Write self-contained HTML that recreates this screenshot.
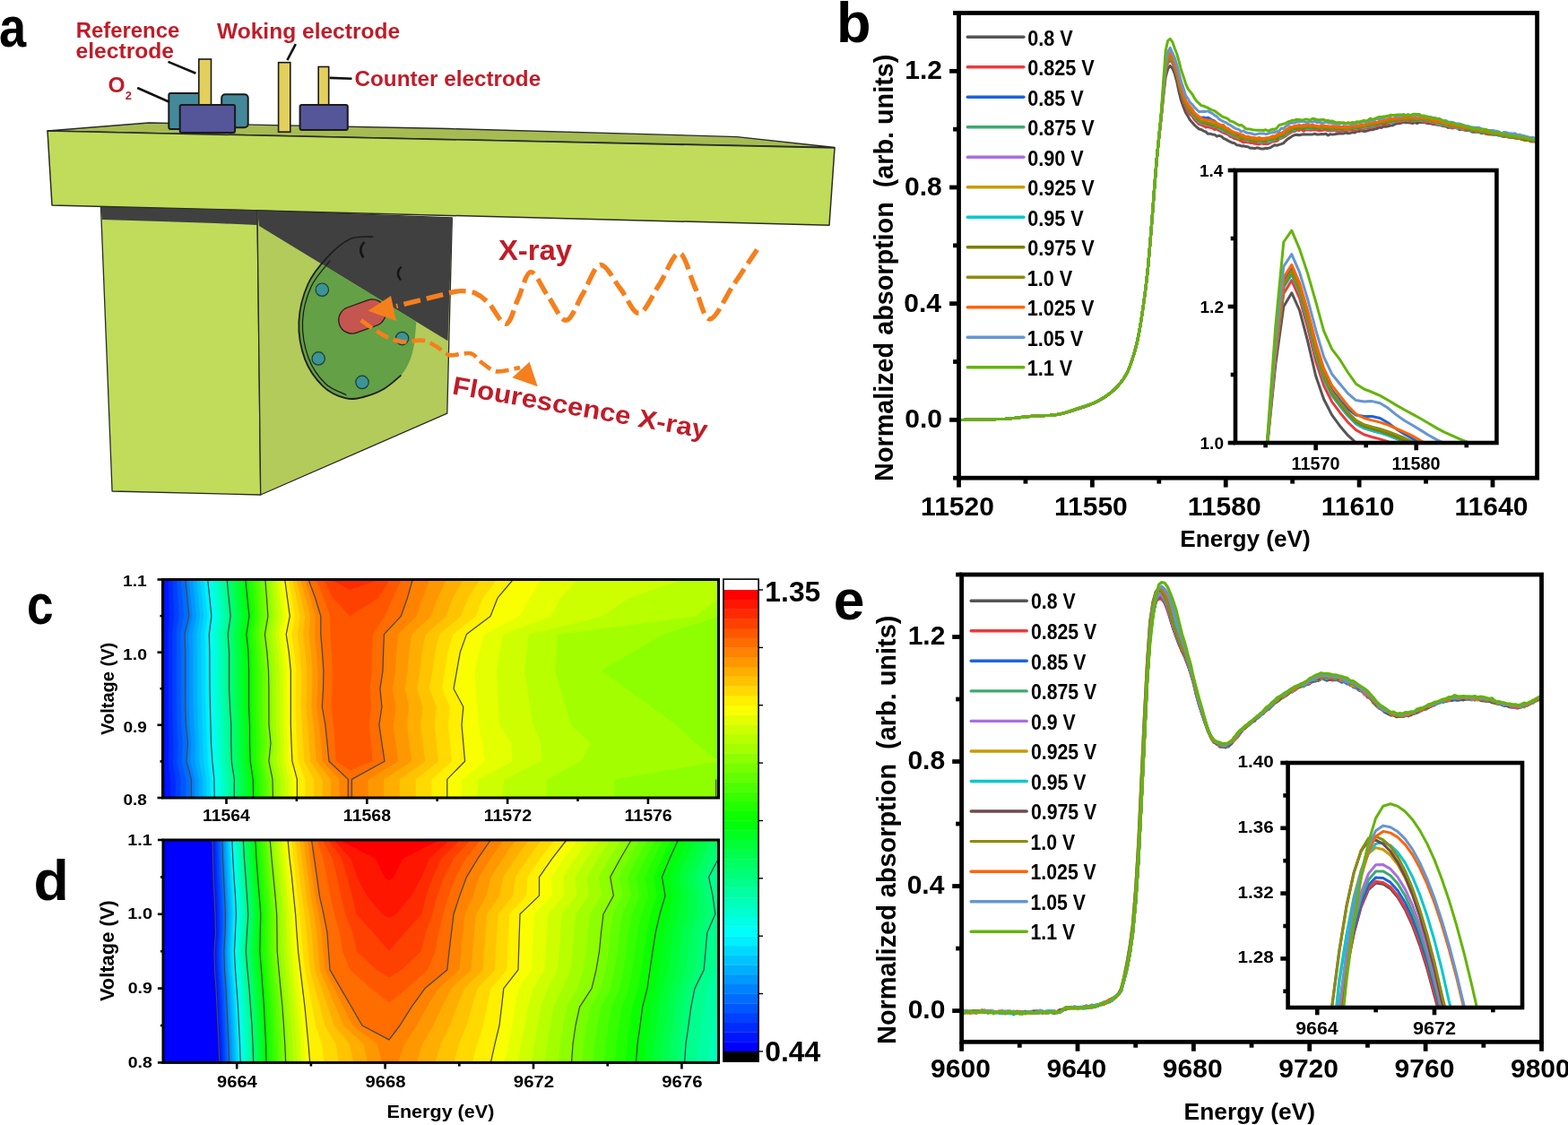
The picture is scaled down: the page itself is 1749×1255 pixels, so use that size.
<!DOCTYPE html>
<html><head><meta charset="utf-8"><title>Figure</title>
<style>html,body{margin:0;padding:0;background:#fff;}body{width:1749px;height:1255px;overflow:hidden;}svg{display:block;font-family:"Liberation Sans",Arial,sans-serif;}</style>
</head><body>
<svg width="1749" height="1255" viewBox="0 0 1749 1255"><polygon points="53,146 166,137 500,143.5 822,152.6 931,164.5" fill="#a6bc52" stroke="#2a2a2a" stroke-width="1.3" stroke-linejoin="round"/>
<rect x="188.3" y="104" width="34.3" height="40" rx="2" fill="#44899a" stroke="#1a1a1a" stroke-width="2"/>
<rect x="247.2" y="105.2" width="29.5" height="37" rx="4" fill="#44899a" stroke="#1a1a1a" stroke-width="2"/>
<rect x="221.8" y="66" width="13.7" height="54" fill="#e3cf5c" stroke="#1a1a1a" stroke-width="1.6"/>
<rect x="200.7" y="116.9" width="61.4" height="31" rx="2" fill="#55559a" stroke="#1a1a1a" stroke-width="2"/>
<rect x="310.6" y="69.7" width="13.2" height="77.5" fill="#e3cf5c" stroke="#1a1a1a" stroke-width="1.6"/>
<rect x="355.2" y="74.5" width="11.5" height="46" fill="#e3cf5c" stroke="#1a1a1a" stroke-width="1.6"/>
<rect x="334.6" y="117" width="53.2" height="28" rx="2" fill="#55559a" stroke="#1a1a1a" stroke-width="2"/>
<line x1="153.2" y1="98" x2="188.3" y2="113.5" stroke="#111" stroke-width="2.6"/>
<line x1="187.5" y1="68.9" x2="218.4" y2="81.7" stroke="#111" stroke-width="2.6"/>
<line x1="329.8" y1="49.2" x2="320.4" y2="67.2" stroke="#111" stroke-width="2.6"/>
<line x1="367.6" y1="86.9" x2="392.5" y2="87.8" stroke="#111" stroke-width="2.6"/>
<polygon points="53,146 931,165 925,251.3 58,229" fill="#c0dc5a" stroke="#2a2a2a" stroke-width="1.5" stroke-linejoin="round"/>
<polygon points="112.5,231 287,235 290.7,552 125.1,548" fill="#c0dc5a" stroke="#2a2a2a" stroke-width="1.3" stroke-linejoin="round"/>
<polygon points="112.5,231 287,235 287,251 240,249 180,247 114,245" fill="#404040"/>
<polygon points="287,235 504.3,243 498.8,461.2 290.7,552" fill="#b3cb5a" stroke="#2a2a2a" stroke-width="1.3" stroke-linejoin="round"/>
<clipPath id="litface"><polygon points="289,252 499.5,380.3 498.8,461.2 290.7,552"/></clipPath>
<clipPath id="darkface"><polygon points="287,235 504.3,243 499.5,380.3 289,252"/></clipPath>
<polygon points="287,235 504.3,243 499.5,380.3 289,252" fill="#404040"/>
<g clip-path="url(#litface)"><path d="M415.4,264.2 C411.2,264.6 398.7,262.9 390.3,266.7 C381.9,270.5 373.0,278.4 365.2,286.8 C357.4,295.2 348.8,305.0 343.5,317.0 C338.2,329.0 334.0,344.9 333.4,358.8 C332.8,372.7 335.6,388.6 340.1,400.6 C344.6,412.6 352.7,423.5 360.2,430.8 C367.7,438.1 377.8,442.2 385.3,444.2 C392.8,446.2 397.9,444.7 405.0,443.0 C412.1,441.3 421.0,438.0 428.0,434.0 C435.0,430.0 442.0,424.7 447.0,419.0 C452.0,413.3 455.3,407.3 458.0,400.0 C460.7,392.7 462.0,385.0 463.0,375.0 C464.0,365.0 465.3,352.5 464.0,340.0 C462.7,327.5 459.3,311.3 455.0,300.0 C450.7,288.7 444.6,278.0 438.0,272.0 C431.4,266.0 419.2,265.5 415.4,264.2Z" fill="#63a046"/></g>
<path d="M415.4,264.2 C411.2,264.6 398.7,262.9 390.3,266.7 C381.9,270.5 373.0,278.4 365.2,286.8 C357.4,295.2 348.8,305.0 343.5,317.0 C338.2,329.0 334.0,344.9 333.4,358.8 C332.8,372.7 335.6,388.6 340.1,400.6 C344.6,412.6 352.7,423.5 360.2,430.8 C367.7,438.1 377.8,442.2 385.3,444.2 C392.8,446.2 397.9,444.7 405.0,443.0 C412.1,441.3 421.0,438.0 428.0,434.0 C435.0,430.0 443.8,421.5 447.0,419.0" fill="none" stroke="#1e1e1e" stroke-width="1.8" stroke-linecap="round"/>
<path d="M368.0,291.0 C364.5,295.8 352.1,308.7 347.0,320.0 C341.9,331.3 338.0,345.6 337.5,358.8 C337.0,372.0 339.8,387.5 344.0,399.0 C348.2,410.5 356.0,421.1 363.0,428.0 C370.0,434.9 382.2,438.4 386.0,440.5" fill="none" stroke="#1e1e1e" stroke-width="1.3" stroke-linecap="round"/>
<path d="M406.5,270 q-8,8 -1,17.5" fill="none" stroke="#151515" stroke-width="2.4"/>
<path d="M447.5,297.5 q-7,7 -0.5,15" fill="none" stroke="#151515" stroke-width="2.4"/>
<g transform="translate(404,353) rotate(-20)"><rect x="-27" y="-15" width="54" height="30" rx="15" fill="#c4554f" stroke="#2a1a1a" stroke-width="1.3"/></g>
<circle cx="359.3" cy="323.2" r="7.2" fill="#3c9494" stroke="#1d3a3a" stroke-width="1.2"/>
<circle cx="355.2" cy="399.9" r="7.2" fill="#3c9494" stroke="#1d3a3a" stroke-width="1.2"/>
<circle cx="404" cy="426.4" r="7.2" fill="#3c9494" stroke="#1d3a3a" stroke-width="1.2"/>
<circle cx="448.6" cy="377.6" r="7.2" fill="#3c9494" stroke="#1d3a3a" stroke-width="1.2"/>
<path d="M844.5,278.4 C840.1,285.0 826.8,305.1 818.0,318.0 C809.2,330.9 799.1,355.7 791.9,356.0 C784.7,356.3 780.7,332.3 775.0,320.0 C769.3,307.7 764.4,282.7 757.7,282.4 C751.0,282.1 742.5,306.8 735.0,318.0 C727.5,329.2 720.2,348.7 713.0,349.4 C705.8,350.1 699.2,331.0 692.0,322.0 C684.8,313.0 676.6,294.5 669.6,295.5 C662.6,296.5 656.4,317.7 650.0,328.0 C643.6,338.3 638.0,357.0 631.5,357.3 C625.0,357.6 617.6,339.0 611.0,330.0 C604.4,321.0 597.5,302.9 592.0,303.4 C586.5,303.9 582.6,323.4 578.0,333.0 C573.4,342.6 569.9,360.5 564.4,361.3 C558.9,362.1 550.7,343.7 545.0,338.0 C539.3,332.3 535.0,329.2 530.0,327.0 C525.0,324.8 519.1,324.8 515.0,324.6 C510.9,324.4 506.8,325.6 505.2,325.8 L442,341.5" fill="none" stroke="#f57f1c" stroke-width="5.4" stroke-dasharray="19,7" stroke-linecap="butt"/>
<polygon points="410.5,346.8 436,330 442,358" fill="#f57f1c"/>
<path d="M402.6,357.3 C406.6,359.9 418.9,369.2 426.3,373.1 C433.8,377.1 439.9,379.9 447.3,381.0 C454.8,382.1 464.6,378.9 471.0,379.7 C477.4,380.5 481.0,383.3 486.0,386.0 C491.0,388.7 496.0,394.6 501.0,396.0 C506.0,397.4 511.7,394.7 516.0,394.5 C520.3,394.3 523.3,393.2 527.0,395.0 C530.7,396.8 533.8,401.8 538.0,405.0 C542.2,408.2 547.4,412.7 552.2,414.0 C557.0,415.3 562.2,413.6 566.8,412.9 C571.4,412.2 577.8,410.5 580.0,410.0" fill="none" stroke="#f57f1c" stroke-width="4.6" stroke-dasharray="15,6"/>
<polygon points="571.4,421.2 590.6,403.8 599.8,431.2" fill="#f57f1c"/>
<text x="84.65" y="42.10" font-size="23.50" fill="#c01c28" font-weight="bold" textLength="115.62" lengthAdjust="spacingAndGlyphs" >Reference</text>
<text x="84.52" y="64.80" font-size="23.50" fill="#c01c28" font-weight="bold" textLength="109.48" lengthAdjust="spacingAndGlyphs" >electrode</text>
<text x="120.42" y="103.10" font-size="23.50" fill="#c01c28" font-weight="bold" textLength="19.03" lengthAdjust="spacingAndGlyphs" >O</text>
<text x="139.85" y="110.70" font-size="13.00" fill="#c01c28" font-weight="bold" textLength="7.18" lengthAdjust="spacingAndGlyphs" >2</text>
<text x="241.90" y="42.90" font-size="24.00" fill="#c01c28" font-weight="bold" textLength="204.30" lengthAdjust="spacingAndGlyphs" >Woking electrode</text>
<text x="395.53" y="96.40" font-size="24.00" fill="#c01c28" font-weight="bold" textLength="207.68" lengthAdjust="spacingAndGlyphs" >Counter electrode</text>
<text x="555.97" y="289.50" font-size="31.00" fill="#c01c28" font-weight="bold" textLength="82.14" lengthAdjust="spacingAndGlyphs" >X-ray</text>
<g transform="rotate(10 505.6 439.5)"><text x="503.57" y="439.50" font-size="28.50" fill="#c01c28" font-weight="bold" textLength="288.24" lengthAdjust="spacingAndGlyphs" >Flourescence X-ray</text></g>
<text x="-1.03" y="51.60" font-size="63.00" fill="#000" font-weight="bold" textLength="30.15" lengthAdjust="spacingAndGlyphs" >a</text>
<clipPath id="cb"><rect x="1069.5" y="14.5" width="645.1" height="518.7"/></clipPath>
<polyline points="1069.5,468.4 1072.0,468.4 1074.5,468.4 1076.9,468.3 1079.4,468.3 1081.9,468.3 1084.4,468.3 1086.9,468.2 1089.3,468.2 1091.8,468.1 1094.3,468.1 1096.8,468.0 1099.3,468.0 1101.8,467.9 1104.2,467.9 1106.7,467.8 1109.2,467.7 1111.7,467.6 1114.2,467.6 1116.6,467.5 1119.1,467.4 1121.6,467.3 1124.1,467.1 1126.6,466.9 1129.0,466.6 1131.5,466.4 1134.0,466.1 1136.5,465.8 1139.0,465.5 1141.5,465.2 1143.9,464.9 1146.4,464.7 1148.9,464.5 1151.4,464.3 1153.9,464.2 1156.3,464.0 1158.8,463.9 1161.3,463.8 1163.8,463.7 1166.3,463.6 1168.7,463.4 1171.2,463.3 1173.7,463.1 1176.2,462.9 1178.7,462.6 1181.2,462.2 1183.6,461.7 1186.1,461.1 1188.6,460.4 1191.1,459.7 1193.6,459.0 1196.0,458.2 1198.5,457.4 1201.0,456.6 1203.5,455.9 1206.0,455.1 1208.4,454.3 1210.9,453.4 1213.4,452.6 1215.9,451.6 1218.4,450.5 1220.9,449.4 1223.3,448.2 1225.8,446.9 1228.3,445.5 1230.8,444.0 1233.3,442.3 1235.7,440.5 1238.2,438.6 1240.7,436.6 1243.2,434.3 1245.7,431.9 1248.1,429.1 1250.6,426.0 1253.1,422.6 1255.6,418.8 1258.1,414.0 1260.5,408.0 1263.0,400.9 1265.5,392.7 1268.0,383.4 1270.5,371.4 1273.0,356.7 1275.4,340.4 1277.9,321.6 1280.4,299.5 1282.9,271.3 1285.4,239.8 1287.8,207.5 1290.3,177.5 1292.8,153.3 1295.3,131.2 1297.8,106.8 1300.2,85.5 1302.7,76.8 1305.2,73.4 1307.7,76.1 1310.2,82.0 1312.7,91.1 1315.1,102.7 1317.6,112.6 1320.1,119.4 1322.6,125.8 1325.1,129.8 1327.5,133.9 1330.0,136.7 1332.5,139.7 1335.0,141.8 1337.5,144.0 1339.9,144.5 1342.4,146.1 1344.9,146.9 1347.4,149.3 1349.9,149.2 1352.4,150.1 1354.8,150.2 1357.3,152.2 1359.8,151.3 1362.3,152.2 1364.8,154.3 1367.2,155.4 1369.7,156.9 1372.2,158.1 1374.7,159.3 1377.2,159.8 1379.6,161.8 1382.1,162.0 1384.6,162.9 1387.1,162.7 1389.6,163.6 1392.0,163.7 1394.5,165.2 1397.0,165.1 1399.5,165.7 1402.0,164.8 1404.5,165.4 1406.9,166.0 1409.4,166.1 1411.9,165.3 1414.4,165.4 1416.9,164.8 1419.3,163.3 1421.8,161.7 1424.3,162.2 1426.8,161.4 1429.3,160.6 1431.7,159.6 1434.2,157.0 1436.7,154.9 1439.2,153.4 1441.7,151.6 1444.2,150.6 1446.6,150.2 1449.1,150.8 1451.6,150.2 1454.1,149.8 1456.6,150.1 1459.0,149.9 1461.5,150.1 1464.0,149.9 1466.5,149.3 1469.0,150.0 1471.4,149.9 1473.9,149.5 1476.4,149.7 1478.9,149.2 1481.4,151.0 1483.9,149.6 1486.3,150.1 1488.8,149.7 1491.3,149.2 1493.8,148.9 1496.3,148.7 1498.7,148.9 1501.2,148.0 1503.7,148.7 1506.2,148.4 1508.7,147.6 1511.1,148.0 1513.6,146.4 1516.1,146.6 1518.6,145.7 1521.1,146.4 1523.6,146.2 1526.0,145.5 1528.5,144.7 1531.0,144.8 1533.5,143.8 1536.0,143.4 1538.4,142.0 1540.9,142.5 1543.4,141.0 1545.9,141.2 1548.4,140.8 1550.8,140.1 1553.3,139.9 1555.8,138.7 1558.3,137.8 1560.8,137.7 1563.2,137.1 1565.7,136.3 1568.2,136.8 1570.7,136.8 1573.2,137.0 1575.7,137.6 1578.1,136.4 1580.6,137.6 1583.1,136.3 1585.6,136.6 1588.1,136.2 1590.5,137.0 1593.0,137.8 1595.5,137.6 1598.0,138.5 1600.5,138.7 1602.9,139.0 1605.4,139.5 1607.9,140.0 1610.4,140.8 1612.9,141.0 1615.4,142.4 1617.8,141.9 1620.3,142.9 1622.8,142.3 1625.3,142.7 1627.8,144.7 1630.2,144.1 1632.7,144.7 1635.2,145.6 1637.7,145.3 1640.2,146.2 1642.6,147.3 1645.1,147.0 1647.6,147.3 1650.1,147.6 1652.6,148.7 1655.1,148.1 1657.5,148.5 1660.0,149.8 1662.5,149.9 1665.0,150.0 1667.5,150.6 1669.9,149.8 1672.4,150.9 1674.9,151.9 1677.4,152.2 1679.9,152.2 1682.3,151.5 1684.8,153.1 1687.3,153.4 1689.8,153.6 1692.3,154.3 1694.8,153.6 1697.2,155.4 1699.7,155.2 1702.2,155.9 1704.7,156.1 1707.2,157.4 1709.6,156.4 1712.1,157.8 1714.6,158.1" fill="none" stroke="#555555" stroke-width="3" stroke-linejoin="round" stroke-linecap="round" clip-path="url(#cb)"/>
<polyline points="1069.5,468.4 1072.0,468.4 1074.5,468.4 1076.9,468.3 1079.4,468.3 1081.9,468.3 1084.4,468.3 1086.9,468.2 1089.3,468.2 1091.8,468.1 1094.3,468.1 1096.8,468.0 1099.3,468.0 1101.8,467.9 1104.2,467.9 1106.7,467.8 1109.2,467.7 1111.7,467.6 1114.2,467.6 1116.6,467.5 1119.1,467.4 1121.6,467.3 1124.1,467.1 1126.6,466.9 1129.0,466.6 1131.5,466.4 1134.0,466.1 1136.5,465.8 1139.0,465.5 1141.5,465.2 1143.9,464.9 1146.4,464.7 1148.9,464.5 1151.4,464.3 1153.9,464.2 1156.3,464.0 1158.8,463.9 1161.3,463.8 1163.8,463.7 1166.3,463.6 1168.7,463.4 1171.2,463.3 1173.7,463.1 1176.2,462.9 1178.7,462.6 1181.2,462.1 1183.6,461.6 1186.1,461.0 1188.6,460.4 1191.1,459.6 1193.6,458.9 1196.0,458.1 1198.5,457.3 1201.0,456.5 1203.5,455.7 1206.0,454.9 1208.4,454.1 1210.9,453.3 1213.4,452.4 1215.9,451.4 1218.4,450.4 1220.9,449.3 1223.3,448.1 1225.8,446.8 1228.3,445.4 1230.8,443.9 1233.3,442.3 1235.7,440.5 1238.2,438.6 1240.7,436.6 1243.2,434.3 1245.7,431.9 1248.1,429.1 1250.6,426.1 1253.1,422.6 1255.6,418.8 1258.1,414.0 1260.5,408.0 1263.0,400.9 1265.5,392.7 1268.0,383.4 1270.5,371.4 1273.0,356.7 1275.4,340.4 1277.9,321.6 1280.4,299.5 1282.9,271.3 1285.4,239.8 1287.8,207.6 1290.3,177.5 1292.8,152.8 1295.3,129.8 1297.8,103.2 1300.2,78.8 1302.7,70.3 1305.2,67.1 1307.7,69.9 1310.2,76.9 1312.7,85.1 1315.1,95.9 1317.6,104.8 1320.1,113.1 1322.6,119.4 1325.1,125.2 1327.5,127.7 1330.0,129.6 1332.5,133.6 1335.0,136.2 1337.5,138.6 1339.9,139.3 1342.4,140.5 1344.9,141.9 1347.4,141.6 1349.9,142.4 1352.4,143.0 1354.8,144.5 1357.3,144.1 1359.8,145.7 1362.3,146.8 1364.8,148.1 1367.2,149.2 1369.7,150.2 1372.2,152.3 1374.7,153.1 1377.2,154.6 1379.6,155.2 1382.1,156.2 1384.6,157.4 1387.1,158.9 1389.6,158.4 1392.0,158.7 1394.5,159.4 1397.0,159.6 1399.5,160.3 1402.0,160.5 1404.5,160.9 1406.9,159.9 1409.4,160.5 1411.9,160.5 1414.4,160.5 1416.9,159.3 1419.3,157.9 1421.8,157.7 1424.3,157.3 1426.8,155.2 1429.3,154.1 1431.7,153.1 1434.2,151.7 1436.7,149.7 1439.2,148.3 1441.7,146.7 1444.2,146.4 1446.6,145.0 1449.1,145.4 1451.6,144.4 1454.1,146.3 1456.6,144.9 1459.0,144.7 1461.5,145.3 1464.0,145.0 1466.5,144.9 1469.0,145.0 1471.4,145.7 1473.9,145.6 1476.4,145.1 1478.9,145.1 1481.4,145.7 1483.9,145.7 1486.3,145.7 1488.8,145.3 1491.3,146.3 1493.8,146.4 1496.3,145.6 1498.7,146.1 1501.2,145.7 1503.7,145.3 1506.2,144.9 1508.7,145.5 1511.1,144.3 1513.6,145.3 1516.1,143.8 1518.6,144.5 1521.1,144.0 1523.6,142.6 1526.0,142.7 1528.5,142.4 1531.0,141.8 1533.5,140.9 1536.0,140.6 1538.4,140.0 1540.9,138.9 1543.4,139.1 1545.9,138.5 1548.4,138.0 1550.8,136.7 1553.3,136.4 1555.8,135.9 1558.3,136.1 1560.8,135.8 1563.2,135.0 1565.7,135.4 1568.2,134.7 1570.7,134.7 1573.2,135.5 1575.7,135.2 1578.1,135.2 1580.6,134.3 1583.1,134.0 1585.6,135.3 1588.1,135.4 1590.5,136.9 1593.0,136.1 1595.5,136.7 1598.0,137.7 1600.5,137.3 1602.9,139.0 1605.4,138.9 1607.9,139.3 1610.4,140.5 1612.9,140.1 1615.4,140.5 1617.8,142.2 1620.3,142.7 1622.8,142.3 1625.3,143.0 1627.8,144.1 1630.2,144.1 1632.7,144.5 1635.2,145.0 1637.7,145.0 1640.2,145.7 1642.6,145.4 1645.1,146.1 1647.6,146.8 1650.1,147.1 1652.6,147.4 1655.1,148.1 1657.5,149.5 1660.0,148.8 1662.5,149.6 1665.0,149.3 1667.5,150.4 1669.9,150.6 1672.4,151.1 1674.9,150.8 1677.4,152.0 1679.9,152.6 1682.3,152.7 1684.8,153.5 1687.3,153.6 1689.8,154.1 1692.3,154.4 1694.8,154.1 1697.2,155.6 1699.7,155.8 1702.2,156.4 1704.7,156.4 1707.2,157.7 1709.6,157.9 1712.1,158.0 1714.6,158.1" fill="none" stroke="#eb3a3c" stroke-width="3" stroke-linejoin="round" stroke-linecap="round" clip-path="url(#cb)"/>
<polyline points="1069.5,468.4 1072.0,468.4 1074.5,468.4 1076.9,468.3 1079.4,468.3 1081.9,468.3 1084.4,468.3 1086.9,468.2 1089.3,468.2 1091.8,468.1 1094.3,468.1 1096.8,468.0 1099.3,468.0 1101.8,467.9 1104.2,467.9 1106.7,467.8 1109.2,467.7 1111.7,467.6 1114.2,467.6 1116.6,467.5 1119.1,467.4 1121.6,467.3 1124.1,467.1 1126.6,466.9 1129.0,466.6 1131.5,466.4 1134.0,466.1 1136.5,465.8 1139.0,465.5 1141.5,465.2 1143.9,464.9 1146.4,464.7 1148.9,464.5 1151.4,464.3 1153.9,464.2 1156.3,464.0 1158.8,463.9 1161.3,463.8 1163.8,463.7 1166.3,463.6 1168.7,463.4 1171.2,463.3 1173.7,463.1 1176.2,462.9 1178.7,462.5 1181.2,462.1 1183.6,461.6 1186.1,461.0 1188.6,460.3 1191.1,459.6 1193.6,458.8 1196.0,458.0 1198.5,457.1 1201.0,456.3 1203.5,455.5 1206.0,454.7 1208.4,453.9 1210.9,453.1 1213.4,452.2 1215.9,451.3 1218.4,450.3 1220.9,449.2 1223.3,448.0 1225.8,446.7 1228.3,445.4 1230.8,443.9 1233.3,442.3 1235.7,440.5 1238.2,438.6 1240.7,436.6 1243.2,434.4 1245.7,431.9 1248.1,429.1 1250.6,426.1 1253.1,422.6 1255.6,418.8 1258.1,414.0 1260.5,408.0 1263.0,400.9 1265.5,392.7 1268.0,383.4 1270.5,371.4 1273.0,356.7 1275.4,340.4 1277.9,321.6 1280.4,299.5 1282.9,271.3 1285.4,239.8 1287.8,207.6 1290.3,177.4 1292.8,152.4 1295.3,128.6 1297.8,99.9 1300.2,74.4 1302.7,64.5 1305.2,60.1 1307.7,64.4 1310.2,71.9 1312.7,79.7 1315.1,89.9 1317.6,99.0 1320.1,107.9 1322.6,113.2 1325.1,118.6 1327.5,121.5 1330.0,124.4 1332.5,126.6 1335.0,129.5 1337.5,131.3 1339.9,131.3 1342.4,130.9 1344.9,131.7 1347.4,131.2 1349.9,132.5 1352.4,134.3 1354.8,135.0 1357.3,137.9 1359.8,138.6 1362.3,140.8 1364.8,141.6 1367.2,143.9 1369.7,145.2 1372.2,145.8 1374.7,147.7 1377.2,149.1 1379.6,150.3 1382.1,150.8 1384.6,152.5 1387.1,153.1 1389.6,153.3 1392.0,154.2 1394.5,154.7 1397.0,154.7 1399.5,155.0 1402.0,155.2 1404.5,154.4 1406.9,154.8 1409.4,154.6 1411.9,155.0 1414.4,154.9 1416.9,154.9 1419.3,153.8 1421.8,154.0 1424.3,152.1 1426.8,150.3 1429.3,148.7 1431.7,147.9 1434.2,147.3 1436.7,145.0 1439.2,144.1 1441.7,142.0 1444.2,141.5 1446.6,140.7 1449.1,139.7 1451.6,140.4 1454.1,139.6 1456.6,140.6 1459.0,140.7 1461.5,139.9 1464.0,139.8 1466.5,141.0 1469.0,140.8 1471.4,141.6 1473.9,141.2 1476.4,140.8 1478.9,141.4 1481.4,141.7 1483.9,142.2 1486.3,141.4 1488.8,141.3 1491.3,141.5 1493.8,141.7 1496.3,142.5 1498.7,141.0 1501.2,141.8 1503.7,141.8 1506.2,141.2 1508.7,142.4 1511.1,141.1 1513.6,140.9 1516.1,140.3 1518.6,139.4 1521.1,139.4 1523.6,140.1 1526.0,138.9 1528.5,138.1 1531.0,137.7 1533.5,137.9 1536.0,137.5 1538.4,135.9 1540.9,135.4 1543.4,135.0 1545.9,135.3 1548.4,133.1 1550.8,135.0 1553.3,133.4 1555.8,131.9 1558.3,132.6 1560.8,132.1 1563.2,132.5 1565.7,131.1 1568.2,132.3 1570.7,131.6 1573.2,131.7 1575.7,132.3 1578.1,131.4 1580.6,132.5 1583.1,132.2 1585.6,132.0 1588.1,132.4 1590.5,132.3 1593.0,132.5 1595.5,133.7 1598.0,134.3 1600.5,134.9 1602.9,135.4 1605.4,135.4 1607.9,136.5 1610.4,136.9 1612.9,137.7 1615.4,138.6 1617.8,138.3 1620.3,139.8 1622.8,139.8 1625.3,139.6 1627.8,141.3 1630.2,141.3 1632.7,142.5 1635.2,142.5 1637.7,143.4 1640.2,143.4 1642.6,143.9 1645.1,144.1 1647.6,143.8 1650.1,144.9 1652.6,145.2 1655.1,145.9 1657.5,146.5 1660.0,147.2 1662.5,148.1 1665.0,147.6 1667.5,147.3 1669.9,148.2 1672.4,149.2 1674.9,148.5 1677.4,149.9 1679.9,150.5 1682.3,151.2 1684.8,151.5 1687.3,151.6 1689.8,150.9 1692.3,152.4 1694.8,153.2 1697.2,153.4 1699.7,153.7 1702.2,154.8 1704.7,154.4 1707.2,154.5 1709.6,155.1 1712.1,155.4 1714.6,156.7" fill="none" stroke="#1c64dc" stroke-width="3" stroke-linejoin="round" stroke-linecap="round" clip-path="url(#cb)"/>
<polyline points="1069.5,468.4 1072.0,468.4 1074.5,468.4 1076.9,468.3 1079.4,468.3 1081.9,468.3 1084.4,468.3 1086.9,468.2 1089.3,468.2 1091.8,468.1 1094.3,468.1 1096.8,468.0 1099.3,468.0 1101.8,467.9 1104.2,467.9 1106.7,467.8 1109.2,467.7 1111.7,467.6 1114.2,467.6 1116.6,467.5 1119.1,467.4 1121.6,467.3 1124.1,467.1 1126.6,466.9 1129.0,466.6 1131.5,466.4 1134.0,466.1 1136.5,465.8 1139.0,465.5 1141.5,465.2 1143.9,464.9 1146.4,464.7 1148.9,464.5 1151.4,464.3 1153.9,464.2 1156.3,464.0 1158.8,463.9 1161.3,463.8 1163.8,463.7 1166.3,463.6 1168.7,463.4 1171.2,463.3 1173.7,463.1 1176.2,462.9 1178.7,462.5 1181.2,462.1 1183.6,461.6 1186.1,461.0 1188.6,460.3 1191.1,459.6 1193.6,458.8 1196.0,458.0 1198.5,457.2 1201.0,456.4 1203.5,455.6 1206.0,454.8 1208.4,454.0 1210.9,453.2 1213.4,452.3 1215.9,451.4 1218.4,450.3 1220.9,449.2 1223.3,448.0 1225.8,446.8 1228.3,445.4 1230.8,443.9 1233.3,442.3 1235.7,440.5 1238.2,438.6 1240.7,436.6 1243.2,434.4 1245.7,431.9 1248.1,429.1 1250.6,426.1 1253.1,422.6 1255.6,418.8 1258.1,414.0 1260.5,408.0 1263.0,400.9 1265.5,392.7 1268.0,383.4 1270.5,371.4 1273.0,356.7 1275.4,340.4 1277.9,321.6 1280.4,299.5 1282.9,271.3 1285.4,239.8 1287.8,207.6 1290.3,177.4 1292.8,152.6 1295.3,129.2 1297.8,101.4 1300.2,76.6 1302.7,67.8 1305.2,63.6 1307.7,67.6 1310.2,73.4 1312.7,82.5 1315.1,92.9 1317.6,102.1 1320.1,108.8 1322.6,116.2 1325.1,121.2 1327.5,124.6 1330.0,127.7 1332.5,129.4 1335.0,133.8 1337.5,135.5 1339.9,136.2 1342.4,136.9 1344.9,138.3 1347.4,138.4 1349.9,139.1 1352.4,139.8 1354.8,141.1 1357.3,141.3 1359.8,142.9 1362.3,143.2 1364.8,145.6 1367.2,145.9 1369.7,148.4 1372.2,150.0 1374.7,150.6 1377.2,152.5 1379.6,152.9 1382.1,154.4 1384.6,153.9 1387.1,155.4 1389.6,156.6 1392.0,156.5 1394.5,156.6 1397.0,157.8 1399.5,157.4 1402.0,156.8 1404.5,157.5 1406.9,158.0 1409.4,158.3 1411.9,157.5 1414.4,158.1 1416.9,158.3 1419.3,156.6 1421.8,156.1 1424.3,153.6 1426.8,153.3 1429.3,152.8 1431.7,151.6 1434.2,149.3 1436.7,148.3 1439.2,146.5 1441.7,144.9 1444.2,143.9 1446.6,143.5 1449.1,143.4 1451.6,142.6 1454.1,142.3 1456.6,143.9 1459.0,141.8 1461.5,142.9 1464.0,142.4 1466.5,143.5 1469.0,143.1 1471.4,143.2 1473.9,143.4 1476.4,143.2 1478.9,143.4 1481.4,144.2 1483.9,143.9 1486.3,143.5 1488.8,143.6 1491.3,144.1 1493.8,144.1 1496.3,144.0 1498.7,144.4 1501.2,144.4 1503.7,142.9 1506.2,143.8 1508.7,143.3 1511.1,143.5 1513.6,142.2 1516.1,141.6 1518.6,142.2 1521.1,141.4 1523.6,141.6 1526.0,139.9 1528.5,139.9 1531.0,140.3 1533.5,138.8 1536.0,138.6 1538.4,138.0 1540.9,137.5 1543.4,137.4 1545.9,136.8 1548.4,135.7 1550.8,135.6 1553.3,135.7 1555.8,133.9 1558.3,134.6 1560.8,134.4 1563.2,134.2 1565.7,133.3 1568.2,133.1 1570.7,133.5 1573.2,133.2 1575.7,134.4 1578.1,133.9 1580.6,134.0 1583.1,133.8 1585.6,133.6 1588.1,135.0 1590.5,132.9 1593.0,135.2 1595.5,135.2 1598.0,135.5 1600.5,136.0 1602.9,136.8 1605.4,138.9 1607.9,138.7 1610.4,138.4 1612.9,139.8 1615.4,140.4 1617.8,141.5 1620.3,140.3 1622.8,141.2 1625.3,142.3 1627.8,142.5 1630.2,142.9 1632.7,143.9 1635.2,144.0 1637.7,144.2 1640.2,144.5 1642.6,144.6 1645.1,145.7 1647.6,146.4 1650.1,146.4 1652.6,147.3 1655.1,148.1 1657.5,147.3 1660.0,148.5 1662.5,148.7 1665.0,148.8 1667.5,150.1 1669.9,149.6 1672.4,150.1 1674.9,150.8 1677.4,151.0 1679.9,152.0 1682.3,153.1 1684.8,152.6 1687.3,153.3 1689.8,152.9 1692.3,153.6 1694.8,154.4 1697.2,154.6 1699.7,154.4 1702.2,154.9 1704.7,155.7 1707.2,156.1 1709.6,156.8 1712.1,157.2 1714.6,157.2" fill="none" stroke="#3caa6e" stroke-width="3" stroke-linejoin="round" stroke-linecap="round" clip-path="url(#cb)"/>
<polyline points="1069.5,468.4 1072.0,468.4 1074.5,468.4 1076.9,468.3 1079.4,468.3 1081.9,468.3 1084.4,468.3 1086.9,468.2 1089.3,468.2 1091.8,468.1 1094.3,468.1 1096.8,468.0 1099.3,468.0 1101.8,467.9 1104.2,467.9 1106.7,467.8 1109.2,467.7 1111.7,467.6 1114.2,467.6 1116.6,467.5 1119.1,467.4 1121.6,467.3 1124.1,467.1 1126.6,466.9 1129.0,466.6 1131.5,466.4 1134.0,466.1 1136.5,465.8 1139.0,465.5 1141.5,465.2 1143.9,464.9 1146.4,464.7 1148.9,464.5 1151.4,464.3 1153.9,464.2 1156.3,464.0 1158.8,463.9 1161.3,463.8 1163.8,463.7 1166.3,463.6 1168.7,463.4 1171.2,463.3 1173.7,463.1 1176.2,462.9 1178.7,462.5 1181.2,462.1 1183.6,461.6 1186.1,461.0 1188.6,460.3 1191.1,459.6 1193.6,458.8 1196.0,458.0 1198.5,457.2 1201.0,456.4 1203.5,455.6 1206.0,454.8 1208.4,454.0 1210.9,453.2 1213.4,452.3 1215.9,451.4 1218.4,450.3 1220.9,449.2 1223.3,448.0 1225.8,446.8 1228.3,445.4 1230.8,443.9 1233.3,442.3 1235.7,440.5 1238.2,438.6 1240.7,436.6 1243.2,434.4 1245.7,431.9 1248.1,429.1 1250.6,426.1 1253.1,422.6 1255.6,418.8 1258.1,414.0 1260.5,408.0 1263.0,400.9 1265.5,392.7 1268.0,383.4 1270.5,371.4 1273.0,356.7 1275.4,340.4 1277.9,321.6 1280.4,299.5 1282.9,271.3 1285.4,239.8 1287.8,207.6 1290.3,177.4 1292.8,152.6 1295.3,129.2 1297.8,101.4 1300.2,76.8 1302.7,67.0 1305.2,63.0 1307.7,67.8 1310.2,74.9 1312.7,81.7 1315.1,91.9 1317.6,101.1 1320.1,109.3 1322.6,115.9 1325.1,120.7 1327.5,124.7 1330.0,127.4 1332.5,129.9 1335.0,133.1 1337.5,134.1 1339.9,137.3 1342.4,137.7 1344.9,137.7 1347.4,139.1 1349.9,140.0 1352.4,140.9 1354.8,141.5 1357.3,141.3 1359.8,142.8 1362.3,143.7 1364.8,145.3 1367.2,145.9 1369.7,147.7 1372.2,149.8 1374.7,151.0 1377.2,152.0 1379.6,152.5 1382.1,153.9 1384.6,154.4 1387.1,154.4 1389.6,156.4 1392.0,157.2 1394.5,156.6 1397.0,157.2 1399.5,157.7 1402.0,157.7 1404.5,158.1 1406.9,157.8 1409.4,158.2 1411.9,157.4 1414.4,157.9 1416.9,157.2 1419.3,156.2 1421.8,155.8 1424.3,154.2 1426.8,153.4 1429.3,152.5 1431.7,151.0 1434.2,149.8 1436.7,148.7 1439.2,146.8 1441.7,145.2 1444.2,144.2 1446.6,143.5 1449.1,143.0 1451.6,143.0 1454.1,142.3 1456.6,142.5 1459.0,143.1 1461.5,142.2 1464.0,142.5 1466.5,143.3 1469.0,143.1 1471.4,142.8 1473.9,143.3 1476.4,143.1 1478.9,143.5 1481.4,143.4 1483.9,144.0 1486.3,143.7 1488.8,144.1 1491.3,143.6 1493.8,144.8 1496.3,143.8 1498.7,143.3 1501.2,143.5 1503.7,143.7 1506.2,143.3 1508.7,143.8 1511.1,143.5 1513.6,143.0 1516.1,142.5 1518.6,141.6 1521.1,142.1 1523.6,140.8 1526.0,141.6 1528.5,140.7 1531.0,139.9 1533.5,138.8 1536.0,139.1 1538.4,139.3 1540.9,137.5 1543.4,137.1 1545.9,137.1 1548.4,136.6 1550.8,136.0 1553.3,135.2 1555.8,134.6 1558.3,135.2 1560.8,133.1 1563.2,133.9 1565.7,133.9 1568.2,133.3 1570.7,133.6 1573.2,132.5 1575.7,133.1 1578.1,133.9 1580.6,133.9 1583.1,134.0 1585.6,134.0 1588.1,133.7 1590.5,134.7 1593.0,134.0 1595.5,135.4 1598.0,135.9 1600.5,135.9 1602.9,137.9 1605.4,138.0 1607.9,137.9 1610.4,138.7 1612.9,139.3 1615.4,139.7 1617.8,140.7 1620.3,141.0 1622.8,142.1 1625.3,142.8 1627.8,141.8 1630.2,143.3 1632.7,143.7 1635.2,143.2 1637.7,143.8 1640.2,145.0 1642.6,145.5 1645.1,145.7 1647.6,146.6 1650.1,146.3 1652.6,147.0 1655.1,147.4 1657.5,147.5 1660.0,148.0 1662.5,147.8 1665.0,148.4 1667.5,150.4 1669.9,149.5 1672.4,150.9 1674.9,151.5 1677.4,150.8 1679.9,151.9 1682.3,152.2 1684.8,151.9 1687.3,153.2 1689.8,153.7 1692.3,153.6 1694.8,153.6 1697.2,154.3 1699.7,155.8 1702.2,155.7 1704.7,155.9 1707.2,155.3 1709.6,156.3 1712.1,156.7 1714.6,156.9" fill="none" stroke="#aa6ee0" stroke-width="3" stroke-linejoin="round" stroke-linecap="round" clip-path="url(#cb)"/>
<polyline points="1069.5,468.4 1072.0,468.4 1074.5,468.4 1076.9,468.3 1079.4,468.3 1081.9,468.3 1084.4,468.3 1086.9,468.2 1089.3,468.2 1091.8,468.1 1094.3,468.1 1096.8,468.0 1099.3,468.0 1101.8,467.9 1104.2,467.9 1106.7,467.8 1109.2,467.7 1111.7,467.6 1114.2,467.6 1116.6,467.5 1119.1,467.4 1121.6,467.3 1124.1,467.1 1126.6,466.9 1129.0,466.6 1131.5,466.4 1134.0,466.1 1136.5,465.8 1139.0,465.5 1141.5,465.2 1143.9,464.9 1146.4,464.7 1148.9,464.5 1151.4,464.3 1153.9,464.2 1156.3,464.0 1158.8,463.9 1161.3,463.8 1163.8,463.7 1166.3,463.6 1168.7,463.4 1171.2,463.3 1173.7,463.1 1176.2,462.9 1178.7,462.5 1181.2,462.1 1183.6,461.6 1186.1,461.0 1188.6,460.3 1191.1,459.6 1193.6,458.8 1196.0,458.0 1198.5,457.2 1201.0,456.3 1203.5,455.5 1206.0,454.8 1208.4,454.0 1210.9,453.2 1213.4,452.3 1215.9,451.3 1218.4,450.3 1220.9,449.2 1223.3,448.0 1225.8,446.8 1228.3,445.4 1230.8,443.9 1233.3,442.3 1235.7,440.5 1238.2,438.6 1240.7,436.6 1243.2,434.4 1245.7,431.9 1248.1,429.1 1250.6,426.1 1253.1,422.6 1255.6,418.8 1258.1,414.0 1260.5,408.0 1263.0,400.9 1265.5,392.7 1268.0,383.4 1270.5,371.4 1273.0,356.7 1275.4,340.4 1277.9,321.6 1280.4,299.5 1282.9,271.3 1285.4,239.8 1287.8,207.6 1290.3,177.4 1292.8,152.5 1295.3,129.0 1297.8,100.8 1300.2,75.4 1302.7,66.7 1305.2,63.3 1307.7,66.2 1310.2,72.9 1312.7,81.9 1315.1,91.5 1317.6,101.3 1320.1,108.8 1322.6,115.9 1325.1,120.3 1327.5,123.0 1330.0,126.1 1332.5,129.0 1335.0,131.4 1337.5,134.0 1339.9,135.7 1342.4,136.5 1344.9,136.2 1347.4,137.5 1349.9,138.0 1352.4,139.0 1354.8,139.7 1357.3,140.5 1359.8,141.7 1362.3,142.8 1364.8,144.1 1367.2,145.5 1369.7,146.3 1372.2,147.7 1374.7,149.1 1377.2,150.8 1379.6,152.2 1382.1,152.4 1384.6,153.1 1387.1,154.9 1389.6,154.4 1392.0,155.1 1394.5,155.1 1397.0,156.8 1399.5,157.1 1402.0,156.3 1404.5,157.7 1406.9,157.2 1409.4,157.4 1411.9,157.1 1414.4,157.1 1416.9,155.8 1419.3,154.7 1421.8,154.3 1424.3,153.1 1426.8,152.4 1429.3,150.4 1431.7,149.7 1434.2,147.9 1436.7,147.5 1439.2,145.0 1441.7,144.3 1444.2,142.7 1446.6,142.4 1449.1,142.9 1451.6,142.1 1454.1,141.5 1456.6,141.8 1459.0,141.7 1461.5,142.4 1464.0,142.3 1466.5,142.6 1469.0,142.1 1471.4,141.7 1473.9,142.2 1476.4,142.5 1478.9,143.2 1481.4,142.5 1483.9,142.9 1486.3,143.8 1488.8,143.8 1491.3,143.1 1493.8,143.4 1496.3,142.2 1498.7,143.0 1501.2,143.4 1503.7,143.1 1506.2,141.9 1508.7,142.9 1511.1,141.8 1513.6,141.7 1516.1,140.8 1518.6,140.9 1521.1,141.0 1523.6,140.1 1526.0,139.8 1528.5,138.9 1531.0,139.0 1533.5,137.5 1536.0,137.9 1538.4,137.1 1540.9,137.0 1543.4,136.1 1545.9,135.6 1548.4,135.0 1550.8,134.3 1553.3,134.6 1555.8,134.4 1558.3,133.1 1560.8,133.4 1563.2,133.3 1565.7,132.3 1568.2,132.4 1570.7,134.0 1573.2,132.9 1575.7,132.4 1578.1,132.4 1580.6,133.1 1583.1,132.2 1585.6,133.4 1588.1,133.3 1590.5,133.5 1593.0,134.0 1595.5,134.1 1598.0,134.5 1600.5,135.6 1602.9,135.5 1605.4,137.1 1607.9,137.4 1610.4,137.1 1612.9,138.5 1615.4,138.6 1617.8,139.8 1620.3,140.3 1622.8,140.7 1625.3,141.1 1627.8,141.8 1630.2,142.1 1632.7,142.3 1635.2,142.5 1637.7,143.5 1640.2,143.7 1642.6,144.0 1645.1,145.5 1647.6,146.2 1650.1,145.1 1652.6,145.6 1655.1,146.7 1657.5,147.0 1660.0,148.0 1662.5,148.7 1665.0,148.3 1667.5,149.5 1669.9,148.8 1672.4,150.0 1674.9,149.9 1677.4,149.5 1679.9,150.0 1682.3,151.4 1684.8,151.2 1687.3,152.7 1689.8,152.9 1692.3,152.8 1694.8,152.8 1697.2,154.2 1699.7,154.0 1702.2,154.7 1704.7,155.8 1707.2,155.6 1709.6,155.3 1712.1,156.4 1714.6,156.6" fill="none" stroke="#cc9900" stroke-width="3" stroke-linejoin="round" stroke-linecap="round" clip-path="url(#cb)"/>
<polyline points="1069.5,468.4 1072.0,468.4 1074.5,468.4 1076.9,468.3 1079.4,468.3 1081.9,468.3 1084.4,468.3 1086.9,468.2 1089.3,468.2 1091.8,468.1 1094.3,468.1 1096.8,468.0 1099.3,468.0 1101.8,467.9 1104.2,467.9 1106.7,467.8 1109.2,467.7 1111.7,467.6 1114.2,467.6 1116.6,467.5 1119.1,467.4 1121.6,467.3 1124.1,467.1 1126.6,466.9 1129.0,466.6 1131.5,466.4 1134.0,466.1 1136.5,465.8 1139.0,465.5 1141.5,465.2 1143.9,464.9 1146.4,464.7 1148.9,464.5 1151.4,464.3 1153.9,464.2 1156.3,464.0 1158.8,463.9 1161.3,463.8 1163.8,463.7 1166.3,463.6 1168.7,463.4 1171.2,463.3 1173.7,463.1 1176.2,462.9 1178.7,462.5 1181.2,462.1 1183.6,461.6 1186.1,461.0 1188.6,460.3 1191.1,459.6 1193.6,458.8 1196.0,458.0 1198.5,457.2 1201.0,456.4 1203.5,455.6 1206.0,454.8 1208.4,454.0 1210.9,453.2 1213.4,452.3 1215.9,451.4 1218.4,450.3 1220.9,449.2 1223.3,448.0 1225.8,446.8 1228.3,445.4 1230.8,443.9 1233.3,442.3 1235.7,440.5 1238.2,438.6 1240.7,436.6 1243.2,434.4 1245.7,431.9 1248.1,429.1 1250.6,426.1 1253.1,422.6 1255.6,418.8 1258.1,414.0 1260.5,408.0 1263.0,400.9 1265.5,392.7 1268.0,383.4 1270.5,371.4 1273.0,356.7 1275.4,340.4 1277.9,321.6 1280.4,299.5 1282.9,271.3 1285.4,239.8 1287.8,207.6 1290.3,177.4 1292.8,152.6 1295.3,129.2 1297.8,101.4 1300.2,77.3 1302.7,66.9 1305.2,64.1 1307.7,67.6 1310.2,72.9 1312.7,81.8 1315.1,92.1 1317.6,101.4 1320.1,109.1 1322.6,116.1 1325.1,119.7 1327.5,124.1 1330.0,126.8 1332.5,130.2 1335.0,133.0 1337.5,136.2 1339.9,137.5 1342.4,136.8 1344.9,137.5 1347.4,139.0 1349.9,139.5 1352.4,140.0 1354.8,141.6 1357.3,141.2 1359.8,143.5 1362.3,144.3 1364.8,146.4 1367.2,145.6 1369.7,147.8 1372.2,148.5 1374.7,151.3 1377.2,151.9 1379.6,153.1 1382.1,153.8 1384.6,153.7 1387.1,154.3 1389.6,155.4 1392.0,156.8 1394.5,156.6 1397.0,156.8 1399.5,157.4 1402.0,157.6 1404.5,157.7 1406.9,158.5 1409.4,157.9 1411.9,157.0 1414.4,157.9 1416.9,156.8 1419.3,155.9 1421.8,156.3 1424.3,154.6 1426.8,154.2 1429.3,152.6 1431.7,151.8 1434.2,150.0 1436.7,148.2 1439.2,146.4 1441.7,145.0 1444.2,145.1 1446.6,142.8 1449.1,143.6 1451.6,143.8 1454.1,143.5 1456.6,142.9 1459.0,143.5 1461.5,143.2 1464.0,143.3 1466.5,142.9 1469.0,143.6 1471.4,143.1 1473.9,143.3 1476.4,143.7 1478.9,143.1 1481.4,143.8 1483.9,144.4 1486.3,143.8 1488.8,143.9 1491.3,144.0 1493.8,143.9 1496.3,142.8 1498.7,143.8 1501.2,143.6 1503.7,143.9 1506.2,143.0 1508.7,143.4 1511.1,143.5 1513.6,143.4 1516.1,142.2 1518.6,141.8 1521.1,142.5 1523.6,141.6 1526.0,140.5 1528.5,139.9 1531.0,140.5 1533.5,139.6 1536.0,138.4 1538.4,138.5 1540.9,137.9 1543.4,137.4 1545.9,137.2 1548.4,136.1 1550.8,135.5 1553.3,136.0 1555.8,134.9 1558.3,134.0 1560.8,134.1 1563.2,133.4 1565.7,134.0 1568.2,133.0 1570.7,134.0 1573.2,132.7 1575.7,133.9 1578.1,134.1 1580.6,134.2 1583.1,134.0 1585.6,134.1 1588.1,134.4 1590.5,134.6 1593.0,134.5 1595.5,134.9 1598.0,136.1 1600.5,135.8 1602.9,137.5 1605.4,138.1 1607.9,138.7 1610.4,138.5 1612.9,140.1 1615.4,140.6 1617.8,139.8 1620.3,140.1 1622.8,140.8 1625.3,142.7 1627.8,142.4 1630.2,142.5 1632.7,143.3 1635.2,144.7 1637.7,144.5 1640.2,145.6 1642.6,145.9 1645.1,144.7 1647.6,145.8 1650.1,147.3 1652.6,147.8 1655.1,147.3 1657.5,148.2 1660.0,148.0 1662.5,149.1 1665.0,149.2 1667.5,149.4 1669.9,150.5 1672.4,151.3 1674.9,151.4 1677.4,151.5 1679.9,151.7 1682.3,152.1 1684.8,152.5 1687.3,152.6 1689.8,153.7 1692.3,153.1 1694.8,153.2 1697.2,154.4 1699.7,154.9 1702.2,154.8 1704.7,155.6 1707.2,156.2 1709.6,156.8 1712.1,157.5 1714.6,158.1" fill="none" stroke="#00c8d0" stroke-width="3" stroke-linejoin="round" stroke-linecap="round" clip-path="url(#cb)"/>
<polyline points="1069.5,468.4 1072.0,468.4 1074.5,468.4 1076.9,468.3 1079.4,468.3 1081.9,468.3 1084.4,468.3 1086.9,468.2 1089.3,468.2 1091.8,468.1 1094.3,468.1 1096.8,468.0 1099.3,468.0 1101.8,467.9 1104.2,467.9 1106.7,467.8 1109.2,467.7 1111.7,467.6 1114.2,467.6 1116.6,467.5 1119.1,467.4 1121.6,467.3 1124.1,467.1 1126.6,466.9 1129.0,466.6 1131.5,466.4 1134.0,466.1 1136.5,465.8 1139.0,465.5 1141.5,465.2 1143.9,464.9 1146.4,464.7 1148.9,464.5 1151.4,464.3 1153.9,464.2 1156.3,464.0 1158.8,463.9 1161.3,463.8 1163.8,463.7 1166.3,463.6 1168.7,463.4 1171.2,463.3 1173.7,463.1 1176.2,462.9 1178.7,462.5 1181.2,462.1 1183.6,461.6 1186.1,461.0 1188.6,460.3 1191.1,459.6 1193.6,458.8 1196.0,458.0 1198.5,457.2 1201.0,456.3 1203.5,455.5 1206.0,454.8 1208.4,454.0 1210.9,453.2 1213.4,452.3 1215.9,451.3 1218.4,450.3 1220.9,449.2 1223.3,448.0 1225.8,446.8 1228.3,445.4 1230.8,443.9 1233.3,442.3 1235.7,440.5 1238.2,438.6 1240.7,436.6 1243.2,434.4 1245.7,431.9 1248.1,429.1 1250.6,426.1 1253.1,422.6 1255.6,418.8 1258.1,414.0 1260.5,408.0 1263.0,400.9 1265.5,392.7 1268.0,383.4 1270.5,371.4 1273.0,356.7 1275.4,340.4 1277.9,321.6 1280.4,299.5 1282.9,271.3 1285.4,239.8 1287.8,207.6 1290.3,177.4 1292.8,152.5 1295.3,129.0 1297.8,100.8 1300.2,75.7 1302.7,66.9 1305.2,62.0 1307.7,66.8 1310.2,72.9 1312.7,81.0 1315.1,91.5 1317.6,100.4 1320.1,108.9 1322.6,116.3 1325.1,120.0 1327.5,124.0 1330.0,126.5 1332.5,128.8 1335.0,132.1 1337.5,134.6 1339.9,136.3 1342.4,136.9 1344.9,137.5 1347.4,138.8 1349.9,138.6 1352.4,140.1 1354.8,140.4 1357.3,141.6 1359.8,141.9 1362.3,143.0 1364.8,144.4 1367.2,145.8 1369.7,147.0 1372.2,148.0 1374.7,149.7 1377.2,151.4 1379.6,152.3 1382.1,152.6 1384.6,154.9 1387.1,154.6 1389.6,155.9 1392.0,155.4 1394.5,156.8 1397.0,157.0 1399.5,157.7 1402.0,157.3 1404.5,157.1 1406.9,156.7 1409.4,158.1 1411.9,157.5 1414.4,154.9 1416.9,155.9 1419.3,155.8 1421.8,154.9 1424.3,155.3 1426.8,152.1 1429.3,151.7 1431.7,151.3 1434.2,148.5 1436.7,147.7 1439.2,146.3 1441.7,144.2 1444.2,143.3 1446.6,143.4 1449.1,143.0 1451.6,143.5 1454.1,143.5 1456.6,142.2 1459.0,142.0 1461.5,142.4 1464.0,142.5 1466.5,142.9 1469.0,142.9 1471.4,143.4 1473.9,142.2 1476.4,143.5 1478.9,143.1 1481.4,143.4 1483.9,144.1 1486.3,142.6 1488.8,143.8 1491.3,144.0 1493.8,143.6 1496.3,144.1 1498.7,143.6 1501.2,144.0 1503.7,143.2 1506.2,143.3 1508.7,143.8 1511.1,142.4 1513.6,142.5 1516.1,142.7 1518.6,141.6 1521.1,141.2 1523.6,140.1 1526.0,140.9 1528.5,139.6 1531.0,139.6 1533.5,138.8 1536.0,138.7 1538.4,138.0 1540.9,137.1 1543.4,137.4 1545.9,137.3 1548.4,135.8 1550.8,135.6 1553.3,134.9 1555.8,134.3 1558.3,134.4 1560.8,133.3 1563.2,133.7 1565.7,133.4 1568.2,133.0 1570.7,133.1 1573.2,133.5 1575.7,133.4 1578.1,133.8 1580.6,133.8 1583.1,133.5 1585.6,133.2 1588.1,134.0 1590.5,133.8 1593.0,133.7 1595.5,134.1 1598.0,135.7 1600.5,135.7 1602.9,136.5 1605.4,137.0 1607.9,137.6 1610.4,138.3 1612.9,138.8 1615.4,139.6 1617.8,140.4 1620.3,140.6 1622.8,141.0 1625.3,141.2 1627.8,142.1 1630.2,142.4 1632.7,142.5 1635.2,144.2 1637.7,144.3 1640.2,144.4 1642.6,145.1 1645.1,146.1 1647.6,145.6 1650.1,146.5 1652.6,147.4 1655.1,146.4 1657.5,148.4 1660.0,148.2 1662.5,149.0 1665.0,149.0 1667.5,149.2 1669.9,150.3 1672.4,150.3 1674.9,150.8 1677.4,151.6 1679.9,151.0 1682.3,151.9 1684.8,152.5 1687.3,153.1 1689.8,153.4 1692.3,153.6 1694.8,154.3 1697.2,153.9 1699.7,156.2 1702.2,156.4 1704.7,155.9 1707.2,157.1 1709.6,156.7 1712.1,157.4 1714.6,157.2" fill="none" stroke="#7d7d00" stroke-width="3" stroke-linejoin="round" stroke-linecap="round" clip-path="url(#cb)"/>
<polyline points="1069.5,468.4 1072.0,468.4 1074.5,468.4 1076.9,468.3 1079.4,468.3 1081.9,468.3 1084.4,468.3 1086.9,468.2 1089.3,468.2 1091.8,468.1 1094.3,468.1 1096.8,468.0 1099.3,468.0 1101.8,467.9 1104.2,467.9 1106.7,467.8 1109.2,467.7 1111.7,467.6 1114.2,467.6 1116.6,467.5 1119.1,467.4 1121.6,467.3 1124.1,467.1 1126.6,466.9 1129.0,466.6 1131.5,466.4 1134.0,466.1 1136.5,465.8 1139.0,465.5 1141.5,465.2 1143.9,464.9 1146.4,464.7 1148.9,464.5 1151.4,464.3 1153.9,464.2 1156.3,464.0 1158.8,463.9 1161.3,463.8 1163.8,463.7 1166.3,463.6 1168.7,463.4 1171.2,463.3 1173.7,463.1 1176.2,462.9 1178.7,462.5 1181.2,462.1 1183.6,461.6 1186.1,461.0 1188.6,460.3 1191.1,459.6 1193.6,458.8 1196.0,458.0 1198.5,457.2 1201.0,456.3 1203.5,455.5 1206.0,454.7 1208.4,454.0 1210.9,453.1 1213.4,452.3 1215.9,451.3 1218.4,450.3 1220.9,449.2 1223.3,448.0 1225.8,446.7 1228.3,445.4 1230.8,443.9 1233.3,442.3 1235.7,440.5 1238.2,438.6 1240.7,436.6 1243.2,434.4 1245.7,431.9 1248.1,429.1 1250.6,426.1 1253.1,422.6 1255.6,418.8 1258.1,414.0 1260.5,408.0 1263.0,400.9 1265.5,392.7 1268.0,383.4 1270.5,371.4 1273.0,356.7 1275.4,340.4 1277.9,321.6 1280.4,299.5 1282.9,271.3 1285.4,239.8 1287.8,207.6 1290.3,177.4 1292.8,152.5 1295.3,128.8 1297.8,100.5 1300.2,75.9 1302.7,66.1 1305.2,62.3 1307.7,66.3 1310.2,72.1 1312.7,81.2 1315.1,90.9 1317.6,100.2 1320.1,108.2 1322.6,114.0 1325.1,119.2 1327.5,122.3 1330.0,125.7 1332.5,128.1 1335.0,130.9 1337.5,133.5 1339.9,135.7 1342.4,135.4 1344.9,136.1 1347.4,136.9 1349.9,137.5 1352.4,138.3 1354.8,139.2 1357.3,140.7 1359.8,141.2 1362.3,142.1 1364.8,143.6 1367.2,145.1 1369.7,145.1 1372.2,147.3 1374.7,149.2 1377.2,150.6 1379.6,152.7 1382.1,152.9 1384.6,153.1 1387.1,153.1 1389.6,155.4 1392.0,155.3 1394.5,154.5 1397.0,155.5 1399.5,155.9 1402.0,155.7 1404.5,156.4 1406.9,156.5 1409.4,156.1 1411.9,155.8 1414.4,156.3 1416.9,154.6 1419.3,155.6 1421.8,154.5 1424.3,151.5 1426.8,152.1 1429.3,150.4 1431.7,150.0 1434.2,148.2 1436.7,146.7 1439.2,145.0 1441.7,143.1 1444.2,141.7 1446.6,141.8 1449.1,141.3 1451.6,142.1 1454.1,141.1 1456.6,141.4 1459.0,141.0 1461.5,141.8 1464.0,141.8 1466.5,141.1 1469.0,141.6 1471.4,141.9 1473.9,142.4 1476.4,142.3 1478.9,142.1 1481.4,142.1 1483.9,142.8 1486.3,142.8 1488.8,142.5 1491.3,143.3 1493.8,142.3 1496.3,142.8 1498.7,142.8 1501.2,143.9 1503.7,143.4 1506.2,143.0 1508.7,142.6 1511.1,142.6 1513.6,141.5 1516.1,141.3 1518.6,141.1 1521.1,141.6 1523.6,139.5 1526.0,139.8 1528.5,138.9 1531.0,139.1 1533.5,138.2 1536.0,137.3 1538.4,137.0 1540.9,136.1 1543.4,136.0 1545.9,134.5 1548.4,135.8 1550.8,134.8 1553.3,133.7 1555.8,133.9 1558.3,133.7 1560.8,134.0 1563.2,132.3 1565.7,133.6 1568.2,132.3 1570.7,132.5 1573.2,132.2 1575.7,131.9 1578.1,133.0 1580.6,133.1 1583.1,132.9 1585.6,133.7 1588.1,132.7 1590.5,133.6 1593.0,133.8 1595.5,134.9 1598.0,134.9 1600.5,135.8 1602.9,136.1 1605.4,137.2 1607.9,136.8 1610.4,138.2 1612.9,139.7 1615.4,138.7 1617.8,139.7 1620.3,140.5 1622.8,139.4 1625.3,141.1 1627.8,142.2 1630.2,142.4 1632.7,142.4 1635.2,143.1 1637.7,142.9 1640.2,143.5 1642.6,144.8 1645.1,144.9 1647.6,145.0 1650.1,146.0 1652.6,146.5 1655.1,146.3 1657.5,146.9 1660.0,148.2 1662.5,148.2 1665.0,148.6 1667.5,148.9 1669.9,149.6 1672.4,149.0 1674.9,150.5 1677.4,151.0 1679.9,150.8 1682.3,152.4 1684.8,152.2 1687.3,151.9 1689.8,153.2 1692.3,153.4 1694.8,152.9 1697.2,153.6 1699.7,154.3 1702.2,154.6 1704.7,155.5 1707.2,155.4 1709.6,156.1 1712.1,155.2 1714.6,156.5" fill="none" stroke="#8c8c10" stroke-width="3" stroke-linejoin="round" stroke-linecap="round" clip-path="url(#cb)"/>
<polyline points="1069.5,468.4 1072.0,468.4 1074.5,468.4 1076.9,468.3 1079.4,468.3 1081.9,468.3 1084.4,468.3 1086.9,468.2 1089.3,468.2 1091.8,468.1 1094.3,468.1 1096.8,468.0 1099.3,468.0 1101.8,467.9 1104.2,467.9 1106.7,467.8 1109.2,467.7 1111.7,467.6 1114.2,467.6 1116.6,467.5 1119.1,467.4 1121.6,467.3 1124.1,467.1 1126.6,466.9 1129.0,466.6 1131.5,466.4 1134.0,466.1 1136.5,465.8 1139.0,465.5 1141.5,465.2 1143.9,464.9 1146.4,464.7 1148.9,464.5 1151.4,464.3 1153.9,464.2 1156.3,464.0 1158.8,463.9 1161.3,463.8 1163.8,463.7 1166.3,463.6 1168.7,463.4 1171.2,463.3 1173.7,463.1 1176.2,462.9 1178.7,462.5 1181.2,462.1 1183.6,461.6 1186.1,461.0 1188.6,460.3 1191.1,459.5 1193.6,458.7 1196.0,457.9 1198.5,457.1 1201.0,456.2 1203.5,455.4 1206.0,454.6 1208.4,453.9 1210.9,453.0 1213.4,452.2 1215.9,451.3 1218.4,450.2 1220.9,449.1 1223.3,448.0 1225.8,446.7 1228.3,445.3 1230.8,443.9 1233.3,442.3 1235.7,440.5 1238.2,438.6 1240.7,436.6 1243.2,434.4 1245.7,431.9 1248.1,429.1 1250.6,426.1 1253.1,422.6 1255.6,418.8 1258.1,414.0 1260.5,408.0 1263.0,400.9 1265.5,392.7 1268.0,383.4 1270.5,371.4 1273.0,356.7 1275.4,340.4 1277.9,321.6 1280.4,299.5 1282.9,271.3 1285.4,239.8 1287.8,207.7 1290.3,177.4 1292.8,152.2 1295.3,128.1 1297.8,98.7 1300.2,72.7 1302.7,62.9 1305.2,58.6 1307.7,63.4 1310.2,68.9 1312.7,77.3 1315.1,86.9 1317.6,96.9 1320.1,104.0 1322.6,112.3 1325.1,116.2 1327.5,118.9 1330.0,122.1 1332.5,126.3 1335.0,128.0 1337.5,130.3 1339.9,132.0 1342.4,133.2 1344.9,133.6 1347.4,134.3 1349.9,134.2 1352.4,135.2 1354.8,135.9 1357.3,137.1 1359.8,139.1 1362.3,139.5 1364.8,139.6 1367.2,142.5 1369.7,143.2 1372.2,145.2 1374.7,146.8 1377.2,147.6 1379.6,148.3 1382.1,149.2 1384.6,150.2 1387.1,150.8 1389.6,152.8 1392.0,152.2 1394.5,152.9 1397.0,153.6 1399.5,153.8 1402.0,154.3 1404.5,153.4 1406.9,154.4 1409.4,154.7 1411.9,153.8 1414.4,153.7 1416.9,153.1 1419.3,151.8 1421.8,152.0 1424.3,150.6 1426.8,148.3 1429.3,149.0 1431.7,146.9 1434.2,145.1 1436.7,143.4 1439.2,141.5 1441.7,141.7 1444.2,140.2 1446.6,140.2 1449.1,140.2 1451.6,140.2 1454.1,140.5 1456.6,139.5 1459.0,139.3 1461.5,140.1 1464.0,139.3 1466.5,140.0 1469.0,140.4 1471.4,141.3 1473.9,139.6 1476.4,140.0 1478.9,140.6 1481.4,140.8 1483.9,141.3 1486.3,140.6 1488.8,141.0 1491.3,140.8 1493.8,141.0 1496.3,141.9 1498.7,142.0 1501.2,141.0 1503.7,142.0 1506.2,140.9 1508.7,140.4 1511.1,141.2 1513.6,139.9 1516.1,139.8 1518.6,139.2 1521.1,139.3 1523.6,138.5 1526.0,137.8 1528.5,136.7 1531.0,136.7 1533.5,136.3 1536.0,136.7 1538.4,135.3 1540.9,135.2 1543.4,134.3 1545.9,133.6 1548.4,132.8 1550.8,132.6 1553.3,132.5 1555.8,132.3 1558.3,131.3 1560.8,132.1 1563.2,131.4 1565.7,130.5 1568.2,131.2 1570.7,130.8 1573.2,130.7 1575.7,130.3 1578.1,130.7 1580.6,132.1 1583.1,131.4 1585.6,131.3 1588.1,131.3 1590.5,131.9 1593.0,131.6 1595.5,132.5 1598.0,134.2 1600.5,134.5 1602.9,135.8 1605.4,134.6 1607.9,136.1 1610.4,136.8 1612.9,138.1 1615.4,138.1 1617.8,138.3 1620.3,139.2 1622.8,139.7 1625.3,140.3 1627.8,139.6 1630.2,141.3 1632.7,142.2 1635.2,142.3 1637.7,142.7 1640.2,143.0 1642.6,143.6 1645.1,144.5 1647.6,144.5 1650.1,144.7 1652.6,146.0 1655.1,144.8 1657.5,145.4 1660.0,147.6 1662.5,147.3 1665.0,147.1 1667.5,147.3 1669.9,147.5 1672.4,149.7 1674.9,149.8 1677.4,149.9 1679.9,149.8 1682.3,151.1 1684.8,150.8 1687.3,151.2 1689.8,151.5 1692.3,152.9 1694.8,152.6 1697.2,153.1 1699.7,153.7 1702.2,153.3 1704.7,154.5 1707.2,154.1 1709.6,155.5 1712.1,154.8 1714.6,155.2" fill="none" stroke="#ff6400" stroke-width="3" stroke-linejoin="round" stroke-linecap="round" clip-path="url(#cb)"/>
<polyline points="1069.5,468.4 1072.0,468.4 1074.5,468.4 1076.9,468.3 1079.4,468.3 1081.9,468.3 1084.4,468.3 1086.9,468.2 1089.3,468.2 1091.8,468.1 1094.3,468.1 1096.8,468.0 1099.3,468.0 1101.8,467.9 1104.2,467.9 1106.7,467.8 1109.2,467.7 1111.7,467.6 1114.2,467.6 1116.6,467.5 1119.1,467.4 1121.6,467.3 1124.1,467.1 1126.6,466.9 1129.0,466.6 1131.5,466.4 1134.0,466.1 1136.5,465.8 1139.0,465.5 1141.5,465.2 1143.9,464.9 1146.4,464.7 1148.9,464.5 1151.4,464.3 1153.9,464.2 1156.3,464.0 1158.8,463.9 1161.3,463.8 1163.8,463.7 1166.3,463.6 1168.7,463.4 1171.2,463.3 1173.7,463.1 1176.2,462.9 1178.7,462.5 1181.2,462.1 1183.6,461.6 1186.1,460.9 1188.6,460.2 1191.1,459.4 1193.6,458.6 1196.0,457.8 1198.5,456.9 1201.0,456.1 1203.5,455.3 1206.0,454.5 1208.4,453.7 1210.9,452.9 1213.4,452.0 1215.9,451.1 1218.4,450.1 1220.9,449.0 1223.3,447.9 1225.8,446.6 1228.3,445.3 1230.8,443.8 1233.3,442.2 1235.7,440.5 1238.2,438.6 1240.7,436.6 1243.2,434.4 1245.7,431.9 1248.1,429.2 1250.6,426.1 1253.1,422.6 1255.6,418.8 1258.1,414.0 1260.5,408.0 1263.0,400.9 1265.5,392.7 1268.0,383.4 1270.5,371.4 1273.0,356.7 1275.4,340.4 1277.9,321.6 1280.4,299.5 1282.9,271.3 1285.4,239.8 1287.8,207.8 1290.3,177.4 1292.8,151.8 1295.3,127.0 1297.8,95.6 1300.2,68.4 1302.7,57.8 1305.2,53.4 1307.7,58.9 1310.2,64.3 1312.7,72.1 1315.1,81.3 1317.6,91.3 1320.1,98.5 1322.6,106.7 1325.1,110.1 1327.5,114.5 1330.0,116.6 1332.5,120.0 1335.0,122.2 1337.5,124.7 1339.9,124.4 1342.4,124.2 1344.9,124.4 1347.4,123.9 1349.9,125.4 1352.4,126.6 1354.8,128.7 1357.3,129.9 1359.8,132.9 1362.3,134.3 1364.8,135.6 1367.2,136.6 1369.7,138.3 1372.2,139.5 1374.7,141.2 1377.2,142.9 1379.6,143.9 1382.1,144.6 1384.6,146.8 1387.1,145.9 1389.6,147.7 1392.0,148.3 1394.5,148.6 1397.0,149.3 1399.5,150.1 1402.0,149.6 1404.5,148.9 1406.9,149.0 1409.4,148.9 1411.9,149.6 1414.4,149.2 1416.9,148.2 1419.3,147.6 1421.8,147.7 1424.3,146.8 1426.8,146.0 1429.3,143.1 1431.7,143.4 1434.2,141.1 1436.7,139.4 1439.2,136.9 1441.7,137.3 1444.2,136.7 1446.6,136.1 1449.1,135.9 1451.6,135.4 1454.1,135.6 1456.6,136.2 1459.0,136.8 1461.5,135.6 1464.0,136.2 1466.5,135.2 1469.0,136.7 1471.4,136.2 1473.9,136.8 1476.4,137.1 1478.9,136.0 1481.4,136.9 1483.9,137.2 1486.3,137.0 1488.8,137.9 1491.3,137.9 1493.8,138.3 1496.3,137.1 1498.7,138.0 1501.2,137.9 1503.7,137.7 1506.2,138.2 1508.7,138.0 1511.1,138.5 1513.6,137.1 1516.1,136.8 1518.6,136.6 1521.1,135.3 1523.6,136.4 1526.0,134.7 1528.5,135.2 1531.0,134.6 1533.5,133.6 1536.0,132.3 1538.4,133.0 1540.9,132.3 1543.4,131.8 1545.9,129.7 1548.4,130.0 1550.8,129.7 1553.3,128.6 1555.8,129.2 1558.3,130.1 1560.8,129.1 1563.2,129.2 1565.7,127.5 1568.2,129.2 1570.7,128.3 1573.2,128.8 1575.7,128.8 1578.1,128.6 1580.6,128.8 1583.1,129.1 1585.6,129.5 1588.1,129.5 1590.5,130.1 1593.0,130.5 1595.5,130.5 1598.0,131.3 1600.5,131.6 1602.9,132.6 1605.4,132.2 1607.9,134.2 1610.4,135.0 1612.9,134.6 1615.4,136.1 1617.8,136.2 1620.3,136.4 1622.8,137.4 1625.3,138.1 1627.8,137.9 1630.2,138.8 1632.7,139.7 1635.2,140.6 1637.7,140.7 1640.2,141.8 1642.6,141.9 1645.1,142.5 1647.6,142.3 1650.1,142.5 1652.6,143.7 1655.1,144.1 1657.5,144.9 1660.0,145.5 1662.5,145.5 1665.0,145.4 1667.5,145.9 1669.9,146.3 1672.4,147.2 1674.9,148.9 1677.4,147.5 1679.9,147.7 1682.3,148.4 1684.8,148.8 1687.3,149.2 1689.8,148.8 1692.3,150.4 1694.8,150.2 1697.2,151.0 1699.7,151.5 1702.2,152.3 1704.7,152.8 1707.2,153.7 1709.6,153.2 1712.1,154.1 1714.6,154.9" fill="none" stroke="#6496d2" stroke-width="3" stroke-linejoin="round" stroke-linecap="round" clip-path="url(#cb)"/>
<polyline points="1069.5,468.4 1072.0,468.4 1074.5,468.4 1076.9,468.3 1079.4,468.3 1081.9,468.3 1084.4,468.3 1086.9,468.2 1089.3,468.2 1091.8,468.1 1094.3,468.1 1096.8,468.0 1099.3,468.0 1101.8,467.9 1104.2,467.9 1106.7,467.8 1109.2,467.7 1111.7,467.6 1114.2,467.6 1116.6,467.5 1119.1,467.4 1121.6,467.3 1124.1,467.1 1126.6,466.9 1129.0,466.6 1131.5,466.4 1134.0,466.1 1136.5,465.8 1139.0,465.5 1141.5,465.2 1143.9,464.9 1146.4,464.7 1148.9,464.5 1151.4,464.3 1153.9,464.2 1156.3,464.0 1158.8,463.9 1161.3,463.8 1163.8,463.7 1166.3,463.6 1168.7,463.4 1171.2,463.3 1173.7,463.1 1176.2,462.9 1178.7,462.5 1181.2,462.1 1183.6,461.5 1186.1,460.8 1188.6,460.1 1191.1,459.3 1193.6,458.4 1196.0,457.5 1198.5,456.6 1201.0,455.7 1203.5,454.9 1206.0,454.1 1208.4,453.3 1210.9,452.6 1213.4,451.7 1215.9,450.9 1218.4,449.9 1220.9,448.8 1223.3,447.7 1225.8,446.5 1228.3,445.2 1230.8,443.8 1233.3,442.2 1235.7,440.5 1238.2,438.7 1240.7,436.6 1243.2,434.4 1245.7,431.9 1248.1,429.2 1250.6,426.1 1253.1,422.6 1255.6,418.8 1258.1,414.0 1260.5,408.0 1263.0,400.9 1265.5,392.7 1268.0,383.4 1270.5,371.4 1273.0,356.7 1275.4,340.4 1277.9,321.6 1280.4,299.5 1282.9,271.3 1285.4,239.8 1287.8,208.0 1290.3,177.3 1292.8,150.9 1295.3,124.4 1297.8,88.7 1300.2,56.1 1302.7,45.4 1305.2,43.3 1307.7,46.6 1310.2,53.7 1312.7,60.0 1315.1,68.3 1317.6,78.3 1320.1,85.5 1322.6,93.3 1325.1,99.1 1327.5,102.2 1330.0,105.3 1332.5,109.7 1335.0,113.1 1337.5,115.3 1339.9,117.6 1342.4,118.2 1344.9,119.4 1347.4,120.2 1349.9,121.9 1352.4,122.9 1354.8,123.7 1357.3,125.5 1359.8,127.4 1362.3,129.3 1364.8,130.7 1367.2,131.4 1369.7,132.6 1372.2,135.1 1374.7,135.6 1377.2,136.9 1379.6,138.3 1382.1,139.8 1384.6,139.4 1387.1,141.3 1389.6,143.5 1392.0,144.1 1394.5,144.1 1397.0,144.7 1399.5,145.1 1402.0,145.2 1404.5,145.2 1406.9,145.3 1409.4,145.5 1411.9,144.7 1414.4,146.3 1416.9,145.1 1419.3,144.0 1421.8,144.4 1424.3,142.9 1426.8,139.7 1429.3,138.9 1431.7,138.3 1434.2,137.3 1436.7,136.0 1439.2,135.1 1441.7,134.3 1444.2,134.0 1446.6,133.2 1449.1,133.5 1451.6,134.0 1454.1,133.7 1456.6,132.9 1459.0,133.4 1461.5,134.1 1464.0,132.2 1466.5,132.8 1469.0,133.5 1471.4,133.8 1473.9,133.5 1476.4,133.4 1478.9,134.6 1481.4,134.4 1483.9,135.2 1486.3,135.1 1488.8,136.2 1491.3,137.0 1493.8,136.4 1496.3,136.9 1498.7,136.7 1501.2,137.6 1503.7,136.7 1506.2,137.3 1508.7,136.4 1511.1,137.0 1513.6,135.7 1516.1,136.0 1518.6,135.3 1521.1,134.3 1523.6,135.1 1526.0,134.2 1528.5,132.2 1531.0,133.4 1533.5,132.4 1536.0,131.3 1538.4,130.3 1540.9,130.7 1543.4,129.9 1545.9,130.0 1548.4,129.3 1550.8,128.3 1553.3,128.4 1555.8,128.4 1558.3,128.1 1560.8,128.1 1563.2,128.0 1565.7,128.2 1568.2,128.5 1570.7,127.7 1573.2,128.7 1575.7,127.6 1578.1,127.2 1580.6,127.6 1583.1,127.4 1585.6,129.2 1588.1,128.9 1590.5,129.8 1593.0,130.3 1595.5,131.4 1598.0,131.9 1600.5,131.6 1602.9,132.4 1605.4,133.0 1607.9,133.8 1610.4,134.7 1612.9,136.2 1615.4,136.5 1617.8,136.7 1620.3,137.0 1622.8,138.4 1625.3,139.0 1627.8,139.6 1630.2,139.1 1632.7,140.2 1635.2,141.1 1637.7,141.9 1640.2,141.8 1642.6,143.4 1645.1,143.2 1647.6,143.9 1650.1,144.5 1652.6,144.6 1655.1,145.0 1657.5,144.2 1660.0,146.2 1662.5,146.4 1665.0,147.7 1667.5,148.6 1669.9,147.7 1672.4,147.8 1674.9,149.8 1677.4,149.8 1679.9,149.7 1682.3,150.6 1684.8,152.3 1687.3,151.1 1689.8,152.1 1692.3,152.1 1694.8,153.4 1697.2,152.8 1699.7,153.2 1702.2,154.5 1704.7,154.3 1707.2,155.3 1709.6,155.6 1712.1,156.2 1714.6,156.4" fill="none" stroke="#64b40a" stroke-width="3" stroke-linejoin="round" stroke-linecap="round" clip-path="url(#cb)"/>
<rect x="1069.5" y="14.5" width="645.10" height="518.70" fill="none" stroke="#000" stroke-width="4.8"/>
<line x1="1069.50" y1="533.20" x2="1069.50" y2="543.60" stroke="#000" stroke-width="4.8"/>
<line x1="1218.37" y1="533.20" x2="1218.37" y2="543.60" stroke="#000" stroke-width="4.8"/>
<line x1="1367.24" y1="533.20" x2="1367.24" y2="543.60" stroke="#000" stroke-width="4.8"/>
<line x1="1516.11" y1="533.20" x2="1516.11" y2="543.60" stroke="#000" stroke-width="4.8"/>
<line x1="1664.98" y1="533.20" x2="1664.98" y2="543.60" stroke="#000" stroke-width="4.8"/>
<line x1="1143.93" y1="533.20" x2="1143.93" y2="539.60" stroke="#000" stroke-width="4.8"/>
<line x1="1292.80" y1="533.20" x2="1292.80" y2="539.60" stroke="#000" stroke-width="4.8"/>
<line x1="1441.67" y1="533.20" x2="1441.67" y2="539.60" stroke="#000" stroke-width="4.8"/>
<line x1="1590.54" y1="533.20" x2="1590.54" y2="539.60" stroke="#000" stroke-width="4.8"/>
<line x1="1069.50" y1="468.36" x2="1059.10" y2="468.36" stroke="#000" stroke-width="4.8"/>
<line x1="1069.50" y1="338.69" x2="1059.10" y2="338.69" stroke="#000" stroke-width="4.8"/>
<line x1="1069.50" y1="209.01" x2="1059.10" y2="209.01" stroke="#000" stroke-width="4.8"/>
<line x1="1069.50" y1="79.34" x2="1059.10" y2="79.34" stroke="#000" stroke-width="4.8"/>
<line x1="1069.50" y1="533.20" x2="1063.10" y2="533.20" stroke="#000" stroke-width="4.8"/>
<line x1="1069.50" y1="403.52" x2="1063.10" y2="403.52" stroke="#000" stroke-width="4.8"/>
<line x1="1069.50" y1="273.85" x2="1063.10" y2="273.85" stroke="#000" stroke-width="4.8"/>
<line x1="1069.50" y1="144.18" x2="1063.10" y2="144.18" stroke="#000" stroke-width="4.8"/>
<line x1="1069.50" y1="14.50" x2="1063.10" y2="14.50" stroke="#000" stroke-width="4.8"/>
<text x="1027.12" y="574.50" font-size="30.00" fill="#000" font-weight="bold" >11520</text>
<text x="1175.99" y="574.50" font-size="30.00" fill="#000" font-weight="bold" >11550</text>
<text x="1324.86" y="574.50" font-size="30.00" fill="#000" font-weight="bold" >11580</text>
<text x="1473.73" y="574.50" font-size="30.00" fill="#000" font-weight="bold" >11610</text>
<text x="1622.60" y="574.50" font-size="30.00" fill="#000" font-weight="bold" >11640</text>
<text x="1009.30" y="477.36" font-size="30.00" fill="#000" font-weight="bold" >0.0</text>
<text x="1008.25" y="347.69" font-size="30.00" fill="#000" font-weight="bold" >0.4</text>
<text x="1009.00" y="218.01" font-size="30.00" fill="#000" font-weight="bold" >0.8</text>
<text x="1009.30" y="88.34" font-size="30.00" fill="#000" font-weight="bold" >1.2</text>
<text x="1316.29" y="610.10" font-size="26.20" fill="#000" font-weight="bold" >Energy (eV)</text>
<g transform="rotate(-90 996.3 535)"><text x="994.43" y="535.00" font-size="29.30" fill="#000" font-weight="bold" textLength="476.22" lengthAdjust="spacingAndGlyphs" >Normalized absorption  (arb. units)</text></g>
<line x1="1079.3" y1="41.2" x2="1141.9" y2="41.2" stroke="#555555" stroke-width="3.4" stroke-linecap="round"/>
<text x="1146.13" y="50.90" font-size="24.20" fill="#000" font-weight="bold" textLength="50.57" lengthAdjust="spacingAndGlyphs" >0.8 V</text>
<line x1="1079.3" y1="74.7" x2="1141.9" y2="74.7" stroke="#eb3a3c" stroke-width="3.4" stroke-linecap="round"/>
<text x="1146.13" y="84.40" font-size="24.20" fill="#000" font-weight="bold" textLength="74.67" lengthAdjust="spacingAndGlyphs" >0.825 V</text>
<line x1="1079.3" y1="108.2" x2="1141.9" y2="108.2" stroke="#1c64dc" stroke-width="3.4" stroke-linecap="round"/>
<text x="1146.13" y="117.90" font-size="24.20" fill="#000" font-weight="bold" textLength="62.62" lengthAdjust="spacingAndGlyphs" >0.85 V</text>
<line x1="1079.3" y1="141.7" x2="1141.9" y2="141.7" stroke="#3caa6e" stroke-width="3.4" stroke-linecap="round"/>
<text x="1146.13" y="151.40" font-size="24.20" fill="#000" font-weight="bold" textLength="74.67" lengthAdjust="spacingAndGlyphs" >0.875 V</text>
<line x1="1079.3" y1="175.2" x2="1141.9" y2="175.2" stroke="#aa6ee0" stroke-width="3.4" stroke-linecap="round"/>
<text x="1146.13" y="184.90" font-size="24.20" fill="#000" font-weight="bold" textLength="62.62" lengthAdjust="spacingAndGlyphs" >0.90 V</text>
<line x1="1079.3" y1="208.7" x2="1141.9" y2="208.7" stroke="#cc9900" stroke-width="3.4" stroke-linecap="round"/>
<text x="1146.13" y="218.40" font-size="24.20" fill="#000" font-weight="bold" textLength="74.67" lengthAdjust="spacingAndGlyphs" >0.925 V</text>
<line x1="1079.3" y1="242.2" x2="1141.9" y2="242.2" stroke="#00c8d0" stroke-width="3.4" stroke-linecap="round"/>
<text x="1146.13" y="251.90" font-size="24.20" fill="#000" font-weight="bold" textLength="62.62" lengthAdjust="spacingAndGlyphs" >0.95 V</text>
<line x1="1079.3" y1="275.7" x2="1141.9" y2="275.7" stroke="#7d7d00" stroke-width="3.4" stroke-linecap="round"/>
<text x="1146.13" y="285.40" font-size="24.20" fill="#000" font-weight="bold" textLength="74.67" lengthAdjust="spacingAndGlyphs" >0.975 V</text>
<line x1="1079.3" y1="309.2" x2="1141.9" y2="309.2" stroke="#8c8c10" stroke-width="3.4" stroke-linecap="round"/>
<text x="1145.70" y="318.90" font-size="24.20" fill="#000" font-weight="bold" textLength="50.57" lengthAdjust="spacingAndGlyphs" >1.0 V</text>
<line x1="1079.3" y1="342.7" x2="1141.9" y2="342.7" stroke="#ff6400" stroke-width="3.4" stroke-linecap="round"/>
<text x="1145.70" y="352.40" font-size="24.20" fill="#000" font-weight="bold" textLength="74.67" lengthAdjust="spacingAndGlyphs" >1.025 V</text>
<line x1="1079.3" y1="376.2" x2="1141.9" y2="376.2" stroke="#6496d2" stroke-width="3.4" stroke-linecap="round"/>
<text x="1145.70" y="385.90" font-size="24.20" fill="#000" font-weight="bold" textLength="62.62" lengthAdjust="spacingAndGlyphs" >1.05 V</text>
<line x1="1079.3" y1="409.7" x2="1141.9" y2="409.7" stroke="#64b40a" stroke-width="3.4" stroke-linecap="round"/>
<text x="1145.70" y="419.40" font-size="24.20" fill="#000" font-weight="bold" textLength="50.57" lengthAdjust="spacingAndGlyphs" >1.1 V</text>
<rect x="1378" y="190" width="291.4" height="304" fill="#fff"/>
<clipPath id="cbi"><rect x="1378" y="190" width="291.4" height="304"/></clipPath>
<polyline points="1378.0,909.9 1387.0,820.3 1395.9,703.6 1404.9,584.8 1413.9,494.5 1422.8,406.5 1431.8,341.9 1440.8,326.7 1449.7,346.5 1458.7,380.9 1467.7,419.5 1476.6,445.3 1485.6,462.9 1494.6,475.2 1503.5,485.7 1512.5,493.8 1521.5,499.3 1530.4,502.5 1539.4,505.0 1548.4,507.8 1557.3,510.3 1566.3,513.2 1575.3,516.8 1584.2,522.1 1593.2,528.0 1602.2,533.0 1611.1,536.0 1620.1,538.4 1629.1,540.3 1638.0,541.7 1647.0,542.9 1656.0,543.9 1664.9,544.7" fill="none" stroke="#555555" stroke-width="3" stroke-linejoin="round" stroke-linecap="round" clip-path="url(#cbi)"/>
<polyline points="1378.0,909.9 1387.0,820.3 1395.9,703.6 1404.9,584.9 1413.9,492.8 1422.8,398.0 1431.8,327.5 1440.8,312.8 1449.7,332.9 1458.7,365.8 1467.7,403.0 1476.6,430.1 1485.6,448.2 1494.6,460.2 1503.5,471.0 1512.5,479.6 1521.5,484.7 1530.4,487.5 1539.4,489.9 1548.4,492.8 1557.3,495.9 1566.3,499.2 1575.3,503.1 1584.2,508.3 1593.2,514.1 1602.2,519.1 1611.1,522.5 1620.1,525.2 1629.1,527.5 1638.0,529.4 1647.0,530.8 1656.0,531.7 1664.9,532.2" fill="none" stroke="#eb3a3c" stroke-width="3" stroke-linejoin="round" stroke-linecap="round" clip-path="url(#cbi)"/>
<polyline points="1378.0,909.9 1387.0,820.3 1395.9,703.6 1404.9,584.9 1413.9,491.2 1422.8,390.3 1431.8,314.6 1440.8,300.3 1449.7,320.6 1458.7,352.2 1467.7,388.0 1476.6,416.4 1485.6,434.9 1494.6,446.2 1503.5,456.2 1512.5,463.0 1521.5,464.5 1530.4,464.5 1539.4,466.5 1548.4,471.8 1557.3,478.4 1566.3,484.2 1575.3,489.2 1584.2,494.7 1593.2,500.4 1602.2,505.5 1611.1,509.2 1620.1,512.2 1629.1,514.9 1638.0,517.1 1647.0,518.7 1656.0,519.5 1664.9,519.9" fill="none" stroke="#1c64dc" stroke-width="3" stroke-linejoin="round" stroke-linecap="round" clip-path="url(#cbi)"/>
<polyline points="1378.0,909.9 1387.0,820.3 1395.9,703.6 1404.9,584.9 1413.9,491.9 1422.8,393.7 1431.8,320.3 1440.8,305.9 1449.7,326.0 1458.7,358.3 1467.7,394.7 1476.6,422.5 1485.6,440.9 1494.6,452.7 1503.5,463.8 1512.5,472.7 1521.5,477.6 1530.4,480.3 1539.4,482.7 1548.4,485.7 1557.3,489.1 1566.3,492.6 1575.3,496.6 1584.2,501.8 1593.2,507.5 1602.2,512.6 1611.1,516.1 1620.1,519.0 1629.1,521.5 1638.0,523.6 1647.0,525.1 1656.0,525.9 1664.9,526.4" fill="none" stroke="#3caa6e" stroke-width="3" stroke-linejoin="round" stroke-linecap="round" clip-path="url(#cbi)"/>
<polyline points="1378.0,909.9 1387.0,820.3 1395.9,703.6 1404.9,584.9 1413.9,491.9 1422.8,393.7 1431.8,320.3 1440.8,305.9 1449.7,326.0 1458.7,358.3 1467.7,394.7 1476.6,422.5 1485.6,440.9 1494.6,452.7 1503.5,463.8 1512.5,472.7 1521.5,477.6 1530.4,480.3 1539.4,482.7 1548.4,485.7 1557.3,489.1 1566.3,492.6 1575.3,496.6 1584.2,501.8 1593.2,507.5 1602.2,512.6 1611.1,516.1 1620.1,519.0 1629.1,521.5 1638.0,523.6 1647.0,525.1 1656.0,525.9 1664.9,526.4" fill="none" stroke="#aa6ee0" stroke-width="3" stroke-linejoin="round" stroke-linecap="round" clip-path="url(#cbi)"/>
<polyline points="1378.0,909.9 1387.0,820.3 1395.9,703.6 1404.9,584.9 1413.9,491.6 1422.8,392.4 1431.8,318.2 1440.8,303.8 1449.7,324.0 1458.7,356.0 1467.7,392.2 1476.6,420.2 1485.6,438.6 1494.6,450.4 1503.5,461.3 1512.5,470.2 1521.5,474.9 1530.4,477.4 1539.4,479.5 1548.4,482.5 1557.3,485.9 1566.3,489.6 1575.3,493.6 1584.2,498.8 1593.2,504.5 1602.2,509.6 1611.1,513.1 1620.1,516.1 1629.1,518.7 1638.0,520.8 1647.0,522.3 1656.0,523.1 1664.9,523.6" fill="none" stroke="#cc9900" stroke-width="3" stroke-linejoin="round" stroke-linecap="round" clip-path="url(#cbi)"/>
<polyline points="1378.0,909.9 1387.0,820.3 1395.9,703.6 1404.9,584.9 1413.9,491.9 1422.8,393.7 1431.8,320.3 1440.8,305.9 1449.7,326.0 1458.7,358.3 1467.7,394.7 1476.6,422.5 1485.6,440.9 1494.6,452.7 1503.5,463.8 1512.5,472.7 1521.5,477.6 1530.4,480.3 1539.4,482.7 1548.4,485.7 1557.3,489.1 1566.3,492.6 1575.3,496.6 1584.2,501.8 1593.2,507.5 1602.2,512.6 1611.1,516.1 1620.1,519.0 1629.1,521.5 1638.0,523.6 1647.0,525.1 1656.0,525.9 1664.9,526.4" fill="none" stroke="#00c8d0" stroke-width="3" stroke-linejoin="round" stroke-linecap="round" clip-path="url(#cbi)"/>
<polyline points="1378.0,909.9 1387.0,820.3 1395.9,703.6 1404.9,584.9 1413.9,491.6 1422.8,392.4 1431.8,318.2 1440.8,303.8 1449.7,324.0 1458.7,356.0 1467.7,392.2 1476.6,420.2 1485.6,438.6 1494.6,450.5 1503.5,461.7 1512.5,470.8 1521.5,475.7 1530.4,478.5 1539.4,480.9 1548.4,484.0 1557.3,487.5 1566.3,491.1 1575.3,495.1 1584.2,500.3 1593.2,506.0 1602.2,511.1 1611.1,514.6 1620.1,517.6 1629.1,520.2 1638.0,522.3 1647.0,523.8 1656.0,524.6 1664.9,525.1" fill="none" stroke="#7d7d00" stroke-width="3" stroke-linejoin="round" stroke-linecap="round" clip-path="url(#cbi)"/>
<polyline points="1378.0,909.9 1387.0,820.3 1395.9,703.6 1404.9,584.9 1413.9,491.4 1422.8,391.6 1431.8,316.7 1440.8,302.4 1449.7,322.6 1458.7,354.5 1467.7,390.5 1476.6,418.7 1485.6,437.2 1494.6,448.9 1503.5,459.9 1512.5,468.9 1521.5,473.6 1530.4,476.2 1539.4,478.4 1548.4,481.4 1557.3,484.9 1566.3,488.5 1575.3,492.6 1584.2,497.8 1593.2,503.4 1602.2,508.6 1611.1,512.2 1620.1,515.1 1629.1,517.8 1638.0,519.9 1647.0,521.5 1656.0,522.3 1664.9,522.7" fill="none" stroke="#8c8c10" stroke-width="3" stroke-linejoin="round" stroke-linecap="round" clip-path="url(#cbi)"/>
<polyline points="1378.0,909.9 1387.0,820.3 1395.9,703.6 1404.9,585.0 1413.9,490.6 1422.8,387.3 1431.8,309.5 1440.8,295.4 1449.7,315.8 1458.7,346.9 1467.7,382.2 1476.6,411.0 1485.6,429.8 1494.6,441.4 1503.5,452.7 1512.5,461.9 1521.5,466.5 1530.4,468.9 1539.4,471.1 1548.4,474.2 1557.3,478.0 1566.3,481.9 1575.3,486.1 1584.2,491.2 1593.2,496.9 1602.2,502.0 1611.1,505.8 1620.1,508.9 1629.1,511.8 1638.0,514.1 1647.0,515.8 1656.0,516.5 1664.9,516.9" fill="none" stroke="#ff6400" stroke-width="3" stroke-linejoin="round" stroke-linecap="round" clip-path="url(#cbi)"/>
<polyline points="1378.0,909.9 1387.0,820.3 1395.9,703.6 1404.9,585.0 1413.9,489.1 1422.8,380.1 1431.8,297.3 1440.8,283.6 1449.7,304.2 1458.7,334.1 1467.7,368.2 1476.6,398.1 1485.6,417.2 1494.6,428.3 1503.5,438.9 1512.5,446.6 1521.5,447.9 1530.4,447.6 1539.4,449.7 1548.4,455.3 1557.3,462.6 1566.3,469.0 1575.3,474.3 1584.2,479.6 1593.2,485.2 1602.2,490.4 1611.1,494.5 1620.1,497.9 1629.1,501.1 1638.0,503.8 1647.0,505.6 1656.0,506.3 1664.9,506.5" fill="none" stroke="#6496d2" stroke-width="3" stroke-linejoin="round" stroke-linecap="round" clip-path="url(#cbi)"/>
<polyline points="1378.0,909.9 1387.0,820.3 1395.9,703.7 1404.9,585.2 1413.9,485.8 1422.8,363.9 1431.8,270.0 1440.8,257.2 1449.7,278.2 1458.7,305.4 1467.7,336.7 1476.6,369.1 1485.6,389.3 1494.6,401.2 1503.5,415.5 1512.5,428.2 1521.5,434.0 1530.4,437.5 1539.4,441.4 1548.4,446.5 1557.3,451.9 1566.3,457.0 1575.3,461.9 1584.2,466.8 1593.2,472.0 1602.2,477.4 1611.1,482.1 1620.1,486.1 1629.1,490.2 1638.0,493.7 1647.0,495.9 1656.0,496.3 1664.9,496.2" fill="none" stroke="#64b40a" stroke-width="3" stroke-linejoin="round" stroke-linecap="round" clip-path="url(#cbi)"/>
<rect x="1378" y="190" width="291.40" height="304.00" fill="none" stroke="#000" stroke-width="4.6"/>
<line x1="1467.66" y1="494.00" x2="1467.66" y2="502.30" stroke="#000" stroke-width="4.6"/>
<line x1="1579.74" y1="494.00" x2="1579.74" y2="502.30" stroke="#000" stroke-width="4.6"/>
<line x1="1411.62" y1="494.00" x2="1411.62" y2="499.30" stroke="#000" stroke-width="4.6"/>
<line x1="1523.70" y1="494.00" x2="1523.70" y2="499.30" stroke="#000" stroke-width="4.6"/>
<line x1="1635.78" y1="494.00" x2="1635.78" y2="499.30" stroke="#000" stroke-width="4.6"/>
<line x1="1378.00" y1="494.00" x2="1369.70" y2="494.00" stroke="#000" stroke-width="4.6"/>
<line x1="1378.00" y1="342.00" x2="1369.70" y2="342.00" stroke="#000" stroke-width="4.6"/>
<line x1="1378.00" y1="190.00" x2="1369.70" y2="190.00" stroke="#000" stroke-width="4.6"/>
<line x1="1378.00" y1="418.00" x2="1372.70" y2="418.00" stroke="#000" stroke-width="4.6"/>
<line x1="1378.00" y1="266.00" x2="1372.70" y2="266.00" stroke="#000" stroke-width="4.6"/>
<text x="1440.49" y="523.80" font-size="19.80" fill="#000" font-weight="bold" >11570</text>
<text x="1552.56" y="523.80" font-size="19.80" fill="#000" font-weight="bold" >11580</text>
<text x="1338.55" y="500.80" font-size="19.00" fill="#000" font-weight="bold" >1.0</text>
<text x="1338.55" y="348.80" font-size="19.00" fill="#000" font-weight="bold" >1.2</text>
<text x="1337.88" y="196.80" font-size="19.00" fill="#000" font-weight="bold" >1.4</text>
<text x="932.90" y="47.00" font-size="63.00" fill="#000" font-weight="bold" >b</text>
<clipPath id="ce"><rect x="1072.6" y="641" width="646.9" height="521.3"/></clipPath>
<polyline points="1072.6,1129.4 1075.8,1128.0 1079.1,1128.9 1082.3,1129.5 1085.5,1127.7 1088.8,1128.2 1092.0,1127.9 1095.2,1128.6 1098.5,1128.1 1101.7,1128.6 1104.9,1129.3 1108.2,1128.5 1111.4,1128.6 1114.6,1128.7 1117.9,1128.3 1121.1,1130.3 1124.4,1129.0 1127.6,1130.0 1130.8,1129.7 1134.1,1129.3 1137.3,1129.6 1140.5,1130.1 1143.8,1129.0 1147.0,1129.5 1150.2,1128.7 1153.5,1128.4 1156.7,1129.4 1159.9,1129.8 1163.2,1128.9 1166.4,1128.3 1169.6,1128.7 1172.9,1129.7 1176.1,1130.1 1179.3,1129.6 1182.6,1128.6 1185.8,1125.5 1189.0,1124.7 1192.3,1123.9 1195.5,1124.4 1198.7,1123.0 1202.0,1124.0 1205.2,1123.5 1208.4,1124.0 1211.7,1123.2 1214.9,1122.6 1218.2,1122.5 1221.4,1121.6 1224.6,1122.1 1227.9,1120.2 1231.1,1118.1 1234.3,1117.7 1237.6,1116.3 1240.8,1114.6 1244.0,1112.8 1247.3,1109.4 1250.5,1103.3 1253.7,1093.5 1257.0,1080.7 1260.2,1064.3 1263.4,1042.0 1266.7,1005.0 1269.9,958.9 1273.1,895.1 1276.4,825.7 1279.6,759.0 1282.8,712.8 1286.1,685.1 1289.3,670.6 1292.5,667.1 1295.8,667.4 1299.0,672.3 1302.2,679.3 1305.5,691.1 1308.7,700.9 1312.0,710.8 1315.2,719.2 1318.4,726.3 1321.7,733.6 1324.9,742.0 1328.1,751.0 1331.4,761.7 1334.6,776.1 1337.8,786.8 1341.1,796.7 1344.3,806.9 1347.5,816.0 1350.8,822.4 1354.0,827.3 1357.2,830.0 1360.5,831.4 1363.7,832.4 1366.9,833.8 1370.2,832.0 1373.4,829.3 1376.6,824.7 1379.9,822.7 1383.1,818.2 1386.3,813.9 1389.6,811.5 1392.8,808.6 1396.0,805.7 1399.3,803.3 1402.5,800.5 1405.8,797.5 1409.0,796.2 1412.2,791.9 1415.5,791.2 1418.7,785.8 1421.9,783.8 1425.2,782.5 1428.4,779.1 1431.6,777.7 1434.9,775.1 1438.1,772.7 1441.3,770.9 1444.6,769.2 1447.8,767.0 1451.0,765.9 1454.3,764.6 1457.5,763.7 1460.7,763.0 1464.0,759.3 1467.2,758.7 1470.4,759.3 1473.7,757.4 1476.9,757.3 1480.1,759.0 1483.4,758.3 1486.6,758.2 1489.9,757.4 1493.1,758.4 1496.3,759.0 1499.6,760.7 1502.8,761.5 1506.0,764.4 1509.3,764.7 1512.5,766.5 1515.7,770.0 1519.0,771.3 1522.2,772.9 1525.4,775.2 1528.7,778.6 1531.9,783.6 1535.1,786.8 1538.4,790.2 1541.6,791.3 1544.8,794.4 1548.1,796.1 1551.3,797.9 1554.5,797.7 1557.8,798.4 1561.0,799.5 1564.2,799.5 1567.5,798.6 1570.7,796.8 1573.9,797.6 1577.2,795.5 1580.4,794.2 1583.7,792.9 1586.9,791.1 1590.1,789.9 1593.4,788.7 1596.6,786.2 1599.8,784.9 1603.1,784.2 1606.3,783.3 1609.5,783.5 1612.8,781.8 1616.0,781.7 1619.2,781.4 1622.5,780.4 1625.7,781.2 1628.9,780.6 1632.2,780.4 1635.4,779.8 1638.6,780.4 1641.9,779.9 1645.1,779.2 1648.3,779.9 1651.6,781.4 1654.8,781.9 1658.0,781.6 1661.3,782.2 1664.5,783.7 1667.7,784.4 1671.0,785.4 1674.2,785.7 1677.5,785.3 1680.7,786.0 1683.9,788.6 1687.2,788.8 1690.4,789.7 1693.6,789.8 1696.9,788.3 1700.1,787.5 1703.3,787.0 1706.6,784.8 1709.8,784.0 1713.0,781.4 1716.3,780.6 1719.5,777.7" fill="none" stroke="#555555" stroke-width="3.2" stroke-linejoin="round" stroke-linecap="round" clip-path="url(#ce)"/>
<polyline points="1072.6,1129.1 1075.8,1128.8 1079.1,1128.4 1082.3,1129.7 1085.5,1129.2 1088.8,1128.7 1092.0,1128.9 1095.2,1128.5 1098.5,1129.2 1101.7,1129.6 1104.9,1128.7 1108.2,1128.5 1111.4,1129.3 1114.6,1128.0 1117.9,1128.5 1121.1,1128.6 1124.4,1128.8 1127.6,1130.1 1130.8,1128.1 1134.1,1130.1 1137.3,1129.4 1140.5,1129.1 1143.8,1129.4 1147.0,1129.4 1150.2,1130.0 1153.5,1129.6 1156.7,1129.2 1159.9,1128.2 1163.2,1129.5 1166.4,1128.5 1169.6,1128.6 1172.9,1128.9 1176.1,1129.3 1179.3,1129.0 1182.6,1129.1 1185.8,1125.9 1189.0,1124.5 1192.3,1124.8 1195.5,1123.9 1198.7,1124.0 1202.0,1124.5 1205.2,1123.3 1208.4,1124.1 1211.7,1121.9 1214.9,1124.0 1218.2,1123.6 1221.4,1123.0 1224.6,1121.4 1227.9,1119.7 1231.1,1119.3 1234.3,1118.2 1237.6,1114.9 1240.8,1113.7 1244.0,1112.6 1247.3,1109.6 1250.5,1105.3 1253.7,1093.7 1257.0,1079.4 1260.2,1064.6 1263.4,1042.1 1266.7,1006.6 1269.9,960.3 1273.1,894.2 1276.4,826.4 1279.6,759.6 1282.8,712.7 1286.1,684.3 1289.3,671.1 1292.5,667.5 1295.8,668.6 1299.0,671.7 1302.2,680.8 1305.5,690.2 1308.7,701.3 1312.0,709.0 1315.2,716.6 1318.4,726.7 1321.7,732.2 1324.9,740.3 1328.1,750.8 1331.4,762.5 1334.6,775.8 1337.8,787.1 1341.1,796.4 1344.3,805.3 1347.5,814.2 1350.8,822.9 1354.0,828.1 1357.2,829.0 1360.5,833.1 1363.7,833.2 1366.9,832.2 1370.2,830.3 1373.4,830.0 1376.6,825.8 1379.9,822.5 1383.1,817.6 1386.3,813.9 1389.6,811.5 1392.8,808.0 1396.0,805.8 1399.3,802.7 1402.5,800.6 1405.8,798.5 1409.0,794.9 1412.2,791.6 1415.5,790.1 1418.7,785.9 1421.9,784.0 1425.2,782.1 1428.4,779.6 1431.6,777.7 1434.9,775.8 1438.1,772.4 1441.3,770.4 1444.6,769.4 1447.8,767.4 1451.0,765.8 1454.3,763.7 1457.5,761.8 1460.7,762.0 1464.0,760.0 1467.2,759.0 1470.4,757.7 1473.7,756.4 1476.9,757.7 1480.1,758.6 1483.4,757.6 1486.6,759.0 1489.9,757.2 1493.1,759.4 1496.3,759.8 1499.6,760.5 1502.8,761.8 1506.0,763.7 1509.3,764.9 1512.5,766.1 1515.7,769.1 1519.0,769.9 1522.2,773.4 1525.4,777.9 1528.7,778.7 1531.9,784.1 1535.1,786.3 1538.4,788.1 1541.6,791.2 1544.8,794.4 1548.1,795.8 1551.3,796.6 1554.5,796.7 1557.8,799.1 1561.0,798.2 1564.2,798.6 1567.5,798.4 1570.7,797.7 1573.9,795.4 1577.2,796.4 1580.4,795.0 1583.7,792.4 1586.9,791.1 1590.1,791.3 1593.4,789.4 1596.6,788.0 1599.8,785.3 1603.1,784.8 1606.3,782.4 1609.5,782.0 1612.8,781.6 1616.0,780.9 1619.2,780.1 1622.5,779.5 1625.7,779.8 1628.9,779.7 1632.2,779.3 1635.4,780.0 1638.6,779.3 1641.9,780.2 1645.1,780.7 1648.3,780.2 1651.6,779.3 1654.8,779.5 1658.0,782.0 1661.3,781.2 1664.5,782.6 1667.7,783.4 1671.0,784.4 1674.2,785.3 1677.5,786.5 1680.7,787.2 1683.9,787.6 1687.2,789.2 1690.4,789.4 1693.6,789.3 1696.9,788.9 1700.1,787.0 1703.3,787.1 1706.6,785.2 1709.8,783.6 1713.0,781.5 1716.3,780.1 1719.5,777.4" fill="none" stroke="#eb3a3c" stroke-width="3.2" stroke-linejoin="round" stroke-linecap="round" clip-path="url(#ce)"/>
<polyline points="1072.6,1129.0 1075.8,1128.7 1079.1,1128.2 1082.3,1129.7 1085.5,1128.4 1088.8,1127.6 1092.0,1128.5 1095.2,1128.8 1098.5,1127.3 1101.7,1128.5 1104.9,1127.7 1108.2,1130.3 1111.4,1128.6 1114.6,1129.2 1117.9,1128.7 1121.1,1128.3 1124.4,1129.4 1127.6,1129.6 1130.8,1131.5 1134.1,1129.1 1137.3,1128.7 1140.5,1129.5 1143.8,1129.9 1147.0,1129.2 1150.2,1128.7 1153.5,1128.8 1156.7,1127.7 1159.9,1129.5 1163.2,1130.0 1166.4,1128.6 1169.6,1128.1 1172.9,1129.3 1176.1,1128.9 1179.3,1129.4 1182.6,1128.8 1185.8,1126.5 1189.0,1126.2 1192.3,1124.3 1195.5,1124.0 1198.7,1123.6 1202.0,1124.6 1205.2,1124.3 1208.4,1124.9 1211.7,1124.6 1214.9,1122.8 1218.2,1121.1 1221.4,1123.3 1224.6,1122.0 1227.9,1120.0 1231.1,1119.9 1234.3,1117.5 1237.6,1116.5 1240.8,1114.7 1244.0,1111.8 1247.3,1109.8 1250.5,1105.2 1253.7,1093.3 1257.0,1080.7 1260.2,1064.2 1263.4,1041.8 1266.7,1006.3 1269.9,959.2 1273.1,895.1 1276.4,824.7 1279.6,759.2 1282.8,710.5 1286.1,685.3 1289.3,670.3 1292.5,665.0 1295.8,665.2 1299.0,670.7 1302.2,677.5 1305.5,688.8 1308.7,700.5 1312.0,709.4 1315.2,717.3 1318.4,723.7 1321.7,732.5 1324.9,740.2 1328.1,749.2 1331.4,760.8 1334.6,773.9 1337.8,785.5 1341.1,797.2 1344.3,806.4 1347.5,814.9 1350.8,821.8 1354.0,827.1 1357.2,830.1 1360.5,831.1 1363.7,833.2 1366.9,831.9 1370.2,832.9 1373.4,829.1 1376.6,824.9 1379.9,820.9 1383.1,818.5 1386.3,813.6 1389.6,811.1 1392.8,808.4 1396.0,804.4 1399.3,802.8 1402.5,801.3 1405.8,798.3 1409.0,794.3 1412.2,791.9 1415.5,790.1 1418.7,787.8 1421.9,784.5 1425.2,782.0 1428.4,778.8 1431.6,777.6 1434.9,774.5 1438.1,772.0 1441.3,771.9 1444.6,769.3 1447.8,766.0 1451.0,765.8 1454.3,764.0 1457.5,762.0 1460.7,761.8 1464.0,760.2 1467.2,759.9 1470.4,757.4 1473.7,757.5 1476.9,757.1 1480.1,758.7 1483.4,756.5 1486.6,757.1 1489.9,758.7 1493.1,757.8 1496.3,761.1 1499.6,760.5 1502.8,762.9 1506.0,761.2 1509.3,766.5 1512.5,767.4 1515.7,769.2 1519.0,770.4 1522.2,772.9 1525.4,775.8 1528.7,779.3 1531.9,781.2 1535.1,786.9 1538.4,789.4 1541.6,790.7 1544.8,794.4 1548.1,795.7 1551.3,795.8 1554.5,797.4 1557.8,799.4 1561.0,798.9 1564.2,797.4 1567.5,798.5 1570.7,796.9 1573.9,796.4 1577.2,795.8 1580.4,793.0 1583.7,792.3 1586.9,790.9 1590.1,790.4 1593.4,788.7 1596.6,787.0 1599.8,785.4 1603.1,784.6 1606.3,783.7 1609.5,781.6 1612.8,782.5 1616.0,781.3 1619.2,780.7 1622.5,780.3 1625.7,780.6 1628.9,780.3 1632.2,779.2 1635.4,780.1 1638.6,780.4 1641.9,778.8 1645.1,781.0 1648.3,779.5 1651.6,780.1 1654.8,781.5 1658.0,781.1 1661.3,781.7 1664.5,781.3 1667.7,782.5 1671.0,784.3 1674.2,785.9 1677.5,787.3 1680.7,787.1 1683.9,788.7 1687.2,788.4 1690.4,788.7 1693.6,788.2 1696.9,787.4 1700.1,787.3 1703.3,786.0 1706.6,785.2 1709.8,782.9 1713.0,781.3 1716.3,779.0 1719.5,777.1" fill="none" stroke="#1c64dc" stroke-width="3.2" stroke-linejoin="round" stroke-linecap="round" clip-path="url(#ce)"/>
<polyline points="1072.6,1129.5 1075.8,1129.9 1079.1,1128.4 1082.3,1128.0 1085.5,1129.2 1088.8,1127.6 1092.0,1128.6 1095.2,1128.7 1098.5,1128.4 1101.7,1129.6 1104.9,1129.8 1108.2,1128.9 1111.4,1129.6 1114.6,1128.9 1117.9,1129.0 1121.1,1131.0 1124.4,1129.9 1127.6,1129.1 1130.8,1131.2 1134.1,1129.9 1137.3,1130.7 1140.5,1131.1 1143.8,1128.9 1147.0,1128.8 1150.2,1129.8 1153.5,1129.7 1156.7,1128.3 1159.9,1128.3 1163.2,1129.1 1166.4,1128.4 1169.6,1129.0 1172.9,1129.2 1176.1,1128.6 1179.3,1129.3 1182.6,1127.6 1185.8,1126.3 1189.0,1125.2 1192.3,1125.0 1195.5,1124.1 1198.7,1123.7 1202.0,1123.9 1205.2,1124.6 1208.4,1123.4 1211.7,1124.3 1214.9,1124.3 1218.2,1123.3 1221.4,1122.1 1224.6,1121.3 1227.9,1120.3 1231.1,1118.5 1234.3,1117.4 1237.6,1116.6 1240.8,1114.0 1244.0,1112.7 1247.3,1109.4 1250.5,1104.0 1253.7,1094.0 1257.0,1081.8 1260.2,1064.0 1263.4,1041.5 1266.7,1006.8 1269.9,959.0 1273.1,896.0 1276.4,826.6 1279.6,758.8 1282.8,709.5 1286.1,683.1 1289.3,669.8 1292.5,662.8 1295.8,664.6 1299.0,669.3 1302.2,676.4 1305.5,687.9 1308.7,699.0 1312.0,708.4 1315.2,716.2 1318.4,724.0 1321.7,731.9 1324.9,739.5 1328.1,748.6 1331.4,761.9 1334.6,774.6 1337.8,787.1 1341.1,795.6 1344.3,806.1 1347.5,814.4 1350.8,823.1 1354.0,826.9 1357.2,829.9 1360.5,831.2 1363.7,831.5 1366.9,832.6 1370.2,831.9 1373.4,828.5 1376.6,825.6 1379.9,820.6 1383.1,815.5 1386.3,814.0 1389.6,811.0 1392.8,809.2 1396.0,806.4 1399.3,802.5 1402.5,800.1 1405.8,797.3 1409.0,794.4 1412.2,792.6 1415.5,790.4 1418.7,785.8 1421.9,783.8 1425.2,780.7 1428.4,779.2 1431.6,776.5 1434.9,775.2 1438.1,772.7 1441.3,770.8 1444.6,768.5 1447.8,766.0 1451.0,764.9 1454.3,765.9 1457.5,762.6 1460.7,761.1 1464.0,759.2 1467.2,758.4 1470.4,758.0 1473.7,757.4 1476.9,756.8 1480.1,757.1 1483.4,755.9 1486.6,756.9 1489.9,757.8 1493.1,757.7 1496.3,757.7 1499.6,760.3 1502.8,761.5 1506.0,763.1 1509.3,765.3 1512.5,766.7 1515.7,769.0 1519.0,770.4 1522.2,772.9 1525.4,775.2 1528.7,779.4 1531.9,781.8 1535.1,786.8 1538.4,789.5 1541.6,790.8 1544.8,792.5 1548.1,794.2 1551.3,794.9 1554.5,796.8 1557.8,798.5 1561.0,798.8 1564.2,799.1 1567.5,798.0 1570.7,797.8 1573.9,796.7 1577.2,795.8 1580.4,795.1 1583.7,791.1 1586.9,791.0 1590.1,791.6 1593.4,788.3 1596.6,787.4 1599.8,787.0 1603.1,784.4 1606.3,783.1 1609.5,782.0 1612.8,780.8 1616.0,781.4 1619.2,780.2 1622.5,779.3 1625.7,779.1 1628.9,779.2 1632.2,779.5 1635.4,778.7 1638.6,780.5 1641.9,780.8 1645.1,778.7 1648.3,779.7 1651.6,779.4 1654.8,780.2 1658.0,780.9 1661.3,781.5 1664.5,781.9 1667.7,783.2 1671.0,784.0 1674.2,785.0 1677.5,785.4 1680.7,786.3 1683.9,786.5 1687.2,788.6 1690.4,788.4 1693.6,787.6 1696.9,787.6 1700.1,788.8 1703.3,785.9 1706.6,784.9 1709.8,783.7 1713.0,782.0 1716.3,780.3 1719.5,777.1" fill="none" stroke="#3caa6e" stroke-width="3.2" stroke-linejoin="round" stroke-linecap="round" clip-path="url(#ce)"/>
<polyline points="1072.6,1128.4 1075.8,1128.7 1079.1,1128.0 1082.3,1128.0 1085.5,1129.2 1088.8,1129.3 1092.0,1129.3 1095.2,1128.0 1098.5,1128.5 1101.7,1127.7 1104.9,1128.2 1108.2,1128.7 1111.4,1129.5 1114.6,1128.9 1117.9,1127.4 1121.1,1129.5 1124.4,1129.8 1127.6,1129.5 1130.8,1128.5 1134.1,1129.6 1137.3,1130.3 1140.5,1130.0 1143.8,1129.6 1147.0,1129.4 1150.2,1128.6 1153.5,1127.5 1156.7,1128.2 1159.9,1128.6 1163.2,1129.0 1166.4,1129.4 1169.6,1128.5 1172.9,1128.0 1176.1,1128.3 1179.3,1129.0 1182.6,1127.4 1185.8,1126.1 1189.0,1124.8 1192.3,1124.6 1195.5,1124.2 1198.7,1124.2 1202.0,1123.3 1205.2,1123.8 1208.4,1123.8 1211.7,1122.8 1214.9,1122.8 1218.2,1122.3 1221.4,1123.0 1224.6,1120.7 1227.9,1120.5 1231.1,1120.0 1234.3,1118.0 1237.6,1117.1 1240.8,1115.1 1244.0,1112.7 1247.3,1108.9 1250.5,1105.2 1253.7,1093.6 1257.0,1080.8 1260.2,1062.7 1263.4,1041.0 1266.7,1006.2 1269.9,957.7 1273.1,895.9 1276.4,825.6 1279.6,760.1 1282.8,710.7 1286.1,682.6 1289.3,668.7 1292.5,662.4 1295.8,663.9 1299.0,668.4 1302.2,675.6 1305.5,687.0 1308.7,699.2 1312.0,708.8 1315.2,715.9 1318.4,723.1 1321.7,731.8 1324.9,739.6 1328.1,750.4 1331.4,761.6 1334.6,773.8 1337.8,786.9 1341.1,795.7 1344.3,806.0 1347.5,814.6 1350.8,822.8 1354.0,828.3 1357.2,829.4 1360.5,830.3 1363.7,832.1 1366.9,831.9 1370.2,831.8 1373.4,829.1 1376.6,824.5 1379.9,821.3 1383.1,817.8 1386.3,813.2 1389.6,810.7 1392.8,808.4 1396.0,805.0 1399.3,804.8 1402.5,799.8 1405.8,796.2 1409.0,794.5 1412.2,793.1 1415.5,788.2 1418.7,784.7 1421.9,783.4 1425.2,782.0 1428.4,779.4 1431.6,776.9 1434.9,774.5 1438.1,771.7 1441.3,770.1 1444.6,770.1 1447.8,767.0 1451.0,765.2 1454.3,762.5 1457.5,762.7 1460.7,761.8 1464.0,759.7 1467.2,758.1 1470.4,758.5 1473.7,755.8 1476.9,756.4 1480.1,755.8 1483.4,756.2 1486.6,756.7 1489.9,756.6 1493.1,757.0 1496.3,759.2 1499.6,760.0 1502.8,760.5 1506.0,762.5 1509.3,764.6 1512.5,765.9 1515.7,768.7 1519.0,770.8 1522.2,775.2 1525.4,775.4 1528.7,777.3 1531.9,781.7 1535.1,785.4 1538.4,789.0 1541.6,792.0 1544.8,792.8 1548.1,794.7 1551.3,796.3 1554.5,797.2 1557.8,798.5 1561.0,798.5 1564.2,798.0 1567.5,797.3 1570.7,797.1 1573.9,795.6 1577.2,794.9 1580.4,795.3 1583.7,794.0 1586.9,791.6 1590.1,790.8 1593.4,788.1 1596.6,787.8 1599.8,785.7 1603.1,784.5 1606.3,783.6 1609.5,782.7 1612.8,781.5 1616.0,780.6 1619.2,780.4 1622.5,779.5 1625.7,779.0 1628.9,779.5 1632.2,779.8 1635.4,779.9 1638.6,779.8 1641.9,780.0 1645.1,779.7 1648.3,778.1 1651.6,779.3 1654.8,780.2 1658.0,780.1 1661.3,780.7 1664.5,781.0 1667.7,781.9 1671.0,784.5 1674.2,783.3 1677.5,786.4 1680.7,786.7 1683.9,788.0 1687.2,789.1 1690.4,789.5 1693.6,786.8 1696.9,786.8 1700.1,787.7 1703.3,786.8 1706.6,783.8 1709.8,783.9 1713.0,781.3 1716.3,778.4 1719.5,777.2" fill="none" stroke="#aa6ee0" stroke-width="3.2" stroke-linejoin="round" stroke-linecap="round" clip-path="url(#ce)"/>
<polyline points="1072.6,1127.9 1075.8,1128.7 1079.1,1129.9 1082.3,1129.2 1085.5,1129.9 1088.8,1128.4 1092.0,1129.5 1095.2,1128.5 1098.5,1128.9 1101.7,1129.0 1104.9,1128.2 1108.2,1128.9 1111.4,1129.2 1114.6,1128.1 1117.9,1129.0 1121.1,1130.1 1124.4,1128.4 1127.6,1130.4 1130.8,1129.4 1134.1,1129.2 1137.3,1129.8 1140.5,1130.2 1143.8,1129.8 1147.0,1129.7 1150.2,1130.1 1153.5,1128.7 1156.7,1129.6 1159.9,1129.6 1163.2,1128.1 1166.4,1129.5 1169.6,1130.0 1172.9,1129.0 1176.1,1128.9 1179.3,1128.9 1182.6,1126.5 1185.8,1126.4 1189.0,1123.8 1192.3,1123.9 1195.5,1123.4 1198.7,1124.3 1202.0,1124.3 1205.2,1124.0 1208.4,1123.5 1211.7,1122.9 1214.9,1122.2 1218.2,1124.3 1221.4,1121.8 1224.6,1121.4 1227.9,1120.5 1231.1,1120.1 1234.3,1117.7 1237.6,1117.5 1240.8,1113.6 1244.0,1113.1 1247.3,1109.7 1250.5,1104.4 1253.7,1093.4 1257.0,1081.6 1260.2,1063.2 1263.4,1040.9 1266.7,1005.6 1269.9,958.4 1273.1,895.2 1276.4,826.8 1279.6,759.4 1282.8,703.1 1286.1,678.1 1289.3,664.1 1292.5,659.1 1295.8,660.1 1299.0,666.7 1302.2,672.3 1305.5,684.4 1308.7,697.0 1312.0,707.2 1315.2,714.0 1318.4,723.0 1321.7,729.6 1324.9,738.2 1328.1,748.8 1331.4,760.0 1334.6,772.6 1337.8,785.6 1341.1,795.7 1344.3,805.3 1347.5,815.2 1350.8,823.0 1354.0,827.1 1357.2,829.7 1360.5,830.0 1363.7,830.8 1366.9,830.8 1370.2,830.2 1373.4,828.7 1376.6,824.7 1379.9,821.7 1383.1,816.6 1386.3,813.6 1389.6,809.5 1392.8,808.3 1396.0,805.2 1399.3,803.2 1402.5,799.6 1405.8,796.8 1409.0,795.1 1412.2,790.2 1415.5,788.4 1418.7,787.0 1421.9,783.9 1425.2,782.1 1428.4,779.9 1431.6,776.4 1434.9,775.6 1438.1,771.8 1441.3,771.2 1444.6,768.4 1447.8,765.2 1451.0,765.0 1454.3,763.3 1457.5,761.0 1460.7,760.6 1464.0,758.6 1467.2,758.3 1470.4,756.9 1473.7,755.8 1476.9,755.6 1480.1,756.3 1483.4,755.9 1486.6,756.0 1489.9,756.6 1493.1,757.6 1496.3,759.0 1499.6,758.9 1502.8,760.1 1506.0,762.7 1509.3,765.2 1512.5,765.6 1515.7,766.8 1519.0,769.3 1522.2,773.2 1525.4,774.1 1528.7,778.7 1531.9,781.1 1535.1,785.8 1538.4,788.1 1541.6,790.8 1544.8,793.0 1548.1,794.0 1551.3,796.3 1554.5,797.3 1557.8,798.1 1561.0,798.9 1564.2,797.6 1567.5,797.1 1570.7,796.9 1573.9,796.5 1577.2,794.4 1580.4,793.3 1583.7,792.0 1586.9,791.2 1590.1,790.0 1593.4,787.3 1596.6,787.2 1599.8,785.4 1603.1,785.2 1606.3,783.2 1609.5,782.4 1612.8,781.5 1616.0,780.0 1619.2,780.2 1622.5,779.0 1625.7,779.3 1628.9,779.3 1632.2,780.3 1635.4,778.8 1638.6,778.8 1641.9,780.0 1645.1,779.9 1648.3,780.9 1651.6,780.1 1654.8,780.8 1658.0,780.1 1661.3,781.1 1664.5,781.4 1667.7,783.3 1671.0,784.9 1674.2,784.8 1677.5,786.1 1680.7,785.4 1683.9,787.2 1687.2,786.9 1690.4,787.8 1693.6,788.3 1696.9,788.7 1700.1,787.1 1703.3,785.5 1706.6,784.6 1709.8,782.9 1713.0,781.3 1716.3,780.5 1719.5,777.4" fill="none" stroke="#cc9900" stroke-width="3.2" stroke-linejoin="round" stroke-linecap="round" clip-path="url(#ce)"/>
<polyline points="1072.6,1129.6 1075.8,1128.9 1079.1,1127.9 1082.3,1130.1 1085.5,1128.9 1088.8,1128.5 1092.0,1127.9 1095.2,1128.6 1098.5,1129.2 1101.7,1128.1 1104.9,1128.3 1108.2,1129.9 1111.4,1128.7 1114.6,1130.0 1117.9,1130.8 1121.1,1129.9 1124.4,1130.0 1127.6,1130.9 1130.8,1128.3 1134.1,1130.6 1137.3,1129.4 1140.5,1129.2 1143.8,1128.1 1147.0,1129.8 1150.2,1128.3 1153.5,1130.1 1156.7,1129.2 1159.9,1129.4 1163.2,1129.7 1166.4,1128.7 1169.6,1127.6 1172.9,1127.5 1176.1,1128.5 1179.3,1129.7 1182.6,1128.5 1185.8,1125.6 1189.0,1124.4 1192.3,1124.1 1195.5,1124.6 1198.7,1124.9 1202.0,1123.8 1205.2,1123.9 1208.4,1122.8 1211.7,1124.1 1214.9,1122.8 1218.2,1122.2 1221.4,1121.2 1224.6,1120.3 1227.9,1121.3 1231.1,1120.2 1234.3,1117.9 1237.6,1116.9 1240.8,1116.1 1244.0,1111.4 1247.3,1109.3 1250.5,1103.6 1253.7,1093.7 1257.0,1079.9 1260.2,1063.6 1263.4,1041.1 1266.7,1005.4 1269.9,959.4 1273.1,894.8 1276.4,826.7 1279.6,758.1 1282.8,702.4 1286.1,678.7 1289.3,665.5 1292.5,658.4 1295.8,657.2 1299.0,661.9 1302.2,670.1 1305.5,680.2 1308.7,689.9 1312.0,703.3 1315.2,713.1 1318.4,720.2 1321.7,728.0 1324.9,735.9 1328.1,747.2 1331.4,759.8 1334.6,772.1 1337.8,785.4 1341.1,794.7 1344.3,804.9 1347.5,813.7 1350.8,822.6 1354.0,827.5 1357.2,828.7 1360.5,829.8 1363.7,832.0 1366.9,831.9 1370.2,830.4 1373.4,828.4 1376.6,823.1 1379.9,820.2 1383.1,815.8 1386.3,813.2 1389.6,810.2 1392.8,807.6 1396.0,804.4 1399.3,802.8 1402.5,798.8 1405.8,797.6 1409.0,793.5 1412.2,791.1 1415.5,788.7 1418.7,784.6 1421.9,782.3 1425.2,780.6 1428.4,778.7 1431.6,775.4 1434.9,774.3 1438.1,771.3 1441.3,770.4 1444.6,767.8 1447.8,766.7 1451.0,764.6 1454.3,761.8 1457.5,760.3 1460.7,760.4 1464.0,758.7 1467.2,758.4 1470.4,755.9 1473.7,754.6 1476.9,755.7 1480.1,755.8 1483.4,755.2 1486.6,756.3 1489.9,756.3 1493.1,756.0 1496.3,757.5 1499.6,758.4 1502.8,758.8 1506.0,761.4 1509.3,762.6 1512.5,764.9 1515.7,767.6 1519.0,768.2 1522.2,772.8 1525.4,774.4 1528.7,778.4 1531.9,781.9 1535.1,786.0 1538.4,788.6 1541.6,790.5 1544.8,791.6 1548.1,795.4 1551.3,795.4 1554.5,797.0 1557.8,798.0 1561.0,798.1 1564.2,797.8 1567.5,797.5 1570.7,796.6 1573.9,794.0 1577.2,794.3 1580.4,793.0 1583.7,792.9 1586.9,790.2 1590.1,789.9 1593.4,788.1 1596.6,787.1 1599.8,785.2 1603.1,784.5 1606.3,783.7 1609.5,782.9 1612.8,781.2 1616.0,780.1 1619.2,778.9 1622.5,777.7 1625.7,777.3 1628.9,779.1 1632.2,779.2 1635.4,778.2 1638.6,779.5 1641.9,778.2 1645.1,778.4 1648.3,780.0 1651.6,779.0 1654.8,778.7 1658.0,779.8 1661.3,780.9 1664.5,781.6 1667.7,782.1 1671.0,783.9 1674.2,784.2 1677.5,785.6 1680.7,786.8 1683.9,787.7 1687.2,787.2 1690.4,788.4 1693.6,787.6 1696.9,788.6 1700.1,786.7 1703.3,785.5 1706.6,784.1 1709.8,782.2 1713.0,780.8 1716.3,778.9 1719.5,777.5" fill="none" stroke="#00c8d0" stroke-width="3.2" stroke-linejoin="round" stroke-linecap="round" clip-path="url(#ce)"/>
<polyline points="1072.6,1129.6 1075.8,1129.6 1079.1,1129.3 1082.3,1128.5 1085.5,1127.9 1088.8,1128.4 1092.0,1128.4 1095.2,1128.0 1098.5,1128.8 1101.7,1128.4 1104.9,1128.6 1108.2,1128.4 1111.4,1128.8 1114.6,1129.7 1117.9,1129.2 1121.1,1129.6 1124.4,1128.0 1127.6,1128.4 1130.8,1129.9 1134.1,1130.2 1137.3,1129.6 1140.5,1130.6 1143.8,1128.7 1147.0,1129.5 1150.2,1129.7 1153.5,1128.5 1156.7,1128.3 1159.9,1129.0 1163.2,1128.3 1166.4,1130.1 1169.6,1129.4 1172.9,1129.5 1176.1,1130.0 1179.3,1128.3 1182.6,1126.3 1185.8,1126.9 1189.0,1125.1 1192.3,1123.8 1195.5,1124.5 1198.7,1124.2 1202.0,1124.6 1205.2,1123.7 1208.4,1124.4 1211.7,1123.1 1214.9,1123.0 1218.2,1122.8 1221.4,1123.1 1224.6,1121.8 1227.9,1120.3 1231.1,1120.0 1234.3,1118.6 1237.6,1117.8 1240.8,1114.9 1244.0,1112.6 1247.3,1109.0 1250.5,1104.2 1253.7,1090.9 1257.0,1074.0 1260.2,1055.6 1263.4,1032.0 1266.7,991.3 1269.9,940.0 1273.1,870.3 1276.4,800.2 1279.6,738.8 1282.8,693.9 1286.1,671.3 1289.3,660.2 1292.5,657.3 1295.8,660.2 1299.0,664.8 1302.2,672.7 1305.5,684.7 1308.7,697.4 1312.0,707.0 1315.2,714.9 1318.4,723.1 1321.7,730.3 1324.9,738.4 1328.1,747.0 1331.4,759.8 1334.6,772.7 1337.8,785.7 1341.1,796.4 1344.3,805.5 1347.5,814.3 1350.8,822.4 1354.0,827.6 1357.2,829.3 1360.5,830.0 1363.7,831.0 1366.9,831.7 1370.2,831.5 1373.4,829.0 1376.6,822.5 1379.9,821.1 1383.1,816.5 1386.3,813.1 1389.6,811.4 1392.8,806.9 1396.0,805.2 1399.3,803.3 1402.5,799.5 1405.8,797.6 1409.0,794.2 1412.2,792.5 1415.5,788.9 1418.7,785.5 1421.9,783.7 1425.2,781.8 1428.4,779.1 1431.6,775.9 1434.9,775.3 1438.1,773.0 1441.3,769.6 1444.6,768.1 1447.8,766.5 1451.0,765.1 1454.3,763.1 1457.5,761.3 1460.7,760.1 1464.0,760.2 1467.2,757.3 1470.4,757.8 1473.7,754.8 1476.9,756.0 1480.1,755.3 1483.4,755.8 1486.6,756.9 1489.9,756.2 1493.1,757.4 1496.3,756.9 1499.6,758.9 1502.8,760.4 1506.0,760.3 1509.3,762.6 1512.5,765.4 1515.7,768.1 1519.0,768.5 1522.2,771.5 1525.4,774.1 1528.7,778.3 1531.9,782.1 1535.1,786.1 1538.4,788.0 1541.6,791.2 1544.8,792.3 1548.1,795.9 1551.3,795.1 1554.5,797.5 1557.8,799.7 1561.0,799.1 1564.2,797.9 1567.5,796.6 1570.7,798.8 1573.9,796.8 1577.2,794.6 1580.4,794.6 1583.7,792.7 1586.9,791.9 1590.1,789.7 1593.4,789.3 1596.6,787.0 1599.8,785.9 1603.1,783.9 1606.3,783.0 1609.5,781.4 1612.8,781.1 1616.0,779.2 1619.2,780.8 1622.5,779.4 1625.7,778.5 1628.9,778.9 1632.2,780.9 1635.4,778.9 1638.6,779.5 1641.9,777.6 1645.1,779.5 1648.3,779.1 1651.6,780.5 1654.8,779.5 1658.0,782.3 1661.3,781.6 1664.5,782.0 1667.7,783.7 1671.0,783.0 1674.2,784.7 1677.5,784.5 1680.7,787.5 1683.9,787.9 1687.2,787.4 1690.4,788.4 1693.6,787.4 1696.9,787.1 1700.1,787.4 1703.3,785.7 1706.6,784.2 1709.8,782.9 1713.0,781.5 1716.3,779.9 1719.5,777.7" fill="none" stroke="#6e4b4b" stroke-width="3.2" stroke-linejoin="round" stroke-linecap="round" clip-path="url(#ce)"/>
<polyline points="1072.6,1128.2 1075.8,1127.4 1079.1,1129.8 1082.3,1129.4 1085.5,1128.8 1088.8,1127.6 1092.0,1129.2 1095.2,1127.0 1098.5,1127.0 1101.7,1130.2 1104.9,1128.1 1108.2,1128.2 1111.4,1129.0 1114.6,1130.1 1117.9,1128.7 1121.1,1129.4 1124.4,1128.4 1127.6,1129.0 1130.8,1130.2 1134.1,1128.2 1137.3,1128.3 1140.5,1128.5 1143.8,1129.5 1147.0,1128.8 1150.2,1129.3 1153.5,1129.6 1156.7,1130.4 1159.9,1128.8 1163.2,1130.4 1166.4,1128.4 1169.6,1129.8 1172.9,1128.7 1176.1,1129.1 1179.3,1129.7 1182.6,1128.6 1185.8,1126.3 1189.0,1123.7 1192.3,1124.2 1195.5,1124.5 1198.7,1123.6 1202.0,1124.9 1205.2,1124.9 1208.4,1124.3 1211.7,1122.8 1214.9,1123.6 1218.2,1123.0 1221.4,1122.5 1224.6,1122.0 1227.9,1119.7 1231.1,1118.9 1234.3,1118.5 1237.6,1117.0 1240.8,1114.5 1244.0,1113.2 1247.3,1109.7 1250.5,1102.9 1253.7,1089.8 1257.0,1074.7 1260.2,1056.7 1263.4,1031.8 1266.7,991.7 1269.9,937.9 1273.1,870.8 1276.4,801.0 1279.6,739.2 1282.8,692.8 1286.1,672.0 1289.3,660.8 1292.5,655.2 1295.8,659.6 1299.0,663.6 1302.2,673.0 1305.5,683.0 1308.7,697.3 1312.0,705.3 1315.2,714.4 1318.4,723.4 1321.7,728.5 1324.9,739.1 1328.1,747.7 1331.4,758.8 1334.6,773.1 1337.8,784.2 1341.1,795.2 1344.3,805.6 1347.5,813.6 1350.8,822.1 1354.0,827.4 1357.2,828.3 1360.5,830.4 1363.7,832.1 1366.9,832.0 1370.2,829.0 1373.4,826.7 1376.6,826.0 1379.9,820.3 1383.1,815.9 1386.3,813.4 1389.6,809.9 1392.8,808.5 1396.0,805.5 1399.3,801.9 1402.5,800.0 1405.8,797.3 1409.0,794.5 1412.2,792.4 1415.5,789.4 1418.7,786.2 1421.9,783.3 1425.2,781.3 1428.4,777.0 1431.6,777.4 1434.9,774.8 1438.1,772.4 1441.3,769.6 1444.6,769.1 1447.8,766.1 1451.0,765.3 1454.3,763.8 1457.5,761.4 1460.7,759.7 1464.0,758.1 1467.2,758.3 1470.4,755.7 1473.7,754.9 1476.9,755.1 1480.1,755.1 1483.4,755.7 1486.6,756.3 1489.9,756.1 1493.1,756.2 1496.3,758.3 1499.6,758.9 1502.8,759.7 1506.0,762.8 1509.3,762.2 1512.5,764.9 1515.7,766.2 1519.0,769.8 1522.2,772.7 1525.4,774.8 1528.7,777.6 1531.9,782.2 1535.1,784.6 1538.4,788.4 1541.6,791.7 1544.8,792.3 1548.1,794.4 1551.3,795.7 1554.5,797.2 1557.8,798.2 1561.0,799.0 1564.2,797.9 1567.5,797.5 1570.7,796.4 1573.9,796.2 1577.2,794.2 1580.4,792.7 1583.7,793.1 1586.9,790.9 1590.1,788.0 1593.4,788.5 1596.6,786.8 1599.8,785.2 1603.1,784.3 1606.3,782.2 1609.5,782.0 1612.8,781.2 1616.0,780.8 1619.2,779.2 1622.5,779.1 1625.7,779.1 1628.9,779.0 1632.2,777.7 1635.4,778.9 1638.6,778.8 1641.9,778.2 1645.1,779.4 1648.3,778.8 1651.6,780.4 1654.8,779.4 1658.0,781.7 1661.3,780.7 1664.5,781.9 1667.7,783.0 1671.0,782.8 1674.2,784.0 1677.5,784.9 1680.7,785.4 1683.9,786.8 1687.2,787.3 1690.4,788.0 1693.6,786.5 1696.9,786.8 1700.1,787.3 1703.3,786.3 1706.6,785.0 1709.8,783.5 1713.0,780.4 1716.3,779.2 1719.5,776.7" fill="none" stroke="#8c8c10" stroke-width="3.2" stroke-linejoin="round" stroke-linecap="round" clip-path="url(#ce)"/>
<polyline points="1072.6,1129.5 1075.8,1129.4 1079.1,1127.9 1082.3,1130.1 1085.5,1129.5 1088.8,1130.1 1092.0,1129.1 1095.2,1126.8 1098.5,1129.1 1101.7,1127.9 1104.9,1127.4 1108.2,1129.1 1111.4,1129.2 1114.6,1128.6 1117.9,1128.5 1121.1,1130.2 1124.4,1129.8 1127.6,1128.3 1130.8,1130.1 1134.1,1129.3 1137.3,1128.9 1140.5,1129.9 1143.8,1129.7 1147.0,1129.9 1150.2,1129.9 1153.5,1129.7 1156.7,1130.3 1159.9,1129.5 1163.2,1129.2 1166.4,1128.5 1169.6,1129.2 1172.9,1129.4 1176.1,1127.6 1179.3,1129.0 1182.6,1128.1 1185.8,1126.4 1189.0,1124.8 1192.3,1125.1 1195.5,1124.7 1198.7,1124.8 1202.0,1124.9 1205.2,1124.2 1208.4,1124.7 1211.7,1122.4 1214.9,1124.2 1218.2,1121.9 1221.4,1122.4 1224.6,1121.1 1227.9,1119.6 1231.1,1120.6 1234.3,1116.8 1237.6,1115.9 1240.8,1114.8 1244.0,1113.0 1247.3,1109.3 1250.5,1105.5 1253.7,1092.6 1257.0,1080.8 1260.2,1063.2 1263.4,1041.1 1266.7,1007.0 1269.9,958.9 1273.1,895.8 1276.4,824.5 1279.6,759.1 1282.8,711.7 1286.1,682.2 1289.3,664.8 1292.5,656.3 1295.8,655.0 1299.0,658.8 1302.2,664.0 1305.5,670.8 1308.7,680.9 1312.0,693.0 1315.2,703.5 1318.4,713.7 1321.7,723.8 1324.9,734.7 1328.1,744.8 1331.4,757.8 1334.6,770.8 1337.8,783.7 1341.1,794.3 1344.3,804.1 1347.5,814.4 1350.8,822.3 1354.0,826.5 1357.2,828.4 1360.5,828.8 1363.7,830.1 1366.9,831.3 1370.2,828.8 1373.4,826.3 1376.6,824.8 1379.9,820.5 1383.1,815.4 1386.3,812.5 1389.6,810.9 1392.8,806.5 1396.0,804.7 1399.3,802.0 1402.5,798.7 1405.8,797.2 1409.0,794.3 1412.2,790.3 1415.5,787.2 1418.7,784.9 1421.9,781.4 1425.2,779.3 1428.4,776.5 1431.6,775.6 1434.9,773.1 1438.1,770.2 1441.3,769.6 1444.6,767.7 1447.8,765.3 1451.0,764.0 1454.3,762.9 1457.5,761.9 1460.7,758.2 1464.0,757.5 1467.2,755.2 1470.4,755.6 1473.7,754.1 1476.9,754.0 1480.1,753.9 1483.4,755.4 1486.6,753.9 1489.9,755.6 1493.1,755.9 1496.3,757.5 1499.6,756.8 1502.8,760.1 1506.0,759.2 1509.3,762.3 1512.5,764.1 1515.7,766.4 1519.0,767.3 1522.2,771.4 1525.4,774.0 1528.7,777.2 1531.9,780.0 1535.1,783.9 1538.4,788.2 1541.6,789.7 1544.8,790.8 1548.1,793.0 1551.3,794.7 1554.5,796.9 1557.8,796.0 1561.0,797.0 1564.2,798.3 1567.5,797.4 1570.7,797.9 1573.9,794.7 1577.2,794.7 1580.4,792.9 1583.7,790.6 1586.9,791.4 1590.1,788.5 1593.4,787.8 1596.6,786.9 1599.8,783.9 1603.1,783.2 1606.3,783.0 1609.5,781.2 1612.8,781.0 1616.0,780.2 1619.2,779.1 1622.5,777.6 1625.7,779.1 1628.9,778.9 1632.2,777.4 1635.4,779.1 1638.6,778.4 1641.9,778.6 1645.1,779.5 1648.3,779.3 1651.6,779.1 1654.8,779.4 1658.0,779.2 1661.3,780.2 1664.5,780.5 1667.7,781.9 1671.0,783.4 1674.2,783.7 1677.5,784.8 1680.7,785.4 1683.9,786.8 1687.2,787.3 1690.4,787.6 1693.6,788.4 1696.9,786.7 1700.1,786.7 1703.3,785.8 1706.6,784.2 1709.8,781.0 1713.0,781.3 1716.3,777.8 1719.5,778.3" fill="none" stroke="#ff6400" stroke-width="3.2" stroke-linejoin="round" stroke-linecap="round" clip-path="url(#ce)"/>
<polyline points="1072.6,1129.2 1075.8,1127.6 1079.1,1128.7 1082.3,1128.5 1085.5,1129.1 1088.8,1130.0 1092.0,1128.3 1095.2,1128.0 1098.5,1127.9 1101.7,1127.3 1104.9,1128.7 1108.2,1128.3 1111.4,1130.2 1114.6,1129.1 1117.9,1128.9 1121.1,1128.2 1124.4,1128.0 1127.6,1128.3 1130.8,1129.2 1134.1,1129.7 1137.3,1129.7 1140.5,1129.7 1143.8,1129.5 1147.0,1128.7 1150.2,1129.5 1153.5,1130.4 1156.7,1130.0 1159.9,1127.1 1163.2,1128.1 1166.4,1129.3 1169.6,1129.1 1172.9,1128.4 1176.1,1128.7 1179.3,1128.7 1182.6,1129.3 1185.8,1126.9 1189.0,1124.7 1192.3,1124.0 1195.5,1124.1 1198.7,1123.1 1202.0,1124.0 1205.2,1123.7 1208.4,1123.7 1211.7,1122.9 1214.9,1123.8 1218.2,1121.7 1221.4,1123.3 1224.6,1121.1 1227.9,1120.1 1231.1,1118.3 1234.3,1118.7 1237.6,1116.9 1240.8,1114.7 1244.0,1111.9 1247.3,1109.0 1250.5,1106.1 1253.7,1094.0 1257.0,1080.5 1260.2,1063.6 1263.4,1041.0 1266.7,1006.8 1269.9,958.6 1273.1,896.5 1276.4,824.8 1279.6,760.8 1282.8,711.0 1286.1,681.9 1289.3,663.9 1292.5,656.2 1295.8,654.1 1299.0,657.0 1302.2,661.8 1305.5,669.1 1308.7,679.1 1312.0,692.6 1315.2,703.2 1318.4,713.6 1321.7,723.1 1324.9,733.6 1328.1,746.5 1331.4,757.8 1334.6,771.1 1337.8,783.9 1341.1,794.3 1344.3,804.0 1347.5,814.3 1350.8,821.3 1354.0,825.8 1357.2,828.3 1360.5,828.8 1363.7,830.9 1366.9,831.1 1370.2,829.9 1373.4,828.0 1376.6,823.9 1379.9,820.0 1383.1,815.0 1386.3,812.9 1389.6,809.0 1392.8,808.0 1396.0,805.0 1399.3,801.7 1402.5,799.3 1405.8,798.4 1409.0,793.8 1412.2,790.4 1415.5,788.8 1418.7,785.1 1421.9,782.3 1425.2,779.2 1428.4,776.2 1431.6,775.8 1434.9,773.4 1438.1,769.7 1441.3,768.0 1444.6,765.8 1447.8,765.3 1451.0,762.9 1454.3,763.8 1457.5,760.3 1460.7,759.6 1464.0,758.4 1467.2,756.7 1470.4,754.1 1473.7,752.9 1476.9,753.9 1480.1,753.9 1483.4,753.2 1486.6,755.0 1489.9,755.0 1493.1,755.4 1496.3,755.8 1499.6,757.8 1502.8,760.8 1506.0,760.4 1509.3,761.3 1512.5,763.9 1515.7,766.1 1519.0,768.7 1522.2,770.2 1525.4,773.0 1528.7,776.1 1531.9,780.1 1535.1,783.2 1538.4,787.3 1541.6,790.0 1544.8,792.4 1548.1,793.6 1551.3,794.8 1554.5,795.0 1557.8,796.6 1561.0,797.5 1564.2,796.7 1567.5,796.3 1570.7,796.2 1573.9,794.6 1577.2,794.5 1580.4,792.5 1583.7,790.0 1586.9,789.6 1590.1,788.5 1593.4,786.9 1596.6,785.6 1599.8,785.5 1603.1,783.7 1606.3,782.8 1609.5,781.1 1612.8,779.8 1616.0,778.1 1619.2,778.7 1622.5,778.8 1625.7,777.6 1628.9,777.8 1632.2,777.6 1635.4,777.9 1638.6,777.7 1641.9,778.6 1645.1,778.2 1648.3,778.0 1651.6,778.7 1654.8,778.7 1658.0,779.9 1661.3,779.5 1664.5,781.0 1667.7,782.3 1671.0,783.1 1674.2,784.2 1677.5,785.0 1680.7,786.2 1683.9,785.4 1687.2,786.5 1690.4,787.0 1693.6,786.9 1696.9,786.9 1700.1,785.5 1703.3,785.2 1706.6,783.8 1709.8,782.8 1713.0,779.8 1716.3,777.9 1719.5,775.9" fill="none" stroke="#6496d2" stroke-width="3.2" stroke-linejoin="round" stroke-linecap="round" clip-path="url(#ce)"/>
<polyline points="1072.6,1128.2 1075.8,1130.4 1079.1,1128.7 1082.3,1128.0 1085.5,1128.3 1088.8,1129.7 1092.0,1128.4 1095.2,1128.1 1098.5,1129.0 1101.7,1129.4 1104.9,1129.0 1108.2,1130.6 1111.4,1128.5 1114.6,1129.4 1117.9,1129.2 1121.1,1129.3 1124.4,1129.4 1127.6,1128.4 1130.8,1130.1 1134.1,1129.8 1137.3,1131.1 1140.5,1130.1 1143.8,1130.9 1147.0,1129.0 1150.2,1129.5 1153.5,1129.8 1156.7,1128.6 1159.9,1129.8 1163.2,1129.2 1166.4,1129.6 1169.6,1129.6 1172.9,1129.2 1176.1,1129.4 1179.3,1129.1 1182.6,1128.7 1185.8,1127.1 1189.0,1123.9 1192.3,1124.3 1195.5,1124.7 1198.7,1124.1 1202.0,1124.8 1205.2,1123.7 1208.4,1124.8 1211.7,1123.3 1214.9,1123.2 1218.2,1123.2 1221.4,1122.1 1224.6,1121.8 1227.9,1119.5 1231.1,1119.0 1234.3,1119.0 1237.6,1117.0 1240.8,1113.4 1244.0,1112.8 1247.3,1109.4 1250.5,1104.7 1253.7,1092.8 1257.0,1080.0 1260.2,1063.3 1263.4,1041.5 1266.7,1006.9 1269.9,957.7 1273.1,895.6 1276.4,826.7 1279.6,758.1 1282.8,717.9 1286.1,688.3 1289.3,665.1 1292.5,652.3 1295.8,649.6 1299.0,650.2 1302.2,654.5 1305.5,662.2 1308.7,670.4 1312.0,680.6 1315.2,693.8 1318.4,707.0 1321.7,717.4 1324.9,730.0 1328.1,740.9 1331.4,756.2 1334.6,768.5 1337.8,780.1 1341.1,791.1 1344.3,803.4 1347.5,815.0 1350.8,821.0 1354.0,825.4 1357.2,827.4 1360.5,828.1 1363.7,829.7 1366.9,829.4 1370.2,829.2 1373.4,826.9 1376.6,823.2 1379.9,818.0 1383.1,814.9 1386.3,812.3 1389.6,809.3 1392.8,807.3 1396.0,804.7 1399.3,801.6 1402.5,800.1 1405.8,795.9 1409.0,793.4 1412.2,789.1 1415.5,787.4 1418.7,783.5 1421.9,781.3 1425.2,777.7 1428.4,776.9 1431.6,773.8 1434.9,772.0 1438.1,770.5 1441.3,767.8 1444.6,766.0 1447.8,764.5 1451.0,763.2 1454.3,761.4 1457.5,759.8 1460.7,756.8 1464.0,755.4 1467.2,753.3 1470.4,752.2 1473.7,750.7 1476.9,751.5 1480.1,751.4 1483.4,751.9 1486.6,752.8 1489.9,752.8 1493.1,753.7 1496.3,754.4 1499.6,755.6 1502.8,756.3 1506.0,759.3 1509.3,759.5 1512.5,761.8 1515.7,764.2 1519.0,766.3 1522.2,768.3 1525.4,770.7 1528.7,774.7 1531.9,778.0 1535.1,782.3 1538.4,785.4 1541.6,788.0 1544.8,789.9 1548.1,792.4 1551.3,794.5 1554.5,794.0 1557.8,796.4 1561.0,795.7 1564.2,796.1 1567.5,794.6 1570.7,794.9 1573.9,794.0 1577.2,794.1 1580.4,791.1 1583.7,790.4 1586.9,789.7 1590.1,788.3 1593.4,785.8 1596.6,785.1 1599.8,783.4 1603.1,782.9 1606.3,781.5 1609.5,780.0 1612.8,779.7 1616.0,777.6 1619.2,777.7 1622.5,775.5 1625.7,776.8 1628.9,776.8 1632.2,776.5 1635.4,776.9 1638.6,776.9 1641.9,777.1 1645.1,776.5 1648.3,777.9 1651.6,777.1 1654.8,777.6 1658.0,778.5 1661.3,779.4 1664.5,778.8 1667.7,782.8 1671.0,782.4 1674.2,783.2 1677.5,783.8 1680.7,785.0 1683.9,785.1 1687.2,785.9 1690.4,785.8 1693.6,786.8 1696.9,785.7 1700.1,784.1 1703.3,784.7 1706.6,782.8 1709.8,782.4 1713.0,779.4 1716.3,778.3 1719.5,775.3" fill="none" stroke="#64b40a" stroke-width="3.2" stroke-linejoin="round" stroke-linecap="round" clip-path="url(#ce)"/>
<rect x="1072.6" y="641" width="646.90" height="521.30" fill="none" stroke="#000" stroke-width="4.8"/>
<line x1="1072.60" y1="1162.30" x2="1072.60" y2="1172.70" stroke="#000" stroke-width="4.8"/>
<line x1="1201.98" y1="1162.30" x2="1201.98" y2="1172.70" stroke="#000" stroke-width="4.8"/>
<line x1="1331.36" y1="1162.30" x2="1331.36" y2="1172.70" stroke="#000" stroke-width="4.8"/>
<line x1="1460.74" y1="1162.30" x2="1460.74" y2="1172.70" stroke="#000" stroke-width="4.8"/>
<line x1="1590.12" y1="1162.30" x2="1590.12" y2="1172.70" stroke="#000" stroke-width="4.8"/>
<line x1="1719.50" y1="1162.30" x2="1719.50" y2="1172.70" stroke="#000" stroke-width="4.8"/>
<line x1="1137.29" y1="1162.30" x2="1137.29" y2="1168.70" stroke="#000" stroke-width="4.8"/>
<line x1="1266.67" y1="1162.30" x2="1266.67" y2="1168.70" stroke="#000" stroke-width="4.8"/>
<line x1="1396.05" y1="1162.30" x2="1396.05" y2="1168.70" stroke="#000" stroke-width="4.8"/>
<line x1="1525.43" y1="1162.30" x2="1525.43" y2="1168.70" stroke="#000" stroke-width="4.8"/>
<line x1="1654.81" y1="1162.30" x2="1654.81" y2="1168.70" stroke="#000" stroke-width="4.8"/>
<line x1="1072.60" y1="1127.55" x2="1062.20" y2="1127.55" stroke="#000" stroke-width="4.8"/>
<line x1="1072.60" y1="988.53" x2="1062.20" y2="988.53" stroke="#000" stroke-width="4.8"/>
<line x1="1072.60" y1="849.52" x2="1062.20" y2="849.52" stroke="#000" stroke-width="4.8"/>
<line x1="1072.60" y1="710.51" x2="1062.20" y2="710.51" stroke="#000" stroke-width="4.8"/>
<line x1="1072.60" y1="1058.04" x2="1066.20" y2="1058.04" stroke="#000" stroke-width="4.8"/>
<line x1="1072.60" y1="919.03" x2="1066.20" y2="919.03" stroke="#000" stroke-width="4.8"/>
<line x1="1072.60" y1="780.01" x2="1066.20" y2="780.01" stroke="#000" stroke-width="4.8"/>
<line x1="1072.60" y1="641.00" x2="1066.20" y2="641.00" stroke="#000" stroke-width="4.8"/>
<text x="1038.10" y="1202.30" font-size="30.00" fill="#000" font-weight="bold" >9600</text>
<text x="1167.48" y="1202.30" font-size="30.00" fill="#000" font-weight="bold" >9640</text>
<text x="1296.86" y="1202.30" font-size="30.00" fill="#000" font-weight="bold" >9680</text>
<text x="1426.24" y="1202.30" font-size="30.00" fill="#000" font-weight="bold" >9720</text>
<text x="1555.62" y="1202.30" font-size="30.00" fill="#000" font-weight="bold" >9760</text>
<text x="1685.00" y="1202.30" font-size="30.00" fill="#000" font-weight="bold" >9800</text>
<text x="1012.70" y="1136.35" font-size="30.00" fill="#000" font-weight="bold" >0.0</text>
<text x="1011.65" y="997.33" font-size="30.00" fill="#000" font-weight="bold" >0.4</text>
<text x="1012.40" y="858.32" font-size="30.00" fill="#000" font-weight="bold" >0.8</text>
<text x="1012.70" y="719.31" font-size="30.00" fill="#000" font-weight="bold" >1.2</text>
<text x="1320.59" y="1249.00" font-size="26.20" fill="#000" font-weight="bold" textLength="146.36" lengthAdjust="spacingAndGlyphs" >Energy (eV)</text>
<g transform="rotate(-90 999 1163)"><text x="997.12" y="1163.00" font-size="29.30" fill="#000" font-weight="bold" textLength="478.23" lengthAdjust="spacingAndGlyphs" >Normalized absorption  (arb. units)</text></g>
<line x1="1083.2" y1="670.2" x2="1145.2" y2="670.2" stroke="#555555" stroke-width="3.4" stroke-linecap="round"/>
<text x="1149.95" y="679.40" font-size="23.80" fill="#000" font-weight="bold" textLength="49.63" lengthAdjust="spacingAndGlyphs" >0.8 V</text>
<line x1="1083.2" y1="703.8" x2="1145.2" y2="703.8" stroke="#eb3a3c" stroke-width="3.4" stroke-linecap="round"/>
<text x="1149.95" y="712.95" font-size="23.80" fill="#000" font-weight="bold" textLength="73.27" lengthAdjust="spacingAndGlyphs" >0.825 V</text>
<line x1="1083.2" y1="737.3" x2="1145.2" y2="737.3" stroke="#1c64dc" stroke-width="3.4" stroke-linecap="round"/>
<text x="1149.95" y="746.50" font-size="23.80" fill="#000" font-weight="bold" textLength="61.45" lengthAdjust="spacingAndGlyphs" >0.85 V</text>
<line x1="1083.2" y1="770.9" x2="1145.2" y2="770.9" stroke="#3caa6e" stroke-width="3.4" stroke-linecap="round"/>
<text x="1149.95" y="780.05" font-size="23.80" fill="#000" font-weight="bold" textLength="73.27" lengthAdjust="spacingAndGlyphs" >0.875 V</text>
<line x1="1083.2" y1="804.4" x2="1145.2" y2="804.4" stroke="#aa6ee0" stroke-width="3.4" stroke-linecap="round"/>
<text x="1149.95" y="813.60" font-size="23.80" fill="#000" font-weight="bold" textLength="49.63" lengthAdjust="spacingAndGlyphs" >0.9 V</text>
<line x1="1083.2" y1="838.0" x2="1145.2" y2="838.0" stroke="#cc9900" stroke-width="3.4" stroke-linecap="round"/>
<text x="1149.95" y="847.15" font-size="23.80" fill="#000" font-weight="bold" textLength="73.27" lengthAdjust="spacingAndGlyphs" >0.925 V</text>
<line x1="1083.2" y1="871.5" x2="1145.2" y2="871.5" stroke="#00c8d0" stroke-width="3.4" stroke-linecap="round"/>
<text x="1149.95" y="880.70" font-size="23.80" fill="#000" font-weight="bold" textLength="61.45" lengthAdjust="spacingAndGlyphs" >0.95 V</text>
<line x1="1083.2" y1="905.0" x2="1145.2" y2="905.0" stroke="#6e4b4b" stroke-width="3.4" stroke-linecap="round"/>
<text x="1149.95" y="914.25" font-size="23.80" fill="#000" font-weight="bold" textLength="73.27" lengthAdjust="spacingAndGlyphs" >0.975 V</text>
<line x1="1083.2" y1="938.6" x2="1145.2" y2="938.6" stroke="#8c8c10" stroke-width="3.4" stroke-linecap="round"/>
<text x="1149.52" y="947.80" font-size="23.80" fill="#000" font-weight="bold" textLength="49.63" lengthAdjust="spacingAndGlyphs" >1.0 V</text>
<line x1="1083.2" y1="972.2" x2="1145.2" y2="972.2" stroke="#ff6400" stroke-width="3.4" stroke-linecap="round"/>
<text x="1149.52" y="981.35" font-size="23.80" fill="#000" font-weight="bold" textLength="73.27" lengthAdjust="spacingAndGlyphs" >1.025 V</text>
<line x1="1083.2" y1="1005.7" x2="1145.2" y2="1005.7" stroke="#6496d2" stroke-width="3.4" stroke-linecap="round"/>
<text x="1149.52" y="1014.90" font-size="23.80" fill="#000" font-weight="bold" textLength="61.45" lengthAdjust="spacingAndGlyphs" >1.05 V</text>
<line x1="1083.2" y1="1039.2" x2="1145.2" y2="1039.2" stroke="#64b40a" stroke-width="3.4" stroke-linecap="round"/>
<text x="1149.52" y="1048.45" font-size="23.80" fill="#000" font-weight="bold" textLength="49.63" lengthAdjust="spacingAndGlyphs" >1.1 V</text>
<rect x="1436.6" y="851" width="261.4" height="273" fill="#fff"/>
<clipPath id="cei"><rect x="1436.6" y="851" width="261.4" height="273"/></clipPath>
<polyline points="1436.6,2182.1 1444.8,1996.1 1452.9,1816.5 1461.1,1630.8 1469.3,1469.8 1477.4,1339.6 1485.6,1225.6 1493.8,1137.6 1501.9,1082.6 1510.1,1041.7 1518.3,1011.6 1526.5,992.5 1534.6,985.1 1542.8,986.2 1551.0,991.5 1559.1,1001.0 1567.3,1014.7 1575.5,1032.5 1583.6,1054.4 1591.8,1080.5 1600.0,1110.8 1608.1,1140.7 1616.3,1166.6 1624.5,1190.5 1632.7,1212.8 1640.8,1233.9 1649.0,1254.0 1657.2,1273.6 1665.3,1293.0 1673.5,1312.6 1681.7,1332.7 1689.8,1353.7 1698.0,1376.0" fill="none" stroke="#555555" stroke-width="3" stroke-linejoin="round" stroke-linecap="round" clip-path="url(#cei)"/>
<polyline points="1436.6,2182.1 1444.8,1996.1 1452.9,1816.5 1461.1,1630.8 1469.3,1469.8 1477.4,1339.8 1485.6,1225.9 1493.8,1137.7 1501.9,1082.1 1510.1,1040.6 1518.3,1010.1 1526.5,990.8 1534.6,983.3 1542.8,984.4 1551.0,989.6 1559.1,999.0 1567.3,1012.5 1575.5,1030.1 1583.6,1051.8 1591.8,1077.6 1600.0,1107.6 1608.1,1137.9 1616.3,1163.9 1624.5,1187.9 1632.7,1210.3 1640.8,1231.3 1649.0,1251.5 1657.2,1271.1 1665.3,1290.5 1673.5,1310.0 1681.7,1330.1 1689.8,1351.1 1698.0,1373.4" fill="none" stroke="#eb3a3c" stroke-width="3" stroke-linejoin="round" stroke-linecap="round" clip-path="url(#cei)"/>
<polyline points="1436.6,2182.1 1444.8,1996.1 1452.9,1816.6 1461.1,1631.7 1469.3,1469.8 1477.4,1336.3 1485.6,1219.1 1493.8,1130.8 1501.9,1077.8 1510.1,1037.0 1518.3,1006.8 1526.5,987.3 1534.6,978.9 1542.8,979.5 1551.0,984.4 1559.1,993.5 1567.3,1006.7 1575.5,1024.0 1583.6,1045.5 1591.8,1071.0 1600.0,1100.8 1608.1,1132.4 1616.3,1158.9 1624.5,1183.3 1632.7,1206.0 1640.8,1227.4 1649.0,1247.8 1657.2,1267.6 1665.3,1287.1 1673.5,1306.9 1681.7,1327.1 1689.8,1348.3 1698.0,1370.7" fill="none" stroke="#1c64dc" stroke-width="3" stroke-linejoin="round" stroke-linecap="round" clip-path="url(#cei)"/>
<polyline points="1436.6,2182.1 1444.8,1996.1 1452.9,1816.8 1461.1,1632.5 1469.3,1469.8 1477.4,1332.8 1485.6,1212.3 1493.8,1124.0 1501.9,1072.6 1510.1,1031.7 1518.3,1001.3 1526.5,981.4 1534.6,972.0 1542.8,971.9 1551.0,976.7 1559.1,985.8 1567.3,999.2 1575.5,1017.0 1583.6,1039.1 1591.8,1065.5 1600.0,1096.3 1608.1,1129.7 1616.3,1156.8 1624.5,1181.6 1632.7,1204.5 1640.8,1226.0 1649.0,1246.3 1657.2,1266.0 1665.3,1285.4 1673.5,1304.9 1681.7,1325.0 1689.8,1345.9 1698.0,1368.2" fill="none" stroke="#3caa6e" stroke-width="3" stroke-linejoin="round" stroke-linecap="round" clip-path="url(#cei)"/>
<polyline points="1436.6,2182.1 1444.8,1996.1 1452.9,1816.8 1461.1,1632.5 1469.3,1469.8 1477.4,1333.4 1485.6,1213.3 1493.8,1124.0 1501.9,1070.2 1510.1,1027.3 1518.3,995.5 1526.5,974.6 1534.6,964.7 1542.8,964.6 1551.0,969.4 1559.1,978.5 1567.3,991.9 1575.5,1009.7 1583.6,1031.7 1591.8,1058.2 1600.0,1088.9 1608.1,1124.0 1616.3,1151.8 1624.5,1177.1 1632.7,1200.5 1640.8,1222.3 1649.0,1242.9 1657.2,1262.8 1665.3,1282.3 1673.5,1302.0 1681.7,1322.1 1689.8,1343.1 1698.0,1365.5" fill="none" stroke="#aa6ee0" stroke-width="3" stroke-linejoin="round" stroke-linecap="round" clip-path="url(#cei)"/>
<polyline points="1436.6,2182.1 1444.8,1996.1 1452.9,1817.4 1461.1,1636.4 1469.3,1469.8 1477.4,1317.0 1485.6,1182.4 1493.8,1096.7 1501.9,1043.5 1510.1,1000.7 1518.3,970.1 1526.5,952.0 1534.6,945.6 1542.8,947.7 1551.0,954.0 1559.1,964.6 1567.3,979.3 1575.5,998.3 1583.6,1021.5 1591.8,1048.9 1600.0,1080.5 1608.1,1117.1 1616.3,1147.2 1624.5,1173.6 1632.7,1197.7 1640.8,1219.7 1649.0,1240.4 1657.2,1260.0 1665.3,1279.2 1673.5,1298.4 1681.7,1318.0 1689.8,1338.5 1698.0,1360.5" fill="none" stroke="#cc9900" stroke-width="3" stroke-linejoin="round" stroke-linecap="round" clip-path="url(#cei)"/>
<polyline points="1436.6,2182.1 1444.8,1996.1 1452.9,1817.6 1461.1,1637.5 1469.3,1469.8 1477.4,1310.4 1485.6,1171.5 1493.8,1093.1 1501.9,1044.3 1510.1,1003.6 1518.3,972.8 1526.5,951.8 1534.6,941.2 1542.8,939.8 1551.0,943.1 1559.1,950.8 1567.3,962.4 1575.5,978.1 1583.6,997.7 1591.8,1021.4 1600.0,1049.0 1608.1,1080.7 1616.3,1117.1 1624.5,1147.8 1632.7,1175.0 1640.8,1200.0 1649.0,1223.2 1657.2,1245.2 1665.3,1266.3 1673.5,1287.3 1681.7,1308.5 1689.8,1330.4 1698.0,1353.7" fill="none" stroke="#00c8d0" stroke-width="3" stroke-linejoin="round" stroke-linecap="round" clip-path="url(#cei)"/>
<polyline points="1436.6,2051.6 1444.8,1870.9 1452.9,1689.4 1461.1,1516.1 1469.3,1366.0 1477.4,1228.4 1485.6,1124.0 1493.8,1061.0 1501.9,1010.9 1510.1,973.6 1518.3,949.1 1526.5,937.6 1534.6,937.2 1542.8,941.5 1551.0,949.7 1559.1,961.8 1567.3,977.8 1575.5,997.8 1583.6,1021.6 1591.8,1049.3 1600.0,1080.9 1608.1,1116.4 1616.3,1147.4 1624.5,1174.1 1632.7,1198.2 1640.8,1220.3 1649.0,1241.0 1657.2,1260.6 1665.3,1279.7 1673.5,1298.7 1681.7,1318.2 1689.8,1338.7 1698.0,1360.6" fill="none" stroke="#6e4b4b" stroke-width="3" stroke-linejoin="round" stroke-linecap="round" clip-path="url(#cei)"/>
<polyline points="1436.6,2051.6 1444.8,1870.9 1452.9,1689.4 1461.1,1516.1 1469.3,1365.9 1477.4,1228.1 1485.6,1124.0 1493.8,1061.8 1501.9,1011.9 1510.1,974.1 1518.3,948.5 1526.5,935.1 1534.6,933.2 1542.8,936.8 1551.0,944.4 1559.1,955.9 1567.3,971.4 1575.5,990.9 1583.6,1014.4 1591.8,1041.9 1600.0,1073.3 1608.1,1108.7 1616.3,1141.8 1624.5,1169.1 1632.7,1193.8 1640.8,1216.4 1649.0,1237.3 1657.2,1257.2 1665.3,1276.5 1673.5,1295.7 1681.7,1315.3 1689.8,1335.8 1698.0,1357.9" fill="none" stroke="#8c8c10" stroke-width="3" stroke-linejoin="round" stroke-linecap="round" clip-path="url(#cei)"/>
<polyline points="1436.6,2182.1 1444.8,1996.1 1452.9,1816.6 1461.1,1631.7 1469.3,1469.8 1477.4,1338.4 1485.6,1223.5 1493.8,1131.7 1501.9,1068.5 1510.1,1017.7 1518.3,978.2 1526.5,949.9 1534.6,932.9 1542.8,927.4 1551.0,929.1 1559.1,934.0 1567.3,942.1 1575.5,953.4 1583.6,968.1 1591.8,985.9 1600.0,1007.0 1608.1,1031.4 1616.3,1059.0 1624.5,1089.9 1632.7,1124.0 1640.8,1154.2 1649.0,1182.6 1657.2,1209.6 1665.3,1235.7 1673.5,1261.2 1681.7,1286.7 1689.8,1312.5 1698.0,1339.2" fill="none" stroke="#ff6400" stroke-width="3" stroke-linejoin="round" stroke-linecap="round" clip-path="url(#cei)"/>
<polyline points="1436.6,2182.1 1444.8,1996.1 1452.9,1816.8 1461.1,1632.5 1469.3,1469.8 1477.4,1335.1 1485.6,1216.7 1493.8,1124.0 1501.9,1062.0 1510.1,1011.3 1518.3,971.8 1526.5,943.6 1534.6,926.7 1542.8,921.1 1551.0,922.7 1559.1,927.7 1567.3,935.9 1575.5,947.4 1583.6,962.2 1591.8,980.4 1600.0,1001.8 1608.1,1026.5 1616.3,1054.5 1624.5,1085.8 1632.7,1120.4 1640.8,1150.8 1649.0,1179.3 1657.2,1206.5 1665.3,1232.6 1673.5,1258.2 1681.7,1283.8 1689.8,1309.7 1698.0,1336.5" fill="none" stroke="#6496d2" stroke-width="3" stroke-linejoin="round" stroke-linecap="round" clip-path="url(#cei)"/>
<polyline points="1436.6,2182.1 1444.8,1996.1 1452.9,1816.0 1461.1,1627.9 1469.3,1469.8 1477.4,1354.4 1485.6,1257.0 1493.8,1171.7 1501.9,1094.3 1510.1,1030.2 1518.3,978.4 1526.5,939.2 1534.6,912.6 1542.8,899.2 1551.0,896.8 1559.1,899.4 1567.3,905.3 1575.5,914.2 1583.6,926.1 1591.8,941.1 1600.0,959.1 1608.1,980.2 1616.3,1004.3 1624.5,1031.6 1632.7,1061.8 1640.8,1095.2 1649.0,1130.9 1657.2,1164.0 1665.3,1195.4 1673.5,1225.6 1681.7,1255.2 1689.8,1284.6 1698.0,1314.4" fill="none" stroke="#64b40a" stroke-width="3" stroke-linejoin="round" stroke-linecap="round" clip-path="url(#cei)"/>
<rect x="1436.6" y="851" width="261.40" height="273.00" fill="none" stroke="#000" stroke-width="4.6"/>
<line x1="1469.27" y1="1124.00" x2="1469.27" y2="1132.30" stroke="#000" stroke-width="4.6"/>
<line x1="1599.97" y1="1124.00" x2="1599.97" y2="1132.30" stroke="#000" stroke-width="4.6"/>
<line x1="1534.62" y1="1124.00" x2="1534.62" y2="1129.30" stroke="#000" stroke-width="4.6"/>
<line x1="1665.33" y1="1124.00" x2="1665.33" y2="1129.30" stroke="#000" stroke-width="4.6"/>
<line x1="1436.60" y1="1069.40" x2="1428.30" y2="1069.40" stroke="#000" stroke-width="4.6"/>
<line x1="1436.60" y1="996.60" x2="1428.30" y2="996.60" stroke="#000" stroke-width="4.6"/>
<line x1="1436.60" y1="923.80" x2="1428.30" y2="923.80" stroke="#000" stroke-width="4.6"/>
<line x1="1436.60" y1="851.00" x2="1428.30" y2="851.00" stroke="#000" stroke-width="4.6"/>
<line x1="1436.60" y1="1105.80" x2="1431.30" y2="1105.80" stroke="#000" stroke-width="4.6"/>
<line x1="1436.60" y1="1033.00" x2="1431.30" y2="1033.00" stroke="#000" stroke-width="4.6"/>
<line x1="1436.60" y1="960.20" x2="1431.30" y2="960.20" stroke="#000" stroke-width="4.6"/>
<line x1="1436.60" y1="887.40" x2="1431.30" y2="887.40" stroke="#000" stroke-width="4.6"/>
<text x="1445.28" y="1154.00" font-size="19.50" fill="#000" font-weight="bold" textLength="47.34" lengthAdjust="spacingAndGlyphs" >9664</text>
<text x="1575.97" y="1154.00" font-size="19.50" fill="#000" font-weight="bold" textLength="48.12" lengthAdjust="spacingAndGlyphs" >9672</text>
<text x="1380.56" y="1074.30" font-size="19.00" fill="#000" font-weight="bold" textLength="40.08" lengthAdjust="spacingAndGlyphs" >1.28</text>
<text x="1380.56" y="1001.50" font-size="19.00" fill="#000" font-weight="bold" textLength="40.30" lengthAdjust="spacingAndGlyphs" >1.32</text>
<text x="1380.56" y="928.70" font-size="19.00" fill="#000" font-weight="bold" textLength="40.19" lengthAdjust="spacingAndGlyphs" >1.36</text>
<text x="1380.56" y="855.90" font-size="19.00" fill="#000" font-weight="bold" textLength="40.30" lengthAdjust="spacingAndGlyphs" >1.40</text>
<text x="929.71" y="690.60" font-size="63.00" fill="#000" font-weight="bold" textLength="34.64" lengthAdjust="spacingAndGlyphs" >e</text>
<rect x="181.5" y="647.0" width="620.0" height="242.60000000000002" fill="#0000ff"/>
<path d="M183.2,647.0 L183.4,667.2 L183.5,687.4 L183.2,707.6 L183.2,727.9 L183.2,748.1 L183.2,768.3 L183.2,788.5 L183.3,808.7 L183.4,829.0 L183.3,849.2 L184.3,869.4 L184.3,889.6 L801.5,889.6 L801.5,869.4 L801.5,849.2 L801.5,829.0 L801.5,808.7 L801.5,788.5 L801.5,768.3 L801.5,748.1 L801.5,727.9 L801.5,707.6 L801.5,687.4 L801.5,667.2 L801.5,647.0Z" fill="#0016ff" stroke="#0016ff" stroke-width="0.6"/>
<path d="M188.0,647.0 L188.5,667.2 L189.0,687.4 L187.7,707.6 L187.9,727.9 L187.9,748.1 L187.9,768.3 L187.9,788.5 L188.1,808.7 L188.6,829.0 L188.2,849.2 L190.1,869.4 L190.1,889.6 L801.5,889.6 L801.5,869.4 L801.5,849.2 L801.5,829.0 L801.5,808.7 L801.5,788.5 L801.5,768.3 L801.5,748.1 L801.5,727.9 L801.5,707.6 L801.5,687.4 L801.5,667.2 L801.5,647.0Z" fill="#002bff" stroke="#002bff" stroke-width="0.6"/>
<path d="M192.7,647.0 L193.6,667.2 L194.5,687.4 L192.3,707.6 L192.7,727.9 L192.7,748.1 L192.7,768.3 L192.7,788.5 L193.0,808.7 L193.8,829.0 L193.2,849.2 L196.0,869.4 L196.0,889.6 L801.5,889.6 L801.5,869.4 L801.5,849.2 L801.5,829.0 L801.5,808.7 L801.5,788.5 L801.5,768.3 L801.5,748.1 L801.5,727.9 L801.5,707.6 L801.5,687.4 L801.5,667.2 L801.5,647.0Z" fill="#0041ff" stroke="#0041ff" stroke-width="0.6"/>
<path d="M197.5,647.0 L198.8,667.2 L199.9,687.4 L196.9,707.6 L197.4,727.9 L197.4,748.1 L197.4,768.3 L197.4,788.5 L197.8,808.7 L199.1,829.0 L198.1,849.2 L201.8,869.4 L201.8,889.6 L801.5,889.6 L801.5,869.4 L801.5,849.2 L801.5,829.0 L801.5,808.7 L801.5,788.5 L801.5,768.3 L801.5,748.1 L801.5,727.9 L801.5,707.6 L801.5,687.4 L801.5,667.2 L801.5,647.0Z" fill="#0057ff" stroke="#0057ff" stroke-width="0.6"/>
<path d="M202.2,647.0 L203.9,667.2 L205.4,687.4 L201.4,707.6 L202.1,727.9 L202.1,748.1 L202.1,768.3 L202.1,788.5 L202.7,808.7 L204.3,829.0 L203.1,849.2 L207.7,869.4 L207.7,889.6 L801.5,889.6 L801.5,869.4 L801.5,849.2 L801.5,829.0 L801.5,808.7 L801.5,788.5 L801.5,768.3 L801.5,748.1 L801.5,727.9 L801.5,707.6 L801.5,687.4 L801.5,667.2 L801.5,647.0Z" fill="#006dff" stroke="#006dff" stroke-width="0.6"/>
<path d="M207.0,647.0 L209.0,667.2 L210.9,687.4 L206.0,707.6 L206.8,727.9 L206.8,748.1 L206.8,768.3 L206.8,788.5 L207.5,808.7 L209.5,829.0 L208.0,849.2 L213.5,869.4 L213.5,889.6 L801.5,889.6 L801.5,869.4 L801.5,849.2 L801.5,829.0 L801.5,808.7 L801.5,788.5 L801.5,768.3 L801.5,748.1 L801.5,727.9 L801.5,707.6 L801.5,687.4 L801.5,667.2 L801.5,647.0Z" fill="#0082ff" stroke="#0082ff" stroke-width="0.6"/>
<path d="M211.1,647.0 L213.2,667.2 L215.1,687.4 L210.6,707.6 L211.3,727.9 L211.3,748.1 L211.3,768.3 L211.4,788.5 L212.1,808.7 L213.8,829.0 L212.8,849.2 L217.7,869.4 L217.8,889.6 L801.5,889.6 L801.5,869.4 L801.5,849.2 L801.5,829.0 L801.5,808.7 L801.5,788.5 L801.5,768.3 L801.5,748.1 L801.5,727.9 L801.5,707.6 L801.5,687.4 L801.5,667.2 L801.5,647.0Z" fill="#0098ff" stroke="#0098ff" stroke-width="0.6"/>
<path d="M215.3,647.0 L217.3,667.2 L219.2,687.4 L215.1,707.6 L215.8,727.9 L215.8,748.1 L215.9,768.3 L216.0,788.5 L216.7,808.7 L218.2,829.0 L217.6,849.2 L222.0,869.4 L222.1,889.6 L801.5,889.6 L801.5,869.4 L801.5,849.2 L801.5,829.0 L801.5,808.7 L801.5,788.5 L801.5,768.3 L801.5,748.1 L801.5,727.9 L801.5,707.6 L801.5,687.4 L801.5,667.2 L801.5,647.0Z" fill="#00aeff" stroke="#00aeff" stroke-width="0.6"/>
<path d="M219.4,647.0 L221.4,667.2 L223.4,687.4 L219.7,707.6 L220.4,727.9 L220.4,748.1 L220.4,768.3 L220.7,788.5 L221.2,808.7 L222.5,829.0 L222.4,849.2 L226.2,869.4 L226.4,889.6 L801.5,889.6 L801.5,869.4 L801.5,849.2 L801.5,829.0 L801.5,808.7 L801.5,788.5 L801.5,768.3 L801.5,748.1 L801.5,727.9 L801.5,707.6 L801.5,687.4 L801.5,667.2 L801.5,647.0Z" fill="#00c3ff" stroke="#00c3ff" stroke-width="0.6"/>
<path d="M223.5,647.0 L225.6,667.2 L227.6,687.4 L224.2,707.6 L224.9,727.9 L224.9,748.1 L224.9,768.3 L225.3,788.5 L225.8,808.7 L226.8,829.0 L227.3,849.2 L230.4,869.4 L230.7,889.6 L801.5,889.6 L801.5,869.4 L801.5,849.2 L801.5,829.0 L801.5,808.7 L801.5,788.5 L801.5,768.3 L801.5,748.1 L801.5,727.9 L801.5,707.6 L801.5,687.4 L801.5,667.2 L801.5,647.0Z" fill="#00d9ff" stroke="#00d9ff" stroke-width="0.6"/>
<path d="M227.7,647.0 L229.8,667.2 L231.7,687.4 L228.8,707.6 L229.4,727.9 L229.4,748.1 L229.5,768.3 L229.9,788.5 L230.4,808.7 L231.2,829.0 L232.1,849.2 L234.7,869.4 L235.0,889.6 L801.5,889.6 L801.5,869.4 L801.5,849.2 L801.5,829.0 L801.5,808.7 L801.5,788.5 L801.5,768.3 L801.5,748.1 L801.5,727.9 L801.5,707.6 L801.5,687.4 L801.5,667.2 L801.5,647.0Z" fill="#00efff" stroke="#00efff" stroke-width="0.6"/>
<path d="M231.8,647.0 L233.9,667.2 L235.9,687.4 L233.3,707.6 L233.9,727.9 L233.9,748.1 L234.0,768.3 L234.5,788.5 L235.0,808.7 L235.5,829.0 L236.9,849.2 L238.9,869.4 L239.3,889.6 L801.5,889.6 L801.5,869.4 L801.5,849.2 L801.5,829.0 L801.5,808.7 L801.5,788.5 L801.5,768.3 L801.5,748.1 L801.5,727.9 L801.5,707.6 L801.5,687.4 L801.5,667.2 L801.5,647.0Z" fill="#00fffa" stroke="#00fffa" stroke-width="0.6"/>
<path d="M235.4,647.0 L237.5,667.2 L239.5,687.4 L236.8,707.6 L237.5,727.9 L237.5,748.1 L237.6,768.3 L238.2,788.5 L238.8,808.7 L239.2,829.0 L240.5,849.2 L242.6,869.4 L243.0,889.6 L801.5,889.6 L801.5,869.4 L801.5,849.2 L801.5,829.0 L801.5,808.7 L801.5,788.5 L801.5,768.3 L801.5,748.1 L801.5,727.9 L801.5,707.6 L801.5,687.4 L801.5,667.2 L801.5,647.0Z" fill="#00ffe4" stroke="#00ffe4" stroke-width="0.6"/>
<path d="M238.9,647.0 L241.0,667.2 L243.0,687.4 L240.3,707.6 L241.1,727.9 L241.1,748.1 L241.2,768.3 L241.8,788.5 L242.6,808.7 L242.9,829.0 L244.0,849.2 L246.4,869.4 L246.6,889.6 L801.5,889.6 L801.5,869.4 L801.5,849.2 L801.5,829.0 L801.5,808.7 L801.5,788.5 L801.5,768.3 L801.5,748.1 L801.5,727.9 L801.5,707.6 L801.5,687.4 L801.5,667.2 L801.5,647.0Z" fill="#00ffce" stroke="#00ffce" stroke-width="0.6"/>
<path d="M242.5,647.0 L244.6,667.2 L246.6,687.4 L243.8,707.6 L244.8,727.9 L244.8,748.1 L244.8,768.3 L245.5,788.5 L246.4,808.7 L246.7,829.0 L247.6,849.2 L250.1,869.4 L250.3,889.6 L801.5,889.6 L801.5,869.4 L801.5,849.2 L801.5,829.0 L801.5,808.7 L801.5,788.5 L801.5,768.3 L801.5,748.1 L801.5,727.9 L801.5,707.6 L801.5,687.4 L801.5,667.2 L801.5,647.0Z" fill="#00ffb8" stroke="#00ffb8" stroke-width="0.6"/>
<path d="M246.1,647.0 L248.1,667.2 L250.1,687.4 L247.2,707.6 L248.4,727.9 L248.4,748.1 L248.4,768.3 L249.2,788.5 L250.2,808.7 L250.4,829.0 L251.2,849.2 L253.8,869.4 L254.0,889.6 L801.5,889.6 L801.5,869.4 L801.5,849.2 L801.5,829.0 L801.5,808.7 L801.5,788.5 L801.5,768.3 L801.5,748.1 L801.5,727.9 L801.5,707.6 L801.5,687.4 L801.5,667.2 L801.5,647.0Z" fill="#00ffa3" stroke="#00ffa3" stroke-width="0.6"/>
<path d="M249.6,647.0 L251.7,667.2 L253.7,687.4 L250.7,707.6 L252.0,727.9 L252.0,748.1 L252.0,768.3 L252.8,788.5 L254.0,808.7 L254.1,829.0 L254.7,849.2 L257.6,869.4 L257.6,889.6 L801.5,889.6 L801.5,869.4 L801.5,849.2 L801.5,829.0 L801.5,808.7 L801.5,788.5 L801.5,768.3 L801.5,748.1 L801.5,727.9 L801.5,707.6 L801.5,687.4 L801.5,667.2 L801.5,647.0Z" fill="#00ff8d" stroke="#00ff8d" stroke-width="0.6"/>
<path d="M253.2,647.0 L255.2,667.2 L257.2,687.4 L254.2,707.6 L255.6,727.9 L255.6,748.1 L255.6,768.3 L256.5,788.5 L257.8,808.7 L257.8,829.0 L258.3,849.2 L261.3,869.4 L261.3,889.6 L801.5,889.6 L801.5,869.4 L801.5,849.2 L801.5,829.0 L801.5,808.7 L801.5,788.5 L801.5,768.3 L801.5,748.1 L801.5,727.9 L801.5,707.6 L801.5,687.4 L801.5,667.2 L801.5,647.0Z" fill="#00ff77" stroke="#00ff77" stroke-width="0.6"/>
<path d="M256.6,647.0 L258.6,667.2 L260.7,687.4 L257.6,707.6 L259.2,727.9 L259.3,748.1 L259.3,768.3 L260.0,788.5 L261.2,808.7 L261.2,829.0 L261.8,849.2 L264.8,869.4 L264.9,889.6 L801.5,889.6 L801.5,869.4 L801.5,849.2 L801.5,829.0 L801.5,808.7 L801.5,788.5 L801.5,768.3 L801.5,748.1 L801.5,727.9 L801.5,707.6 L801.5,687.4 L801.5,667.2 L801.5,647.0Z" fill="#00ff62" stroke="#00ff62" stroke-width="0.6"/>
<path d="M260.1,647.0 L262.1,667.2 L264.1,687.4 L261.1,707.6 L262.7,727.9 L262.9,748.1 L262.9,768.3 L263.5,788.5 L264.7,808.7 L264.7,829.0 L265.3,849.2 L268.3,869.4 L268.4,889.6 L801.5,889.6 L801.5,869.4 L801.5,849.2 L801.5,829.0 L801.5,808.7 L801.5,788.5 L801.5,768.3 L801.5,748.1 L801.5,727.9 L801.5,707.6 L801.5,687.4 L801.5,667.2 L801.5,647.0Z" fill="#00ff4c" stroke="#00ff4c" stroke-width="0.6"/>
<path d="M263.5,647.0 L265.5,667.2 L267.6,687.4 L264.5,707.6 L266.3,727.9 L266.6,748.1 L266.6,768.3 L267.1,788.5 L268.1,808.7 L268.1,829.0 L268.8,849.2 L271.8,869.4 L272.0,889.6 L801.5,889.6 L801.5,869.4 L801.5,849.2 L801.5,829.0 L801.5,808.7 L801.5,788.5 L801.5,768.3 L801.5,748.1 L801.5,727.9 L801.5,707.6 L801.5,687.4 L801.5,667.2 L801.5,647.0Z" fill="#00ff36" stroke="#00ff36" stroke-width="0.6"/>
<path d="M267.0,647.0 L269.0,667.2 L271.1,687.4 L268.0,707.6 L269.9,727.9 L270.3,748.1 L270.3,768.3 L270.6,788.5 L271.6,808.7 L271.6,829.0 L272.2,849.2 L275.2,869.4 L275.5,889.6 L801.5,889.6 L801.5,869.4 L801.5,849.2 L801.5,829.0 L801.5,808.7 L801.5,788.5 L801.5,768.3 L801.5,748.1 L801.5,727.9 L801.5,707.6 L801.5,687.4 L801.5,667.2 L801.5,647.0Z" fill="#00ff21" stroke="#00ff21" stroke-width="0.6"/>
<path d="M270.4,647.0 L272.4,667.2 L274.5,687.4 L271.4,707.6 L273.4,727.9 L273.9,748.1 L273.9,768.3 L274.1,788.5 L275.1,808.7 L275.1,829.0 L275.7,849.2 L278.7,869.4 L279.1,889.6 L801.5,889.6 L801.5,869.4 L801.5,849.2 L801.5,829.0 L801.5,808.7 L801.5,788.5 L801.5,768.3 L801.5,748.1 L801.5,727.9 L801.5,707.6 L801.5,687.4 L801.5,667.2 L801.5,647.0Z" fill="#00ff0b" stroke="#00ff0b" stroke-width="0.6"/>
<path d="M273.9,647.0 L275.9,667.2 L278.0,687.4 L274.9,707.6 L277.0,727.9 L277.6,748.1 L277.6,768.3 L277.6,788.5 L278.5,808.7 L278.5,829.0 L279.2,849.2 L282.2,869.4 L282.6,889.6 L801.5,889.6 L801.5,869.4 L801.5,849.2 L801.5,829.0 L801.5,808.7 L801.5,788.5 L801.5,768.3 L801.5,748.1 L801.5,727.9 L801.5,707.6 L801.5,687.4 L801.5,667.2 L801.5,647.0Z" fill="#0bff00" stroke="#0bff00" stroke-width="0.6"/>
<path d="M277.6,647.0 L279.5,667.2 L281.5,687.4 L278.3,707.6 L280.5,727.9 L281.3,748.1 L281.3,768.3 L281.3,788.5 L282.1,808.7 L282.4,829.0 L282.6,849.2 L285.8,869.4 L286.2,889.6 L801.5,889.6 L801.5,869.4 L801.5,849.2 L801.5,829.0 L801.5,808.7 L801.5,788.5 L801.5,768.3 L801.5,748.1 L801.5,727.9 L801.5,707.6 L801.5,687.4 L801.5,667.2 L801.5,647.0Z" fill="#21ff00" stroke="#21ff00" stroke-width="0.6"/>
<path d="M281.2,647.0 L283.1,667.2 L285.0,687.4 L281.7,707.6 L284.0,727.9 L284.9,748.1 L285.0,768.3 L285.0,788.5 L285.7,808.7 L286.3,829.0 L286.1,849.2 L289.5,869.4 L289.9,889.6 L801.5,889.6 L801.5,869.4 L801.5,849.2 L801.5,829.0 L801.5,808.7 L801.5,788.5 L801.5,768.3 L801.5,748.1 L801.5,727.9 L801.5,707.6 L801.5,687.4 L801.5,667.2 L801.5,647.0Z" fill="#36ff00" stroke="#36ff00" stroke-width="0.6"/>
<path d="M284.9,647.0 L286.7,667.2 L288.4,687.4 L285.1,707.6 L287.4,727.9 L288.6,748.1 L288.8,768.3 L288.8,788.5 L289.2,808.7 L290.2,829.0 L289.5,849.2 L293.1,869.4 L293.5,889.6 L801.5,889.6 L801.5,869.4 L801.5,849.2 L801.5,829.0 L801.5,808.7 L801.5,788.5 L801.5,768.3 L801.5,748.1 L801.5,727.9 L801.5,707.6 L801.5,687.4 L801.5,667.2 L801.5,647.0Z" fill="#4cff00" stroke="#4cff00" stroke-width="0.6"/>
<path d="M288.6,647.0 L290.3,667.2 L291.9,687.4 L288.6,707.6 L290.9,727.9 L292.2,748.1 L292.5,768.3 L292.5,788.5 L292.8,808.7 L294.2,829.0 L293.0,849.2 L296.7,869.4 L297.1,889.6 L801.5,889.6 L801.5,869.4 L801.5,849.2 L801.5,829.0 L801.5,808.7 L801.5,788.5 L801.5,768.3 L801.5,748.1 L801.5,727.9 L801.5,707.6 L801.5,687.4 L801.5,667.2 L801.5,647.0Z" fill="#62ff00" stroke="#62ff00" stroke-width="0.6"/>
<path d="M292.2,647.0 L293.9,667.2 L295.4,687.4 L292.0,707.6 L294.4,727.9 L295.9,748.1 L296.2,768.3 L296.2,788.5 L296.4,808.7 L298.1,829.0 L296.4,849.2 L300.4,869.4 L300.8,889.6 L801.5,889.6 L801.5,869.4 L801.5,849.2 L801.5,829.0 L801.5,808.7 L801.5,788.5 L801.5,768.3 L801.5,748.1 L801.5,727.9 L801.5,707.6 L801.5,687.4 L801.5,667.2 L801.5,647.0Z" fill="#77ff00" stroke="#77ff00" stroke-width="0.6"/>
<path d="M295.9,647.0 L297.5,667.2 L298.9,687.4 L295.4,707.6 L297.9,727.9 L299.5,748.1 L299.9,768.3 L299.9,788.5 L300.0,808.7 L302.0,829.0 L299.9,849.2 L304.0,869.4 L304.4,889.6 L798.7,889.6 L798.7,869.4 L801.5,849.2 L801.5,829.0 L801.5,808.7 L801.5,788.5 L801.5,768.3 L801.5,748.1 L801.5,727.9 L801.5,707.6 L801.5,687.4 L801.5,667.2 L801.5,647.0Z" fill="#8dff00" stroke="#8dff00" stroke-width="0.6"/>
<path d="M299.6,647.0 L301.3,667.2 L303.0,687.4 L299.4,707.6 L302.0,727.9 L303.6,748.1 L304.0,768.3 L304.0,788.5 L304.1,808.7 L305.8,829.0 L304.2,849.2 L308.6,869.4 L308.9,889.6 L685.0,889.6 L685.0,869.4 L801.1,849.2 L775.5,829.0 L754.1,808.7 L726.1,788.5 L698.0,768.3 L670.0,748.1 L704.7,727.9 L739.3,707.6 L801.5,687.4 L801.5,667.2 L801.5,647.0Z" fill="#a3ff00" stroke="#a3ff00" stroke-width="0.6"/>
<path d="M303.2,647.0 L305.2,667.2 L307.0,687.4 L303.3,707.6 L306.0,727.9 L307.8,748.1 L308.0,768.3 L308.0,788.5 L308.1,808.7 L309.7,829.0 L308.6,849.2 L313.1,869.4 L313.4,889.6 L609.2,889.6 L610.1,869.4 L647.8,849.2 L658.7,829.0 L636.6,808.7 L630.7,788.5 L624.8,768.3 L618.9,748.1 L620.5,727.9 L622.1,707.6 L775.7,687.4 L801.5,667.2 L801.5,647.0Z" fill="#b8ff00" stroke="#b8ff00" stroke-width="0.6"/>
<path d="M306.9,647.0 L309.0,667.2 L311.1,687.4 L307.3,707.6 L310.1,727.9 L311.9,748.1 L312.1,768.3 L312.1,788.5 L312.1,808.7 L313.5,829.0 L312.9,849.2 L317.7,869.4 L317.9,889.6 L560.1,889.6 L561.8,869.4 L604.2,849.2 L602.8,829.0 L594.5,808.7 L591.2,788.5 L587.9,768.3 L584.7,748.1 L587.1,727.9 L589.6,707.6 L672.1,687.4 L700.6,667.2 L759.9,647.0Z" fill="#ceff00" stroke="#ceff00" stroke-width="0.6"/>
<path d="M310.5,647.0 L312.8,667.2 L315.2,687.4 L311.3,707.6 L314.2,727.9 L316.0,748.1 L316.2,768.3 L316.2,788.5 L316.2,808.7 L317.3,829.0 L317.2,849.2 L322.3,869.4 L322.4,889.6 L532.3,889.6 L533.1,869.4 L571.3,849.2 L570.5,829.0 L556.7,808.7 L555.7,788.5 L554.7,768.3 L553.7,748.1 L557.2,727.9 L560.6,707.6 L614.2,687.4 L625.1,667.2 L644.0,647.0Z" fill="#e4ff00" stroke="#e4ff00" stroke-width="0.6"/>
<path d="M314.2,647.0 L316.7,667.2 L319.2,687.4 L315.2,707.6 L318.2,727.9 L320.2,748.1 L320.2,768.3 L320.2,788.5 L320.3,808.7 L321.2,829.0 L321.6,849.2 L326.8,869.4 L326.9,889.6 L513.9,889.6 L514.8,869.4 L540.5,849.2 L537.9,829.0 L533.4,808.7 L531.9,788.5 L530.4,768.3 L529.0,748.1 L534.2,727.9 L539.5,707.6 L578.9,687.4 L590.9,667.2 L602.9,647.0Z" fill="#faff00" stroke="#faff00" stroke-width="0.6"/>
<path d="M317.8,647.0 L320.5,667.2 L323.3,687.4 L319.2,707.6 L322.3,727.9 L324.3,748.1 L324.3,768.3 L324.3,788.5 L324.3,808.7 L325.0,829.0 L325.9,849.2 L331.4,869.4 L331.4,889.6 L498.8,889.6 L498.8,869.4 L518.6,849.2 L516.8,829.0 L515.0,808.7 L516.8,788.5 L506.0,768.3 L509.6,748.1 L513.2,727.9 L520.4,707.6 L547.0,687.4 L555.0,667.2 L571.9,647.0Z" fill="#ffef00" stroke="#ffef00" stroke-width="0.6"/>
<path d="M322.2,647.0 L325.7,667.2 L329.1,687.4 L325.6,707.6 L328.5,727.9 L330.4,748.1 L330.3,768.3 L330.1,788.5 L330.7,808.7 L331.7,829.0 L332.8,849.2 L340.9,869.4 L340.9,889.6 L481.1,889.6 L481.1,869.4 L503.7,849.2 L501.6,829.0 L499.6,808.7 L501.6,788.5 L492.3,768.3 L495.8,748.1 L498.9,727.9 L505.1,707.6 L530.4,687.4 L538.2,667.2 L553.3,647.0Z" fill="#ffd900" stroke="#ffd900" stroke-width="0.6"/>
<path d="M326.6,647.0 L330.9,667.2 L334.8,687.4 L332.1,707.6 L334.7,727.9 L336.5,748.1 L336.4,768.3 L336.0,788.5 L337.2,808.7 L338.3,829.0 L339.6,849.2 L350.4,869.4 L350.4,889.6 L463.3,889.6 L463.3,869.4 L488.7,849.2 L486.5,829.0 L484.3,808.7 L486.5,788.5 L478.6,768.3 L482.1,748.1 L484.7,727.9 L489.7,707.6 L513.8,687.4 L521.5,667.2 L534.6,647.0Z" fill="#ffc300" stroke="#ffc300" stroke-width="0.6"/>
<path d="M331.0,647.0 L336.1,667.2 L340.6,687.4 L338.5,707.6 L340.9,727.9 L342.6,748.1 L342.4,768.3 L341.8,788.5 L343.6,808.7 L345.0,829.0 L346.5,849.2 L359.9,869.4 L359.9,889.6 L445.6,889.6 L445.6,869.4 L473.8,849.2 L471.3,829.0 L468.9,808.7 L471.3,788.5 L464.9,768.3 L468.3,748.1 L470.4,727.9 L474.4,707.6 L497.1,687.4 L504.7,667.2 L516.0,647.0Z" fill="#ffae00" stroke="#ffae00" stroke-width="0.6"/>
<path d="M335.4,647.0 L341.3,667.2 L346.3,687.4 L344.9,707.6 L347.1,727.9 L348.7,748.1 L348.4,768.3 L347.6,788.5 L350.0,808.7 L351.7,829.0 L353.3,849.2 L369.3,869.4 L369.3,889.6 L427.9,889.6 L427.9,869.4 L458.9,849.2 L456.2,829.0 L453.6,808.7 L456.2,788.5 L451.3,768.3 L454.5,748.1 L456.1,727.9 L459.1,707.6 L480.5,687.4 L487.9,667.2 L497.4,647.0Z" fill="#ff9800" stroke="#ff9800" stroke-width="0.6"/>
<path d="M339.8,647.0 L346.5,667.2 L352.1,687.4 L351.4,707.6 L353.3,727.9 L354.8,748.1 L354.5,768.3 L353.5,788.5 L356.5,808.7 L358.3,829.0 L360.1,849.2 L378.8,869.4 L378.8,889.6 L410.1,889.6 L410.1,869.4 L443.9,849.2 L441.1,829.0 L438.3,808.7 L441.1,788.5 L437.6,768.3 L440.8,748.1 L441.9,727.9 L443.7,707.6 L463.9,687.4 L471.2,667.2 L478.7,647.0Z" fill="#ff8200" stroke="#ff8200" stroke-width="0.6"/>
<path d="M344.2,647.0 L351.7,667.2 L357.8,687.4 L357.8,707.6 L359.5,727.9 L360.9,748.1 L360.5,768.3 L359.3,788.5 L362.9,808.7 L365.0,829.0 L367.0,849.2 L388.3,869.4 L388.3,889.6 L392.4,889.6 L392.4,869.4 L429.0,849.2 L425.9,829.0 L422.9,808.7 L425.9,788.5 L423.9,768.3 L427.0,748.1 L427.6,727.9 L428.4,707.6 L447.3,687.4 L454.4,667.2 L460.1,647.0Z" fill="#ff6d00" stroke="#ff6d00" stroke-width="0.6"/>
<path d="M352.7,647.0 L361.6,667.2 L368.4,687.4 L368.7,707.6 L370.1,727.9 L371.0,748.1 L370.8,768.3 L370.0,788.5 L372.3,808.7 L373.7,829.0 L375.3,849.2 L390.4,859.0 L415.4,849.2 L413.7,829.0 L411.7,808.7 L413.7,788.5 L412.4,768.3 L414.4,748.1 L414.8,727.9 L415.7,707.6 L428.8,687.4 L438.0,667.2 L447.3,647.0Z" fill="#ff5700" stroke="#ff5700" stroke-width="0.6"/>
<path d="M361.2,647.0 L371.6,667.2 L390.4,687.1 L421.5,667.2 L434.5,647.0Z" fill="#ff4100" stroke="#ff4100" stroke-width="0.6"/>
<path d="M369.9,647.0 L390.4,657.5 L421.3,647.0Z" fill="#ff2b00" stroke="#ff2b00" stroke-width="0.6"/>
<polyline points="207.0,647.0 209.0,667.2 210.9,687.4 206.0,707.6 206.8,727.9 206.8,748.1 206.8,768.3 206.8,788.5 207.5,808.7 209.5,829.0 208.0,849.2 213.5,869.4 213.5,889.6" fill="none" stroke="#474747" stroke-width="1.25" stroke-linejoin="round"/>
<polyline points="231.8,647.0 233.9,667.2 235.9,687.4 233.3,707.6 233.9,727.9 233.9,748.1 234.0,768.3 234.5,788.5 235.0,808.7 235.5,829.0 236.9,849.2 238.9,869.4 239.3,889.6" fill="none" stroke="#474747" stroke-width="1.25" stroke-linejoin="round"/>
<polyline points="253.2,647.0 255.2,667.2 257.2,687.4 254.2,707.6 255.6,727.9 255.6,748.1 255.6,768.3 256.5,788.5 257.8,808.7 257.8,829.0 258.3,849.2 261.3,869.4 261.3,889.6" fill="none" stroke="#474747" stroke-width="1.25" stroke-linejoin="round"/>
<polyline points="273.9,647.0 275.9,667.2 278.0,687.4 274.9,707.6 277.0,727.9 277.6,748.1 277.6,768.3 277.6,788.5 278.5,808.7 278.5,829.0 279.2,849.2 282.2,869.4 282.6,889.6" fill="none" stroke="#474747" stroke-width="1.25" stroke-linejoin="round"/>
<polyline points="295.9,647.0 297.5,667.2 298.9,687.4 295.4,707.6 297.9,727.9 299.5,748.1 299.9,768.3 299.9,788.5 300.0,808.7 302.0,829.0 299.9,849.2 304.0,869.4 304.4,889.6" fill="none" stroke="#474747" stroke-width="1.25" stroke-linejoin="round"/>
<polyline points="798.7,889.6 798.7,869.4" fill="none" stroke="#474747" stroke-width="1.25" stroke-linejoin="round"/>
<polyline points="317.8,647.0 320.5,667.2 323.3,687.4 319.2,707.6 322.3,727.9 324.3,748.1 324.3,768.3 324.3,788.5 324.3,808.7 325.0,829.0 325.9,849.2 331.4,869.4 331.4,889.6" fill="none" stroke="#474747" stroke-width="1.25" stroke-linejoin="round"/>
<polyline points="498.8,889.6 498.8,869.4 518.6,849.2 516.8,829.0 515.0,808.7 516.8,788.5 506.0,768.3 509.6,748.1 513.2,727.9 520.4,707.6 547.0,687.4 555.0,667.2 571.9,647.0" fill="none" stroke="#474747" stroke-width="1.25" stroke-linejoin="round"/>
<polyline points="344.2,647.0 351.7,667.2 357.8,687.4 357.8,707.6 359.5,727.9 360.9,748.1 360.5,768.3 359.3,788.5 362.9,808.7 365.0,829.0 367.0,849.2 388.3,869.4 388.3,889.6" fill="none" stroke="#474747" stroke-width="1.25" stroke-linejoin="round"/>
<polyline points="392.4,889.6 392.4,869.4 429.0,849.2 425.9,829.0 422.9,808.7 425.9,788.5 423.9,768.3 427.0,748.1 427.6,727.9 428.4,707.6 447.3,687.4 454.4,667.2 460.1,647.0" fill="none" stroke="#474747" stroke-width="1.25" stroke-linejoin="round"/>
<rect x="182.0" y="937.0" width="619.5" height="248.4000000000001" fill="#0000ff"/>
<path d="M237.0,937.0 L237.5,957.7 L238.0,978.4 L239.0,999.1 L240.0,1019.8 L240.5,1040.5 L239.0,1061.2 L239.5,1081.9 L241.0,1102.6 L242.0,1123.3 L243.0,1144.0 L244.0,1164.7 L244.8,1185.4 L801.5,1185.4 L801.5,1164.7 L801.5,1144.0 L801.5,1123.3 L801.5,1102.6 L801.5,1081.9 L801.5,1061.2 L801.5,1040.5 L801.5,1019.8 L801.5,999.1 L801.5,978.4 L801.5,957.7 L801.5,937.0Z" fill="#0016ff" stroke="#0016ff" stroke-width="0.6"/>
<path d="M239.2,937.0 L239.7,957.7 L240.3,978.4 L241.3,999.1 L242.3,1019.8 L242.6,1040.5 L241.2,1061.2 L241.7,1081.9 L243.2,1102.6 L244.2,1123.3 L245.2,1144.0 L246.2,1164.7 L247.0,1185.4 L801.5,1185.4 L801.5,1164.7 L801.5,1144.0 L801.5,1123.3 L801.5,1102.6 L801.5,1081.9 L801.5,1061.2 L801.5,1040.5 L801.5,1019.8 L801.5,999.1 L801.5,978.4 L801.5,957.7 L801.5,937.0Z" fill="#002bff" stroke="#002bff" stroke-width="0.6"/>
<path d="M241.4,937.0 L241.9,957.7 L242.6,978.4 L243.6,999.1 L244.6,1019.8 L244.7,1040.5 L243.4,1061.2 L243.9,1081.9 L245.4,1102.6 L246.4,1123.3 L247.4,1144.0 L248.4,1164.7 L249.1,1185.4 L801.5,1185.4 L801.5,1164.7 L801.5,1144.0 L801.5,1123.3 L801.5,1102.6 L801.5,1081.9 L801.5,1061.2 L801.5,1040.5 L801.5,1019.8 L801.5,999.1 L801.5,978.4 L801.5,957.7 L801.5,937.0Z" fill="#0041ff" stroke="#0041ff" stroke-width="0.6"/>
<path d="M243.5,937.0 L244.1,957.7 L244.9,978.4 L245.9,999.1 L246.8,1019.8 L246.8,1040.5 L245.5,1061.2 L246.1,1081.9 L247.6,1102.6 L248.6,1123.3 L249.6,1144.0 L250.6,1164.7 L251.3,1185.4 L801.5,1185.4 L801.5,1164.7 L801.5,1144.0 L801.5,1123.3 L801.5,1102.6 L801.5,1081.9 L801.5,1061.2 L801.5,1040.5 L801.5,1019.8 L801.5,999.1 L801.5,978.4 L801.5,957.7 L801.5,937.0Z" fill="#0057ff" stroke="#0057ff" stroke-width="0.6"/>
<path d="M245.7,937.0 L246.3,957.7 L247.2,978.4 L248.2,999.1 L249.1,1019.8 L248.9,1040.5 L247.7,1061.2 L248.3,1081.9 L249.8,1102.6 L250.8,1123.3 L251.8,1144.0 L252.8,1164.7 L253.4,1185.4 L801.5,1185.4 L801.5,1164.7 L801.5,1144.0 L801.5,1123.3 L801.5,1102.6 L801.5,1081.9 L801.5,1061.2 L801.5,1040.5 L801.5,1019.8 L801.5,999.1 L801.5,978.4 L801.5,957.7 L801.5,937.0Z" fill="#006dff" stroke="#006dff" stroke-width="0.6"/>
<path d="M247.9,937.0 L248.5,957.7 L249.5,978.4 L250.5,999.1 L251.4,1019.8 L251.0,1040.5 L249.9,1061.2 L250.5,1081.9 L252.0,1102.6 L253.0,1123.3 L254.0,1144.0 L255.0,1164.7 L255.6,1185.4 L801.5,1185.4 L801.5,1164.7 L801.5,1144.0 L801.5,1123.3 L801.5,1102.6 L801.5,1081.9 L801.5,1061.2 L801.5,1040.5 L801.5,1019.8 L801.5,999.1 L801.5,978.4 L801.5,957.7 L801.5,937.0Z" fill="#0082ff" stroke="#0082ff" stroke-width="0.6"/>
<path d="M249.7,937.0 L250.4,957.7 L251.4,978.4 L252.5,999.1 L253.4,1019.8 L252.9,1040.5 L251.8,1061.2 L252.5,1081.9 L254.0,1102.6 L255.1,1123.3 L256.1,1144.0 L257.1,1164.7 L257.7,1185.4 L801.5,1185.4 L801.5,1164.7 L801.5,1144.0 L801.5,1123.3 L801.5,1102.6 L801.5,1081.9 L801.5,1061.2 L801.5,1040.5 L801.5,1019.8 L801.5,999.1 L801.5,978.4 L801.5,957.7 L801.5,937.0Z" fill="#0098ff" stroke="#0098ff" stroke-width="0.6"/>
<path d="M251.6,937.0 L252.3,957.7 L253.3,978.4 L254.5,999.1 L255.4,1019.8 L254.8,1040.5 L253.7,1061.2 L254.5,1081.9 L256.0,1102.6 L257.2,1123.3 L258.2,1144.0 L259.2,1164.7 L259.8,1185.4 L801.5,1185.4 L801.5,1164.7 L801.5,1144.0 L801.5,1123.3 L801.5,1102.6 L801.5,1081.9 L801.5,1061.2 L801.5,1040.5 L801.5,1019.8 L801.5,999.1 L801.5,978.4 L801.5,957.7 L801.5,937.0Z" fill="#00aeff" stroke="#00aeff" stroke-width="0.6"/>
<path d="M253.4,937.0 L254.2,957.7 L255.2,978.4 L256.5,999.1 L257.4,1019.8 L256.8,1040.5 L255.6,1061.2 L256.5,1081.9 L258.0,1102.6 L259.2,1123.3 L260.2,1144.0 L261.2,1164.7 L261.9,1185.4 L801.5,1185.4 L801.5,1164.7 L801.5,1144.0 L801.5,1123.3 L801.5,1102.6 L801.5,1081.9 L801.5,1061.2 L801.5,1040.5 L801.5,1019.8 L801.5,999.1 L801.5,978.4 L801.5,957.7 L801.5,937.0Z" fill="#00c3ff" stroke="#00c3ff" stroke-width="0.6"/>
<path d="M255.2,937.0 L256.0,957.7 L257.2,978.4 L258.5,999.1 L259.4,1019.8 L258.7,1040.5 L257.6,1061.2 L258.5,1081.9 L260.0,1102.6 L261.3,1123.3 L262.3,1144.0 L263.3,1164.7 L264.1,1185.4 L801.5,1185.4 L801.5,1164.7 L801.5,1144.0 L801.5,1123.3 L801.5,1102.6 L801.5,1081.9 L801.5,1061.2 L801.5,1040.5 L801.5,1019.8 L801.5,999.1 L801.5,978.4 L801.5,957.7 L801.5,937.0Z" fill="#00d9ff" stroke="#00d9ff" stroke-width="0.6"/>
<path d="M257.1,937.0 L257.9,957.7 L259.1,978.4 L260.5,999.1 L261.4,1019.8 L260.6,1040.5 L259.5,1061.2 L260.5,1081.9 L262.0,1102.6 L263.4,1123.3 L264.4,1144.0 L265.4,1164.7 L266.2,1185.4 L801.5,1185.4 L801.5,1164.7 L801.5,1144.0 L801.5,1123.3 L801.5,1102.6 L801.5,1081.9 L801.5,1061.2 L801.5,1040.5 L801.5,1019.8 L801.5,999.1 L801.5,978.4 L801.5,957.7 L801.5,937.0Z" fill="#00efff" stroke="#00efff" stroke-width="0.6"/>
<path d="M258.9,937.0 L259.8,957.7 L261.0,978.4 L262.5,999.1 L263.4,1019.8 L262.5,1040.5 L261.4,1061.2 L262.5,1081.9 L264.0,1102.6 L265.5,1123.3 L266.5,1144.0 L267.5,1164.7 L268.3,1185.4 L801.5,1185.4 L801.5,1164.7 L801.5,1144.0 L801.5,1123.3 L801.5,1102.6 L801.5,1081.9 L801.5,1061.2 L801.5,1040.5 L801.5,1019.8 L801.5,999.1 L801.5,978.4 L801.5,957.7 L801.5,937.0Z" fill="#00fffa" stroke="#00fffa" stroke-width="0.6"/>
<path d="M261.0,937.0 L261.9,957.7 L263.2,978.4 L264.7,999.1 L265.6,1019.8 L264.7,1040.5 L263.6,1061.2 L264.8,1081.9 L266.3,1102.6 L267.8,1123.3 L268.9,1144.0 L269.9,1164.7 L270.7,1185.4 L801.5,1185.4 L801.5,1164.7 L801.5,1144.0 L801.5,1123.3 L801.5,1102.6 L801.5,1081.9 L801.5,1061.2 L801.5,1040.5 L801.5,1019.8 L801.5,999.1 L801.5,978.4 L801.5,957.7 L801.5,937.0Z" fill="#00ffe4" stroke="#00ffe4" stroke-width="0.6"/>
<path d="M263.0,937.0 L264.0,957.7 L265.3,978.4 L266.8,999.1 L267.9,1019.8 L266.8,1040.5 L265.7,1061.2 L267.0,1081.9 L268.7,1102.6 L270.2,1123.3 L271.3,1144.0 L272.3,1164.7 L273.1,1185.4 L801.5,1185.4 L801.5,1164.7 L801.5,1144.0 L801.5,1123.3 L801.5,1102.6 L801.5,1081.9 L801.5,1061.2 L801.5,1040.5 L801.5,1019.8 L801.5,999.1 L801.5,978.4 L801.5,957.7 L801.5,937.0Z" fill="#00ffce" stroke="#00ffce" stroke-width="0.6"/>
<path d="M265.1,937.0 L266.1,957.7 L267.5,978.4 L269.0,999.1 L270.1,1019.8 L269.0,1040.5 L267.9,1061.2 L269.2,1081.9 L271.0,1102.6 L272.5,1123.3 L273.8,1144.0 L274.8,1164.7 L275.5,1185.4 L801.5,1185.4 L801.5,1164.7 L801.5,1144.0 L801.5,1123.3 L801.5,1102.6 L801.5,1081.9 L801.5,1061.2 L801.5,1040.5 L801.5,1019.8 L801.5,999.1 L801.5,978.4 L801.5,957.7 L801.5,937.0Z" fill="#00ffb8" stroke="#00ffb8" stroke-width="0.6"/>
<path d="M267.2,937.0 L268.3,957.7 L269.7,978.4 L271.2,999.1 L272.3,1019.8 L271.2,1040.5 L270.0,1061.2 L271.5,1081.9 L273.3,1102.6 L274.8,1123.3 L276.2,1144.0 L277.2,1164.7 L277.9,1185.4 L789.1,1185.4 L792.0,1164.7 L795.5,1144.0 L799.0,1123.3 L801.5,1102.6 L801.5,1081.9 L801.5,1061.2 L801.5,1040.5 L801.5,1019.8 L801.5,999.1 L801.5,978.4 L801.5,957.7 L801.5,937.0Z" fill="#00ffa3" stroke="#00ffa3" stroke-width="0.6"/>
<path d="M269.2,937.0 L270.4,957.7 L271.8,978.4 L273.3,999.1 L274.6,1019.8 L273.3,1040.5 L272.2,1061.2 L273.8,1081.9 L275.7,1102.6 L277.2,1123.3 L278.6,1144.0 L279.6,1164.7 L280.3,1185.4 L776.4,1185.4 L778.5,1164.7 L781.7,1144.0 L784.9,1123.3 L788.9,1102.6 L797.0,1081.9 L799.9,1061.2 L801.5,1040.5 L801.5,1019.8 L801.5,999.1 L801.5,978.4 L801.5,957.7 L801.5,937.0Z" fill="#00ff8d" stroke="#00ff8d" stroke-width="0.6"/>
<path d="M271.3,937.0 L272.5,957.7 L274.0,978.4 L275.5,999.1 L276.8,1019.8 L275.5,1040.5 L274.3,1061.2 L276.0,1081.9 L278.0,1102.6 L279.5,1123.3 L281.0,1144.0 L282.0,1164.7 L282.7,1185.4 L763.6,1185.4 L765.0,1164.7 L768.0,1144.0 L770.8,1123.3 L775.0,1102.6 L785.2,1081.9 L787.0,1061.2 L788.8,1040.5 L797.8,1019.8 L795.0,999.1 L790.6,978.4 L801.4,957.7 L801.5,937.0Z" fill="#00ff77" stroke="#00ff77" stroke-width="0.6"/>
<path d="M273.6,937.0 L274.8,957.7 L276.2,978.4 L277.8,999.1 L279.1,1019.8 L278.0,1040.5 L276.9,1061.2 L278.6,1081.9 L280.5,1102.6 L282.0,1123.3 L283.4,1144.0 L284.4,1164.7 L285.1,1185.4 L754.6,1185.4 L756.0,1164.7 L759.0,1144.0 L761.8,1123.3 L766.2,1102.6 L775.2,1081.9 L777.2,1061.2 L779.2,1040.5 L787.5,1019.8 L786.2,999.1 L781.9,978.4 L792.3,957.7 L801.4,937.0Z" fill="#00ff62" stroke="#00ff62" stroke-width="0.6"/>
<path d="M275.8,937.0 L277.0,957.7 L278.5,978.4 L280.1,999.1 L281.5,1019.8 L280.4,1040.5 L279.5,1061.2 L281.2,1081.9 L283.0,1102.6 L284.5,1123.3 L285.8,1144.0 L286.8,1164.7 L287.5,1185.4 L745.6,1185.4 L747.0,1164.7 L750.0,1144.0 L752.8,1123.3 L757.3,1102.6 L765.1,1081.9 L767.3,1061.2 L769.6,1040.5 L777.2,1019.8 L777.3,999.1 L773.2,978.4 L783.3,957.7 L792.4,937.0Z" fill="#00ff4c" stroke="#00ff4c" stroke-width="0.6"/>
<path d="M278.1,937.0 L279.2,957.7 L280.8,978.4 L282.4,999.1 L283.8,1019.8 L282.9,1040.5 L282.1,1061.2 L283.8,1081.9 L285.5,1102.6 L287.0,1123.3 L288.2,1144.0 L289.2,1164.7 L289.9,1185.4 L736.5,1185.4 L738.0,1164.7 L741.0,1144.0 L743.8,1123.3 L748.5,1102.6 L755.1,1081.9 L757.5,1061.2 L760.0,1040.5 L766.9,1019.8 L768.5,999.1 L764.5,978.4 L774.2,957.7 L783.4,937.0Z" fill="#00ff36" stroke="#00ff36" stroke-width="0.6"/>
<path d="M280.3,937.0 L281.5,957.7 L283.0,978.4 L284.6,999.1 L286.1,1019.8 L285.4,1040.5 L284.6,1061.2 L286.3,1081.9 L288.0,1102.6 L289.5,1123.3 L290.7,1144.0 L291.7,1164.7 L292.3,1185.4 L727.5,1185.4 L729.0,1164.7 L732.0,1144.0 L734.7,1123.3 L739.7,1102.6 L745.1,1081.9 L747.7,1061.2 L750.4,1040.5 L756.6,1019.8 L759.7,999.1 L755.8,978.4 L765.1,957.7 L774.4,937.0Z" fill="#00ff21" stroke="#00ff21" stroke-width="0.6"/>
<path d="M282.6,937.0 L283.8,957.7 L285.2,978.4 L286.9,999.1 L288.5,1019.8 L287.8,1040.5 L287.2,1061.2 L288.9,1081.9 L290.5,1102.6 L292.0,1123.3 L293.1,1144.0 L294.1,1164.7 L294.7,1185.4 L718.5,1185.4 L720.0,1164.7 L723.0,1144.0 L725.7,1123.3 L730.8,1102.6 L735.0,1081.9 L737.8,1061.2 L740.8,1040.5 L746.3,1019.8 L750.8,999.1 L747.1,978.4 L756.1,957.7 L765.4,937.0Z" fill="#00ff0b" stroke="#00ff0b" stroke-width="0.6"/>
<path d="M284.8,937.0 L286.0,957.7 L287.5,978.4 L289.2,999.1 L290.8,1019.8 L290.3,1040.5 L289.8,1061.2 L291.5,1081.9 L293.0,1102.6 L294.5,1123.3 L295.5,1144.0 L296.5,1164.7 L297.1,1185.4 L709.5,1185.4 L711.0,1164.7 L714.0,1144.0 L716.7,1123.3 L722.0,1102.6 L725.0,1081.9 L728.0,1061.2 L731.2,1040.5 L736.0,1019.8 L742.0,999.1 L738.4,978.4 L747.0,957.7 L756.4,937.0Z" fill="#0bff00" stroke="#0bff00" stroke-width="0.6"/>
<path d="M287.5,937.0 L288.8,957.7 L290.4,978.4 L292.2,999.1 L293.8,1019.8 L293.4,1040.5 L293.0,1061.2 L294.8,1081.9 L296.3,1102.6 L297.9,1123.3 L299.0,1144.0 L300.1,1164.7 L300.7,1185.4 L697.5,1185.4 L699.0,1164.7 L702.0,1144.0 L705.0,1123.3 L711.7,1102.6 L715.0,1081.9 L718.1,1061.2 L721.1,1040.5 L725.5,1019.8 L732.4,999.1 L728.8,978.4 L737.8,957.7 L747.7,937.0Z" fill="#21ff00" stroke="#21ff00" stroke-width="0.6"/>
<path d="M290.3,937.0 L291.7,957.7 L293.3,978.4 L295.1,999.1 L296.8,1019.8 L296.5,1040.5 L296.3,1061.2 L298.0,1081.9 L299.7,1102.6 L301.3,1123.3 L302.5,1144.0 L303.6,1164.7 L304.3,1185.4 L685.5,1185.4 L687.0,1164.7 L690.0,1144.0 L693.3,1123.3 L701.3,1102.6 L705.0,1081.9 L708.2,1061.2 L711.0,1040.5 L715.0,1019.8 L722.8,999.1 L719.2,978.4 L728.7,957.7 L739.0,937.0Z" fill="#36ff00" stroke="#36ff00" stroke-width="0.6"/>
<path d="M293.0,937.0 L294.5,957.7 L296.2,978.4 L298.1,999.1 L299.8,1019.8 L299.6,1040.5 L299.5,1061.2 L301.2,1081.9 L303.0,1102.6 L304.8,1123.3 L306.0,1144.0 L307.1,1164.7 L307.9,1185.4 L673.5,1185.4 L675.0,1164.7 L678.0,1144.0 L681.6,1123.3 L691.0,1102.6 L695.0,1081.9 L698.2,1061.2 L700.9,1040.5 L704.5,1019.8 L713.1,999.1 L709.5,978.4 L719.5,957.7 L730.2,937.0Z" fill="#4cff00" stroke="#4cff00" stroke-width="0.6"/>
<path d="M295.7,937.0 L297.3,957.7 L299.2,978.4 L301.1,999.1 L302.7,1019.8 L302.8,1040.5 L302.7,1061.2 L304.5,1081.9 L306.3,1102.6 L308.2,1123.3 L309.5,1144.0 L310.7,1164.7 L311.5,1185.4 L661.5,1185.4 L663.0,1164.7 L666.0,1144.0 L669.9,1123.3 L680.7,1102.6 L685.0,1081.9 L688.3,1061.2 L690.7,1040.5 L694.0,1019.8 L703.5,999.1 L699.9,978.4 L710.3,957.7 L721.5,937.0Z" fill="#62ff00" stroke="#62ff00" stroke-width="0.6"/>
<path d="M298.5,937.0 L300.2,957.7 L302.1,978.4 L304.0,999.1 L305.7,1019.8 L305.9,1040.5 L306.0,1061.2 L307.8,1081.9 L309.7,1102.6 L311.6,1123.3 L313.0,1144.0 L314.3,1164.7 L315.1,1185.4 L649.5,1185.4 L651.0,1164.7 L654.0,1144.0 L658.2,1123.3 L670.3,1102.6 L675.0,1081.9 L678.4,1061.2 L680.6,1040.5 L683.5,1019.8 L693.9,999.1 L690.3,978.4 L701.2,957.7 L712.8,937.0Z" fill="#77ff00" stroke="#77ff00" stroke-width="0.6"/>
<path d="M301.2,937.0 L303.0,957.7 L305.0,978.4 L307.0,999.1 L308.7,1019.8 L309.0,1040.5 L309.2,1061.2 L311.0,1081.9 L313.0,1102.6 L315.0,1123.3 L316.5,1144.0 L317.8,1164.7 L318.7,1185.4 L637.5,1185.4 L639.0,1164.7 L642.0,1144.0 L646.5,1123.3 L660.0,1102.6 L665.0,1081.9 L668.5,1061.2 L670.5,1040.5 L673.0,1019.8 L684.3,999.1 L680.7,978.4 L692.0,957.7 L704.1,937.0Z" fill="#8dff00" stroke="#8dff00" stroke-width="0.6"/>
<path d="M304.5,937.0 L306.3,957.7 L308.4,978.4 L310.4,999.1 L312.2,1019.8 L312.7,1040.5 L313.1,1061.2 L315.0,1081.9 L317.1,1102.6 L319.2,1123.3 L320.8,1144.0 L322.2,1164.7 L323.2,1185.4 L622.5,1185.4 L624.5,1164.7 L627.8,1144.0 L632.0,1123.3 L643.6,1102.6 L650.5,1081.9 L653.5,1061.2 L655.3,1040.5 L657.5,1019.8 L670.5,999.1 L667.5,978.4 L679.3,957.7 L692.1,937.0Z" fill="#a3ff00" stroke="#a3ff00" stroke-width="0.6"/>
<path d="M307.8,937.0 L309.7,957.7 L311.8,978.4 L313.8,999.1 L315.7,1019.8 L316.3,1040.5 L317.0,1061.2 L319.0,1081.9 L321.2,1102.6 L323.3,1123.3 L325.0,1144.0 L326.5,1164.7 L327.7,1185.4 L607.5,1185.4 L610.0,1164.7 L613.7,1144.0 L617.5,1123.3 L627.3,1102.6 L636.0,1081.9 L638.5,1061.2 L640.1,1040.5 L642.0,1019.8 L656.7,999.1 L654.3,978.4 L666.7,957.7 L680.1,937.0Z" fill="#b8ff00" stroke="#b8ff00" stroke-width="0.6"/>
<path d="M311.1,937.0 L313.0,957.7 L315.2,978.4 L317.2,999.1 L319.1,1019.8 L320.0,1040.5 L320.9,1061.2 L323.0,1081.9 L325.2,1102.6 L327.5,1123.3 L329.2,1144.0 L330.9,1164.7 L332.2,1185.4 L592.5,1185.4 L595.5,1164.7 L599.5,1144.0 L603.0,1123.3 L610.9,1102.6 L621.5,1081.9 L623.5,1061.2 L624.9,1040.5 L626.5,1019.8 L642.9,999.1 L641.1,978.4 L654.0,957.7 L668.0,937.0Z" fill="#ceff00" stroke="#ceff00" stroke-width="0.6"/>
<path d="M314.5,937.0 L316.3,957.7 L318.7,978.4 L320.7,999.1 L322.6,1019.8 L323.7,1040.5 L324.8,1061.2 L327.0,1081.9 L329.3,1102.6 L331.7,1123.3 L333.5,1144.0 L335.3,1164.7 L336.7,1185.4 L577.4,1185.4 L581.0,1164.7 L585.3,1144.0 L588.5,1123.3 L594.5,1102.6 L607.0,1081.9 L608.6,1061.2 L609.7,1040.5 L611.0,1019.8 L629.1,999.1 L627.9,978.4 L641.3,957.7 L656.0,937.0Z" fill="#e4ff00" stroke="#e4ff00" stroke-width="0.6"/>
<path d="M317.8,937.0 L319.7,957.7 L322.1,978.4 L324.1,999.1 L326.1,1019.8 L327.3,1040.5 L328.7,1061.2 L331.0,1081.9 L333.4,1102.6 L335.8,1123.3 L337.8,1144.0 L339.6,1164.7 L341.2,1185.4 L562.4,1185.4 L566.5,1164.7 L571.2,1144.0 L574.0,1123.3 L578.2,1102.6 L592.5,1081.9 L593.6,1061.2 L594.5,1040.5 L595.5,1019.8 L615.3,999.1 L614.7,978.4 L628.7,957.7 L644.0,937.0Z" fill="#faff00" stroke="#faff00" stroke-width="0.6"/>
<path d="M321.1,937.0 L323.0,957.7 L325.5,978.4 L327.5,999.1 L329.6,1019.8 L331.0,1040.5 L332.6,1061.2 L335.0,1081.9 L337.5,1102.6 L340.0,1123.3 L342.0,1144.0 L344.0,1164.7 L345.7,1185.4 L547.4,1185.4 L552.0,1164.7 L557.0,1144.0 L559.5,1123.3 L561.8,1102.6 L578.0,1081.9 L578.6,1061.2 L579.3,1040.5 L580.0,1019.8 L601.5,999.1 L601.5,978.4 L616.0,957.7 L632.0,937.0Z" fill="#ffef00" stroke="#ffef00" stroke-width="0.6"/>
<path d="M325.5,937.0 L327.6,957.7 L330.2,978.4 L332.3,999.1 L334.8,1019.8 L336.7,1040.5 L338.3,1061.2 L340.5,1081.9 L344.6,1102.6 L348.7,1123.3 L352.3,1144.0 L359.4,1164.7 L361.9,1185.4 L526.6,1185.4 L531.8,1164.7 L538.5,1144.0 L542.8,1123.3 L547.2,1102.6 L564.8,1081.9 L565.7,1061.2 L566.7,1040.5 L567.7,1019.8 L586.7,999.1 L588.0,978.4 L602.2,957.7 L617.9,937.0Z" fill="#ffd900" stroke="#ffd900" stroke-width="0.6"/>
<path d="M329.9,937.0 L332.2,957.7 L334.8,978.4 L337.1,999.1 L340.1,1019.8 L342.3,1040.5 L343.9,1061.2 L346.0,1081.9 L351.7,1102.6 L357.3,1123.3 L362.7,1144.0 L374.9,1164.7 L378.0,1185.4 L505.9,1185.4 L511.5,1164.7 L520.0,1144.0 L526.0,1123.3 L532.5,1102.6 L551.6,1081.9 L552.7,1061.2 L554.0,1040.5 L555.3,1019.8 L571.9,999.1 L574.5,978.4 L588.3,957.7 L603.8,937.0Z" fill="#ffc300" stroke="#ffc300" stroke-width="0.6"/>
<path d="M334.3,937.0 L336.8,957.7 L339.5,978.4 L341.9,999.1 L345.3,1019.8 L348.0,1040.5 L349.6,1061.2 L351.5,1081.9 L358.8,1102.6 L366.0,1123.3 L373.0,1144.0 L390.3,1164.7 L394.2,1185.4 L485.1,1185.4 L491.3,1164.7 L501.5,1144.0 L509.2,1123.3 L517.9,1102.6 L538.4,1081.9 L539.8,1061.2 L541.4,1040.5 L543.0,1019.8 L557.1,999.1 L560.9,978.4 L574.5,957.7 L589.7,937.0Z" fill="#ffae00" stroke="#ffae00" stroke-width="0.6"/>
<path d="M338.7,937.0 L341.3,957.7 L344.2,978.4 L346.7,999.1 L350.5,1019.8 L353.7,1040.5 L355.2,1061.2 L357.0,1081.9 L365.8,1102.6 L374.7,1123.3 L383.3,1144.0 L405.8,1164.7 L410.4,1185.4 L464.3,1185.4 L471.0,1164.7 L483.0,1144.0 L492.5,1123.3 L503.3,1102.6 L525.2,1081.9 L526.9,1061.2 L528.8,1040.5 L530.7,1019.8 L542.4,999.1 L547.4,978.4 L560.7,957.7 L575.6,937.0Z" fill="#ff9800" stroke="#ff9800" stroke-width="0.6"/>
<path d="M343.1,937.0 L345.9,957.7 L348.8,978.4 L351.5,999.1 L355.8,1019.8 L359.3,1040.5 L360.8,1061.2 L362.5,1081.9 L372.9,1102.6 L383.3,1123.3 L393.7,1144.0 L421.2,1164.7 L426.6,1185.4 L443.5,1185.4 L450.8,1164.7 L464.5,1144.0 L475.8,1123.3 L488.6,1102.6 L512.0,1081.9 L513.9,1061.2 L516.1,1040.5 L518.3,1019.8 L527.6,999.1 L533.9,978.4 L546.8,957.7 L561.5,937.0Z" fill="#ff8200" stroke="#ff8200" stroke-width="0.6"/>
<path d="M347.5,937.0 L350.5,957.7 L353.5,978.4 L356.3,999.1 L361.0,1019.8 L365.0,1040.5 L366.5,1061.2 L368.0,1081.9 L380.0,1102.6 L392.0,1123.3 L404.0,1144.0 L434.0,1159.9 L446.0,1144.0 L459.0,1123.3 L474.0,1102.6 L498.8,1081.9 L501.0,1061.2 L503.5,1040.5 L506.0,1019.8 L512.8,999.1 L520.4,978.4 L533.0,957.7 L547.4,937.0Z" fill="#ff6d00" stroke="#ff6d00" stroke-width="0.6"/>
<path d="M353.8,937.0 L360.8,957.7 L364.8,978.4 L368.6,999.1 L373.2,1019.8 L379.3,1040.5 L382.4,1061.2 L390.7,1081.9 L414.4,1102.6 L434.0,1118.2 L453.6,1102.6 L476.8,1081.9 L485.3,1061.2 L489.0,1040.5 L494.1,1019.8 L500.3,999.1 L507.8,978.4 L519.4,957.7 L535.9,937.0Z" fill="#ff5700" stroke="#ff5700" stroke-width="0.6"/>
<path d="M360.1,937.0 L371.0,957.7 L376.1,978.4 L380.8,999.1 L385.4,1019.8 L393.6,1040.5 L398.3,1061.2 L420.4,1081.9 L434.0,1089.9 L447.6,1081.9 L469.6,1061.2 L474.6,1040.5 L482.1,1019.8 L487.7,999.1 L495.2,978.4 L505.8,957.7 L524.4,937.0Z" fill="#ff4100" stroke="#ff4100" stroke-width="0.6"/>
<path d="M366.4,937.0 L381.3,957.7 L387.4,978.4 L393.1,999.1 L397.6,1019.8 L416.8,1040.5 L434.0,1060.8 L451.2,1040.5 L470.2,1019.8 L475.2,999.1 L482.6,978.4 L492.2,957.7 L512.8,937.0Z" fill="#ff2b00" stroke="#ff2b00" stroke-width="0.6"/>
<path d="M372.7,937.0 L391.5,957.7 L398.7,978.4 L409.2,999.1 L426.7,1019.8 L434.0,1023.8 L441.3,1019.8 L458.8,999.1 L469.9,978.4 L478.6,957.7 L501.3,937.0Z" fill="#ff1600" stroke="#ff1600" stroke-width="0.6"/>
<path d="M379.0,937.0 L419.1,957.7 L429.1,978.4 L434.0,982.1 L438.9,978.4 L448.9,957.7 L489.8,937.0Z" fill="#ff0000" stroke="#ff0000" stroke-width="0.6"/>
<polyline points="237.0,937.0 237.5,957.7 238.0,978.4 239.0,999.1 240.0,1019.8 240.5,1040.5 239.0,1061.2 239.5,1081.9 241.0,1102.6 242.0,1123.3 243.0,1144.0 244.0,1164.7 244.8,1185.4" fill="none" stroke="#474747" stroke-width="1.25" stroke-linejoin="round"/>
<polyline points="247.9,937.0 248.5,957.7 249.5,978.4 250.5,999.1 251.4,1019.8 251.0,1040.5 249.9,1061.2 250.5,1081.9 252.0,1102.6 253.0,1123.3 254.0,1144.0 255.0,1164.7 255.6,1185.4" fill="none" stroke="#474747" stroke-width="1.25" stroke-linejoin="round"/>
<polyline points="258.9,937.0 259.8,957.7 261.0,978.4 262.5,999.1 263.4,1019.8 262.5,1040.5 261.4,1061.2 262.5,1081.9 264.0,1102.6 265.5,1123.3 266.5,1144.0 267.5,1164.7 268.3,1185.4" fill="none" stroke="#474747" stroke-width="1.25" stroke-linejoin="round"/>
<polyline points="271.3,937.0 272.5,957.7 274.0,978.4 275.5,999.1 276.8,1019.8 275.5,1040.5 274.3,1061.2 276.0,1081.9 278.0,1102.6 279.5,1123.3 281.0,1144.0 282.0,1164.7 282.7,1185.4" fill="none" stroke="#474747" stroke-width="1.25" stroke-linejoin="round"/>
<polyline points="763.6,1185.4 765.0,1164.7 768.0,1144.0 770.8,1123.3 775.0,1102.6 785.2,1081.9 787.0,1061.2 788.8,1040.5 797.8,1019.8 795.0,999.1 790.6,978.4 801.4,957.7" fill="none" stroke="#474747" stroke-width="1.25" stroke-linejoin="round"/>
<polyline points="284.8,937.0 286.0,957.7 287.5,978.4 289.2,999.1 290.8,1019.8 290.3,1040.5 289.8,1061.2 291.5,1081.9 293.0,1102.6 294.5,1123.3 295.5,1144.0 296.5,1164.7 297.1,1185.4" fill="none" stroke="#474747" stroke-width="1.25" stroke-linejoin="round"/>
<polyline points="709.5,1185.4 711.0,1164.7 714.0,1144.0 716.7,1123.3 722.0,1102.6 725.0,1081.9 728.0,1061.2 731.2,1040.5 736.0,1019.8 742.0,999.1 738.4,978.4 747.0,957.7 756.4,937.0" fill="none" stroke="#474747" stroke-width="1.25" stroke-linejoin="round"/>
<polyline points="301.2,937.0 303.0,957.7 305.0,978.4 307.0,999.1 308.7,1019.8 309.0,1040.5 309.2,1061.2 311.0,1081.9 313.0,1102.6 315.0,1123.3 316.5,1144.0 317.8,1164.7 318.7,1185.4" fill="none" stroke="#474747" stroke-width="1.25" stroke-linejoin="round"/>
<polyline points="637.5,1185.4 639.0,1164.7 642.0,1144.0 646.5,1123.3 660.0,1102.6 665.0,1081.9 668.5,1061.2 670.5,1040.5 673.0,1019.8 684.3,999.1 680.7,978.4 692.0,957.7 704.1,937.0" fill="none" stroke="#474747" stroke-width="1.25" stroke-linejoin="round"/>
<polyline points="321.1,937.0 323.0,957.7 325.5,978.4 327.5,999.1 329.6,1019.8 331.0,1040.5 332.6,1061.2 335.0,1081.9 337.5,1102.6 340.0,1123.3 342.0,1144.0 344.0,1164.7 345.7,1185.4" fill="none" stroke="#474747" stroke-width="1.25" stroke-linejoin="round"/>
<polyline points="547.4,1185.4 552.0,1164.7 557.0,1144.0 559.5,1123.3 561.8,1102.6 578.0,1081.9 578.6,1061.2 579.3,1040.5 580.0,1019.8 601.5,999.1 601.5,978.4 616.0,957.7 632.0,937.0" fill="none" stroke="#474747" stroke-width="1.25" stroke-linejoin="round"/>
<polyline points="347.5,937.0 350.5,957.7 353.5,978.4 356.3,999.1 361.0,1019.8 365.0,1040.5 366.5,1061.2 368.0,1081.9 380.0,1102.6 392.0,1123.3 404.0,1144.0 434.0,1159.9 446.0,1144.0 459.0,1123.3 474.0,1102.6 498.8,1081.9 501.0,1061.2 503.5,1040.5 506.0,1019.8 512.8,999.1 520.4,978.4 533.0,957.7 547.4,937.0" fill="none" stroke="#474747" stroke-width="1.25" stroke-linejoin="round"/>
<rect x="181.5" y="646.5" width="620" height="243.5" fill="none" stroke="#000" stroke-width="3"/>
<rect x="182" y="937" width="619.5" height="248.4" fill="none" stroke="#000" stroke-width="3"/>
<line x1="181.5" y1="890.0" x2="175.5" y2="890.0" stroke="#000" stroke-width="2.6"/>
<line x1="181.5" y1="808.8" x2="175.5" y2="808.8" stroke="#000" stroke-width="2.6"/>
<line x1="181.5" y1="727.7" x2="175.5" y2="727.7" stroke="#000" stroke-width="2.6"/>
<line x1="181.5" y1="646.5" x2="175.5" y2="646.5" stroke="#000" stroke-width="2.6"/>
<line x1="181.5" y1="849.4" x2="178.5" y2="849.4" stroke="#000" stroke-width="2.6"/>
<line x1="181.5" y1="768.2" x2="178.5" y2="768.2" stroke="#000" stroke-width="2.6"/>
<line x1="181.5" y1="687.1" x2="178.5" y2="687.1" stroke="#000" stroke-width="2.6"/>
<line x1="252.5" y1="890" x2="252.5" y2="897" stroke="#000" stroke-width="2.6"/>
<line x1="409.3" y1="890" x2="409.3" y2="897" stroke="#000" stroke-width="2.6"/>
<line x1="566.1" y1="890" x2="566.1" y2="897" stroke="#000" stroke-width="2.6"/>
<line x1="722.9" y1="890" x2="722.9" y2="897" stroke="#000" stroke-width="2.6"/>
<line x1="330.9" y1="890" x2="330.9" y2="894" stroke="#000" stroke-width="2.6"/>
<line x1="487.7" y1="890" x2="487.7" y2="894" stroke="#000" stroke-width="2.6"/>
<line x1="644.5" y1="890" x2="644.5" y2="894" stroke="#000" stroke-width="2.6"/>
<text x="137.44" y="898.00" font-size="16.70" fill="#000" font-weight="bold" textLength="26.43" lengthAdjust="spacingAndGlyphs" >0.8</text>
<text x="137.44" y="816.83" font-size="16.70" fill="#000" font-weight="bold" textLength="26.53" lengthAdjust="spacingAndGlyphs" >0.9</text>
<text x="137.03" y="735.66" font-size="16.70" fill="#000" font-weight="bold" textLength="27.05" lengthAdjust="spacingAndGlyphs" >1.0</text>
<text x="137.05" y="654.49" font-size="16.70" fill="#000" font-weight="bold" textLength="26.74" lengthAdjust="spacingAndGlyphs" >1.1</text>
<text x="226.09" y="915.50" font-size="18.60" fill="#000" font-weight="bold" textLength="52.67" lengthAdjust="spacingAndGlyphs" >11564</text>
<text x="382.88" y="915.50" font-size="18.60" fill="#000" font-weight="bold" textLength="53.17" lengthAdjust="spacingAndGlyphs" >11568</text>
<text x="539.68" y="915.50" font-size="18.60" fill="#000" font-weight="bold" textLength="53.37" lengthAdjust="spacingAndGlyphs" >11572</text>
<text x="696.48" y="915.50" font-size="18.60" fill="#000" font-weight="bold" textLength="53.27" lengthAdjust="spacingAndGlyphs" >11576</text>
<g transform="rotate(-90 127.3 819.8)"><text x="127.20" y="819.80" font-size="20.50" fill="#000" font-weight="bold" textLength="103.07" lengthAdjust="spacingAndGlyphs" >Voltage (V)</text></g>
<line x1="182" y1="1185.4" x2="175.9" y2="1185.4" stroke="#000" stroke-width="2.6"/>
<line x1="182" y1="1102.6" x2="175.9" y2="1102.6" stroke="#000" stroke-width="2.6"/>
<line x1="182" y1="1019.8" x2="175.9" y2="1019.8" stroke="#000" stroke-width="2.6"/>
<line x1="182" y1="937.0" x2="175.9" y2="937.0" stroke="#000" stroke-width="2.6"/>
<line x1="182" y1="1144.0" x2="179" y2="1144.0" stroke="#000" stroke-width="2.6"/>
<line x1="182" y1="1061.2" x2="179" y2="1061.2" stroke="#000" stroke-width="2.6"/>
<line x1="182" y1="978.4" x2="179" y2="978.4" stroke="#000" stroke-width="2.6"/>
<line x1="264.2" y1="1185.4" x2="264.2" y2="1192.5" stroke="#000" stroke-width="2.6"/>
<line x1="429.6" y1="1185.4" x2="429.6" y2="1192.5" stroke="#000" stroke-width="2.6"/>
<line x1="595.0" y1="1185.4" x2="595.0" y2="1192.5" stroke="#000" stroke-width="2.6"/>
<line x1="760.4" y1="1185.4" x2="760.4" y2="1192.5" stroke="#000" stroke-width="2.6"/>
<line x1="346.9" y1="1185.4" x2="346.9" y2="1189.5" stroke="#000" stroke-width="2.6"/>
<line x1="512.3" y1="1185.4" x2="512.3" y2="1189.5" stroke="#000" stroke-width="2.6"/>
<line x1="677.7" y1="1185.4" x2="677.7" y2="1189.5" stroke="#000" stroke-width="2.6"/>
<text x="142.72" y="1191.00" font-size="16.20" fill="#000" font-weight="bold" textLength="27.07" lengthAdjust="spacingAndGlyphs" >0.8</text>
<text x="142.72" y="1108.20" font-size="16.20" fill="#000" font-weight="bold" textLength="27.17" lengthAdjust="spacingAndGlyphs" >0.9</text>
<text x="142.30" y="1025.40" font-size="16.20" fill="#000" font-weight="bold" textLength="27.70" lengthAdjust="spacingAndGlyphs" >1.0</text>
<text x="142.32" y="942.60" font-size="16.20" fill="#000" font-weight="bold" textLength="27.38" lengthAdjust="spacingAndGlyphs" >1.1</text>
<text x="242.10" y="1212.60" font-size="18.20" fill="#000" font-weight="bold" textLength="44.60" lengthAdjust="spacingAndGlyphs" >9664</text>
<text x="407.49" y="1212.60" font-size="18.20" fill="#000" font-weight="bold" textLength="45.11" lengthAdjust="spacingAndGlyphs" >9668</text>
<text x="572.89" y="1212.60" font-size="18.20" fill="#000" font-weight="bold" textLength="45.32" lengthAdjust="spacingAndGlyphs" >9672</text>
<text x="738.29" y="1212.60" font-size="18.20" fill="#000" font-weight="bold" textLength="45.22" lengthAdjust="spacingAndGlyphs" >9676</text>
<g transform="rotate(-90 126.7 1117)"><text x="126.59" y="1117.00" font-size="21.90" fill="#000" font-weight="bold" >Voltage (V)</text></g>
<text x="431.60" y="1247.30" font-size="19.30" fill="#000" font-weight="bold" textLength="119.72" lengthAdjust="spacingAndGlyphs" >Energy (eV)</text>
<rect x="806.9" y="646.1" width="39.2" height="11.9" fill="#fff"/>
<rect x="806.9" y="1162.17" width="39.2" height="11.03" fill="#0000ff"/>
<rect x="806.9" y="1151.45" width="39.2" height="11.03" fill="#0016ff"/>
<rect x="806.9" y="1140.72" width="39.2" height="11.03" fill="#002bff"/>
<rect x="806.9" y="1129.99" width="39.2" height="11.03" fill="#0041ff"/>
<rect x="806.9" y="1119.26" width="39.2" height="11.03" fill="#0057ff"/>
<rect x="806.9" y="1108.54" width="39.2" height="11.03" fill="#006dff"/>
<rect x="806.9" y="1097.81" width="39.2" height="11.03" fill="#0082ff"/>
<rect x="806.9" y="1087.08" width="39.2" height="11.03" fill="#0098ff"/>
<rect x="806.9" y="1076.36" width="39.2" height="11.03" fill="#00aeff"/>
<rect x="806.9" y="1065.63" width="39.2" height="11.03" fill="#00c3ff"/>
<rect x="806.9" y="1054.90" width="39.2" height="11.03" fill="#00d9ff"/>
<rect x="806.9" y="1044.18" width="39.2" height="11.03" fill="#00efff"/>
<rect x="806.9" y="1033.45" width="39.2" height="11.03" fill="#00fffa"/>
<rect x="806.9" y="1022.72" width="39.2" height="11.03" fill="#00ffe4"/>
<rect x="806.9" y="1011.99" width="39.2" height="11.03" fill="#00ffce"/>
<rect x="806.9" y="1001.27" width="39.2" height="11.03" fill="#00ffb8"/>
<rect x="806.9" y="990.54" width="39.2" height="11.03" fill="#00ffa3"/>
<rect x="806.9" y="979.81" width="39.2" height="11.03" fill="#00ff8d"/>
<rect x="806.9" y="969.09" width="39.2" height="11.03" fill="#00ff77"/>
<rect x="806.9" y="958.36" width="39.2" height="11.03" fill="#00ff62"/>
<rect x="806.9" y="947.63" width="39.2" height="11.03" fill="#00ff4c"/>
<rect x="806.9" y="936.90" width="39.2" height="11.03" fill="#00ff36"/>
<rect x="806.9" y="926.18" width="39.2" height="11.03" fill="#00ff21"/>
<rect x="806.9" y="915.45" width="39.2" height="11.03" fill="#00ff0b"/>
<rect x="806.9" y="904.72" width="39.2" height="11.03" fill="#0bff00"/>
<rect x="806.9" y="894.00" width="39.2" height="11.03" fill="#21ff00"/>
<rect x="806.9" y="883.27" width="39.2" height="11.03" fill="#36ff00"/>
<rect x="806.9" y="872.54" width="39.2" height="11.03" fill="#4cff00"/>
<rect x="806.9" y="861.81" width="39.2" height="11.03" fill="#62ff00"/>
<rect x="806.9" y="851.09" width="39.2" height="11.03" fill="#77ff00"/>
<rect x="806.9" y="840.36" width="39.2" height="11.03" fill="#8dff00"/>
<rect x="806.9" y="829.63" width="39.2" height="11.03" fill="#a3ff00"/>
<rect x="806.9" y="818.91" width="39.2" height="11.03" fill="#b8ff00"/>
<rect x="806.9" y="808.18" width="39.2" height="11.03" fill="#ceff00"/>
<rect x="806.9" y="797.45" width="39.2" height="11.03" fill="#e4ff00"/>
<rect x="806.9" y="786.73" width="39.2" height="11.03" fill="#faff00"/>
<rect x="806.9" y="776.00" width="39.2" height="11.03" fill="#ffef00"/>
<rect x="806.9" y="765.27" width="39.2" height="11.03" fill="#ffd900"/>
<rect x="806.9" y="754.54" width="39.2" height="11.03" fill="#ffc300"/>
<rect x="806.9" y="743.82" width="39.2" height="11.03" fill="#ffae00"/>
<rect x="806.9" y="733.09" width="39.2" height="11.03" fill="#ff9800"/>
<rect x="806.9" y="722.36" width="39.2" height="11.03" fill="#ff8200"/>
<rect x="806.9" y="711.64" width="39.2" height="11.03" fill="#ff6d00"/>
<rect x="806.9" y="700.91" width="39.2" height="11.03" fill="#ff5700"/>
<rect x="806.9" y="690.18" width="39.2" height="11.03" fill="#ff4100"/>
<rect x="806.9" y="679.45" width="39.2" height="11.03" fill="#ff2b00"/>
<rect x="806.9" y="668.73" width="39.2" height="11.03" fill="#ff1600"/>
<rect x="806.9" y="658.00" width="39.2" height="11.03" fill="#ff0000"/>
<rect x="806.9" y="1172.9" width="39.2" height="11.2" fill="#000"/>
<rect x="806.9" y="646.1" width="39.2" height="538" fill="none" stroke="#000" stroke-width="1.6"/>
<line x1="846.1" y1="658.0" x2="851" y2="658.0" stroke="#000" stroke-width="1.4"/>
<line x1="846.1" y1="722.4" x2="851" y2="722.4" stroke="#000" stroke-width="1.4"/>
<line x1="846.1" y1="786.7" x2="851" y2="786.7" stroke="#000" stroke-width="1.4"/>
<line x1="846.1" y1="851.1" x2="851" y2="851.1" stroke="#000" stroke-width="1.4"/>
<line x1="846.1" y1="915.5" x2="851" y2="915.5" stroke="#000" stroke-width="1.4"/>
<line x1="846.1" y1="979.8" x2="851" y2="979.8" stroke="#000" stroke-width="1.4"/>
<line x1="846.1" y1="1044.2" x2="851" y2="1044.2" stroke="#000" stroke-width="1.4"/>
<line x1="846.1" y1="1108.5" x2="851" y2="1108.5" stroke="#000" stroke-width="1.4"/>
<line x1="846.1" y1="1172.9" x2="851" y2="1172.9" stroke="#000" stroke-width="1.4"/>
<text x="853.39" y="670.90" font-size="30.50" fill="#000" font-weight="bold" textLength="61.95" lengthAdjust="spacingAndGlyphs" >1.35</text>
<text x="853.22" y="1183.60" font-size="31.00" fill="#000" font-weight="bold" textLength="62.18" lengthAdjust="spacingAndGlyphs" >0.44</text>
<text x="30.07" y="695.70" font-size="63.00" fill="#000" font-weight="bold" textLength="29.59" lengthAdjust="spacingAndGlyphs" >c</text>
<text x="37.53" y="1003.60" font-size="63.00" fill="#000" font-weight="bold" textLength="39.31" lengthAdjust="spacingAndGlyphs" >d</text></svg>
</body></html>
